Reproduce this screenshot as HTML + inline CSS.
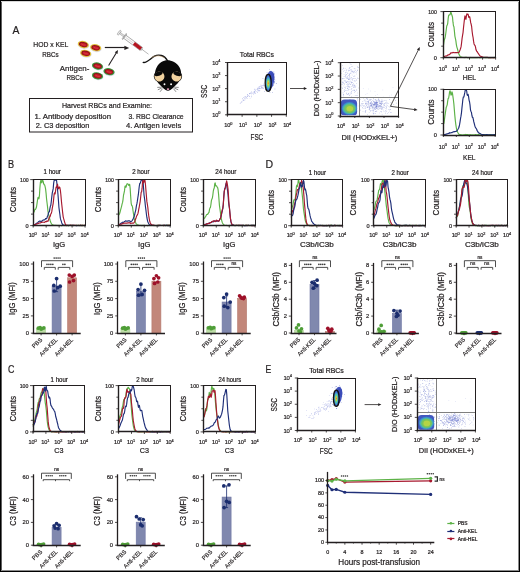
<!DOCTYPE html>
<html><head><meta charset="utf-8"><style>
html,body{margin:0;padding:0;background:#fff;overflow:hidden;}
svg{display:block;will-change:transform;}
text.t{stroke-width:0.2px;}
text.u{stroke-width:0.15px;}
text{font-family:"Liberation Sans", sans-serif;fill:#231f20;stroke:#231f20;stroke-width:0.22px;}
</style></head><body>
<svg width="520" height="572" viewBox="0 0 520 572">
<defs><filter id="bl" x="-30%" y="-30%" width="160%" height="160%"><feGaussianBlur stdDeviation="0.7"/></filter></defs>
<rect x="0.5" y="0.5" width="519" height="571" fill="#fff" stroke="#000" stroke-width="1"/>
<path d="M1.5 1V571" stroke="#606060" stroke-width="1"/><path d="M518.5 1V571" stroke="#8a8a8a" stroke-width="1"/>
<path d="M1 1.5H519" stroke="#d8d8d8" stroke-width="1"/><path d="M1 570.5H519" stroke="#8a8a8a" stroke-width="1"/>
<text x="12.6" y="33.8" font-size="10.8" textLength="6.9" lengthAdjust="spacingAndGlyphs">A</text>
<text x="8" y="167.8" font-size="11" textLength="6.1" lengthAdjust="spacingAndGlyphs">B</text>
<text x="8" y="373" font-size="11" textLength="6.4" lengthAdjust="spacingAndGlyphs">C</text>
<text x="265.5" y="167.8" font-size="11" textLength="7.6" lengthAdjust="spacingAndGlyphs">D</text>
<text x="265.6" y="373" font-size="11" textLength="5.8" lengthAdjust="spacingAndGlyphs">E</text>
<text x="33.3" y="47.3" font-size="7.8" textLength="35.1" lengthAdjust="spacingAndGlyphs">HOD x KEL</text>
<text x="42.2" y="56.9" font-size="7.8" textLength="16.4" lengthAdjust="spacingAndGlyphs">RBCs</text>
<text x="59.8" y="70.6" font-size="7.8" textLength="29.6" lengthAdjust="spacingAndGlyphs">Antigen-</text>
<text x="66.5" y="80.2" font-size="7.8" textLength="16.5" lengthAdjust="spacingAndGlyphs">RBCs</text>
<g transform="translate(83.3 44.5) rotate(12)">
<ellipse cx="0.3" cy="0.5" rx="5.9" ry="3.8" fill="#c8cde8" opacity="0.6"/>
<ellipse cx="0" cy="0" rx="5.6" ry="3.5" fill="#e2c13a"/>
<ellipse cx="0" cy="0" rx="4.4" ry="2.5" fill="#8c1018"/>
<ellipse cx="0.2" cy="0.1" rx="3.5" ry="1.75" fill="#c41c26"/>
<path d="M-2.2 -0.2 Q0 0.8 2.4 0.2" stroke="#e65058" stroke-width="0.5" fill="none"/>
</g>
<g transform="translate(95.7 47.7) rotate(12)">
<ellipse cx="0.3" cy="0.5" rx="5.9" ry="3.8" fill="#c8cde8" opacity="0.6"/>
<ellipse cx="0" cy="0" rx="5.6" ry="3.5" fill="#e2c13a"/>
<ellipse cx="0" cy="0" rx="4.4" ry="2.5" fill="#8c1018"/>
<ellipse cx="0.2" cy="0.1" rx="3.5" ry="1.75" fill="#c41c26"/>
<path d="M-2.2 -0.2 Q0 0.8 2.4 0.2" stroke="#e65058" stroke-width="0.5" fill="none"/>
</g>
<g transform="translate(85.7 53.3) rotate(12)">
<ellipse cx="0.3" cy="0.5" rx="5.9" ry="3.8" fill="#c8cde8" opacity="0.6"/>
<ellipse cx="0" cy="0" rx="5.6" ry="3.5" fill="#e2c13a"/>
<ellipse cx="0" cy="0" rx="4.4" ry="2.5" fill="#8c1018"/>
<ellipse cx="0.2" cy="0.1" rx="3.5" ry="1.75" fill="#c41c26"/>
<path d="M-2.2 -0.2 Q0 0.8 2.4 0.2" stroke="#e65058" stroke-width="0.5" fill="none"/>
</g>
<g transform="translate(97.5 66) rotate(12)">
<ellipse cx="0.3" cy="0.5" rx="5.9" ry="3.8" fill="#c8cde8" opacity="0.6"/>
<ellipse cx="0" cy="0" rx="5.6" ry="3.5" fill="#3c9a3c"/>
<ellipse cx="0" cy="0" rx="4.4" ry="2.5" fill="#8c1018"/>
<ellipse cx="0.2" cy="0.1" rx="3.5" ry="1.75" fill="#c41c26"/>
<path d="M-2.2 -0.2 Q0 0.8 2.4 0.2" stroke="#e65058" stroke-width="0.5" fill="none"/>
</g>
<g transform="translate(109 71.7) rotate(12)">
<ellipse cx="0.3" cy="0.5" rx="5.9" ry="3.8" fill="#c8cde8" opacity="0.6"/>
<ellipse cx="0" cy="0" rx="5.6" ry="3.5" fill="#3c9a3c"/>
<ellipse cx="0" cy="0" rx="4.4" ry="2.5" fill="#8c1018"/>
<ellipse cx="0.2" cy="0.1" rx="3.5" ry="1.75" fill="#c41c26"/>
<path d="M-2.2 -0.2 Q0 0.8 2.4 0.2" stroke="#e65058" stroke-width="0.5" fill="none"/>
</g>
<g transform="translate(97.5 75.8) rotate(12)">
<ellipse cx="0.3" cy="0.5" rx="5.9" ry="3.8" fill="#c8cde8" opacity="0.6"/>
<ellipse cx="0" cy="0" rx="5.6" ry="3.5" fill="#3c9a3c"/>
<ellipse cx="0" cy="0" rx="4.4" ry="2.5" fill="#8c1018"/>
<ellipse cx="0.2" cy="0.1" rx="3.5" ry="1.75" fill="#c41c26"/>
<path d="M-2.2 -0.2 Q0 0.8 2.4 0.2" stroke="#e65058" stroke-width="0.5" fill="none"/>
</g>
<line x1="104.8" y1="47.5" x2="124.9" y2="47.5" stroke="#231f20" stroke-width="1.2"/>
<path d="M129.2 47.9L124.4 50.1L124.4 45.7z" fill="#231f20"/>
<line x1="108.6" y1="65.4" x2="116.38" y2="52.65" stroke="#231f20" stroke-width="1.05"/>
<path d="M118 50L117.49 53.91L114.76 52.24z" fill="#231f20"/>
<g transform="translate(119 32.5) rotate(36.32)">
<rect x="-0.6" y="-2.6" width="1.8" height="5.2" rx="0.8" fill="#e8e8e8" stroke="#8a8a8a" stroke-width="0.5"/>
<rect x="1.2" y="-0.8" width="5" height="1.6" fill="#e0e0e0" stroke="#8a8a8a" stroke-width="0.45"/>
<rect x="6.2" y="-3.4" width="1.0" height="6.8" fill="#d8d8d8" stroke="#7a7a7a" stroke-width="0.45"/>
<rect x="7.2" y="-1.9" width="20.5" height="3.8" fill="#fafafa" stroke="#6a6a6a" stroke-width="0.5"/>
<line x1="8" y1="0" x2="18" y2="0" stroke="#b0b0b0" stroke-width="0.4"/>
<rect x="18.5" y="-1.7" width="9" height="3.4" fill="#b5141f"/>
<rect x="27.5" y="-0.9" width="1.4" height="1.8" fill="#c8c8c8" stroke="#7a7a7a" stroke-width="0.3"/>
<line x1="28.9" y1="0" x2="36.62" y2="0" stroke="#8a8a8a" stroke-width="0.55"/>
</g>
<path d="M143.2 62.4 C 146.5 63.4, 150.5 58.5, 154.5 56.2 C 158.5 54.0, 164.5 55.0, 167.6 60.8" fill="none" stroke="#111" stroke-width="1.35" stroke-linecap="round"/>
<path d="M151.5 57.6 C 155 55.4, 160.5 55.2, 164.5 57.8" fill="none" stroke="#d9b07a" stroke-width="0.55"/>
<path d="M168 90.8 C 165.5 90.8, 160 85.5, 157.5 82 C 154.5 78, 154.2 72, 156.6 67.5 C 159 62.5, 163.5 60.2, 167.5 60.2 C 171.5 60.2, 177 62.5, 179.6 67.5 C 182 72, 181.6 78, 178.6 82 C 176 85.5, 170.5 90.8, 168 90.8 Z" fill="#0a0a0a"/>
<g transform="rotate(-18 159.4 76.3)">
<ellipse cx="159.4" cy="76.3" rx="5.6" ry="5.5" fill="#0a0a0a"/>
<ellipse cx="159.4" cy="76.5" rx="5.0" ry="4.9" fill="#f2d3a0"/>
<ellipse cx="159.4" cy="73.6" rx="4.1" ry="2.1" fill="#0a0a0a"/>
</g>
<g transform="rotate(18 176.5 76.3)">
<ellipse cx="176.5" cy="76.3" rx="5.6" ry="5.5" fill="#0a0a0a"/>
<ellipse cx="176.5" cy="76.5" rx="5.0" ry="4.9" fill="#f2d3a0"/>
<ellipse cx="176.5" cy="73.6" rx="4.1" ry="2.1" fill="#0a0a0a"/>
</g>
<circle cx="164.5" cy="84.2" r="0.95" fill="#fff"/><circle cx="171.1" cy="84.2" r="0.95" fill="#fff"/>
<ellipse cx="168" cy="89.1" rx="1.25" ry="0.95" fill="#f2a6c6"/>
<line x1="161.5" y1="87.2" x2="157.3" y2="87.4" stroke="#2a2a2a" stroke-width="0.55"/>
<line x1="161.8" y1="88" x2="157.8" y2="89.8" stroke="#2a2a2a" stroke-width="0.55"/>
<line x1="162.6" y1="88.6" x2="160" y2="91.8" stroke="#2a2a2a" stroke-width="0.55"/>
<line x1="174.5" y1="87.2" x2="178.7" y2="87.4" stroke="#2a2a2a" stroke-width="0.55"/>
<line x1="174.2" y1="88" x2="178.2" y2="89.8" stroke="#2a2a2a" stroke-width="0.55"/>
<line x1="173.4" y1="88.6" x2="176" y2="91.8" stroke="#2a2a2a" stroke-width="0.55"/>
<rect x="29.5" y="98.5" width="163" height="33.5" fill="none" stroke="#231f20" stroke-width="1"/>
<text x="61.9" y="108" font-size="7.8" textLength="90.2" lengthAdjust="spacingAndGlyphs">Harvest RBCs and Examine:</text>
<text x="34.5" y="118.9" font-size="7.8" textLength="76.5" lengthAdjust="spacingAndGlyphs">1. Antibody deposition</text>
<text x="35.7" y="128.2" font-size="7.8" textLength="53.7" lengthAdjust="spacingAndGlyphs">2. C3 deposition</text>
<text x="128.4" y="118.9" font-size="7.8" textLength="55.3" lengthAdjust="spacingAndGlyphs">3. RBC Clearance</text>
<text x="126.1" y="127.9" font-size="7.8" textLength="55.1" lengthAdjust="spacingAndGlyphs">4. Antigen levels</text>
<path d="M243.24 100.01h0.55v0.55h-0.55zM249.8 98.28h0.55v0.55h-0.55zM261.55 85.11h0.55v0.55h-0.55zM254.85 90.04h0.55v0.55h-0.55zM243.5 97.06h0.55v0.55h-0.55zM253.14 94.32h0.55v0.55h-0.55zM251.48 91.3h0.55v0.55h-0.55zM244 98.2h0.55v0.55h-0.55zM259.21 90.61h0.55v0.55h-0.55zM243.31 99.97h0.55v0.55h-0.55zM251.03 95.79h0.55v0.55h-0.55zM254.58 93.27h0.55v0.55h-0.55zM250.6 92.97h0.55v0.55h-0.55zM254.43 92.3h0.55v0.55h-0.55zM259.3 87.97h0.55v0.55h-0.55zM262.55 85.62h0.55v0.55h-0.55zM247.45 94.72h0.55v0.55h-0.55zM257.2 92.38h0.55v0.55h-0.55zM257.43 88.33h0.55v0.55h-0.55zM247.15 94.12h0.55v0.55h-0.55zM239.89 103.09h0.55v0.55h-0.55zM263.4 85.21h0.55v0.55h-0.55zM248.71 95.64h0.55v0.55h-0.55zM247.29 94.71h0.55v0.55h-0.55zM261.87 85.16h0.55v0.55h-0.55zM254.77 89.76h0.55v0.55h-0.55zM252.37 93.44h0.55v0.55h-0.55zM258.87 87.6h0.55v0.55h-0.55zM241.59 101.87h0.55v0.55h-0.55zM259.79 86.47h0.55v0.55h-0.55zM251.39 93.62h0.55v0.55h-0.55zM242.96 100.56h0.55v0.55h-0.55zM258.12 90.63h0.55v0.55h-0.55zM262.72 87.22h0.55v0.55h-0.55zM245.89 97.05h0.55v0.55h-0.55zM257.15 89.35h0.55v0.55h-0.55zM250.95 96.62h0.55v0.55h-0.55zM261.05 88.22h0.55v0.55h-0.55zM257.83 88.73h0.55v0.55h-0.55zM247.32 96.33h0.55v0.55h-0.55zM260.91 86.91h0.55v0.55h-0.55zM258.65 88.8h0.55v0.55h-0.55zM258.56 88.44h0.55v0.55h-0.55zM259.23 86.29h0.55v0.55h-0.55zM250.43 93.38h0.55v0.55h-0.55zM260.15 88.17h0.55v0.55h-0.55zM262.17 88.01h0.55v0.55h-0.55zM243.47 99.59h0.55v0.55h-0.55zM260.59 84.87h0.55v0.55h-0.55zM251.76 91.88h0.55v0.55h-0.55zM253.64 92.35h0.55v0.55h-0.55zM245.74 98.35h0.55v0.55h-0.55zM256.84 89.3h0.55v0.55h-0.55zM247.8 95.41h0.55v0.55h-0.55zM261.38 86.18h0.55v0.55h-0.55zM247.79 94.99h0.55v0.55h-0.55zM254.57 88.68h0.55v0.55h-0.55zM250.88 92.39h0.55v0.55h-0.55zM257.13 91.63h0.55v0.55h-0.55zM243.77 97.57h0.55v0.55h-0.55zM245.32 96.58h0.55v0.55h-0.55zM259.35 87.66h0.55v0.55h-0.55zM256.93 87.79h0.55v0.55h-0.55zM254.73 91.07h0.55v0.55h-0.55zM260.99 86.28h0.55v0.55h-0.55zM246.97 95.97h0.55v0.55h-0.55zM260.2 86.53h0.55v0.55h-0.55zM244.52 99.88h0.55v0.55h-0.55zM263.44 83.86h0.55v0.55h-0.55zM255.27 90h0.55v0.55h-0.55zM258.3 90.13h0.55v0.55h-0.55zM263.47 85.45h0.55v0.55h-0.55zM259.56 90.08h0.55v0.55h-0.55zM259.08 88.34h0.55v0.55h-0.55zM241.75 101.21h0.55v0.55h-0.55zM249.04 96.18h0.55v0.55h-0.55zM242.49 99.81h0.55v0.55h-0.55zM244.8 96.67h0.55v0.55h-0.55zM247 98.16h0.55v0.55h-0.55zM261.91 87.84h0.55v0.55h-0.55zM244.71 98.87h0.55v0.55h-0.55zM249.46 96.17h0.55v0.55h-0.55zM253.11 92.95h0.55v0.55h-0.55zM262.31 86.9h0.55v0.55h-0.55zM262.84 85.75h0.55v0.55h-0.55zM260.04 88.52h0.55v0.55h-0.55zM246.28 96.92h0.55v0.55h-0.55zM255.75 89.29h0.55v0.55h-0.55zM258.31 90.1h0.55v0.55h-0.55zM240.6 102.22h0.55v0.55h-0.55zM257.94 88.58h0.55v0.55h-0.55zM250.53 92.56h0.55v0.55h-0.55zM254.77 92.6h0.55v0.55h-0.55zM256.14 91.38h0.55v0.55h-0.55zM257.03 90.45h0.55v0.55h-0.55zM253.96 89.19h0.55v0.55h-0.55zM253.99 91.36h0.55v0.55h-0.55zM244.69 95.9h0.55v0.55h-0.55zM253.68 91.4h0.55v0.55h-0.55zM242.01 98.12h0.55v0.55h-0.55zM253.9 91.83h0.55v0.55h-0.55zM255.23 93.13h0.55v0.55h-0.55zM259.37 86.52h0.55v0.55h-0.55zM249.48 93.78h0.55v0.55h-0.55zM241.21 101.78h0.55v0.55h-0.55zM254.62 91.1h0.55v0.55h-0.55zM246.48 96.72h0.55v0.55h-0.55zM258.29 86.83h0.55v0.55h-0.55zM249.07 93.37h0.55v0.55h-0.55zM249.38 92.99h0.55v0.55h-0.55z" fill="#9aa2e0"/>
<path d="M267.97 80.17h0.6v0.6h-0.6zM272.89 84.79h0.6v0.6h-0.6zM265.51 80.59h0.6v0.6h-0.6zM267.82 81.65h0.6v0.6h-0.6zM265.42 81.72h0.6v0.6h-0.6zM268.88 88.45h0.6v0.6h-0.6zM269.8 83.64h0.6v0.6h-0.6zM264.31 90.91h0.6v0.6h-0.6zM264.1 85.52h0.6v0.6h-0.6zM269.22 77.08h0.6v0.6h-0.6zM268.3 77.91h0.6v0.6h-0.6zM270.38 80.84h0.6v0.6h-0.6zM274.18 73.41h0.6v0.6h-0.6zM270.01 77.14h0.6v0.6h-0.6zM272.7 71.84h0.6v0.6h-0.6zM268.44 82.03h0.6v0.6h-0.6zM265.2 85.15h0.6v0.6h-0.6zM269.13 85.84h0.6v0.6h-0.6zM272.35 77.09h0.6v0.6h-0.6zM267.65 79.99h0.6v0.6h-0.6zM270.59 85.34h0.6v0.6h-0.6zM268.13 78.18h0.6v0.6h-0.6zM267.91 78.26h0.6v0.6h-0.6zM268.93 80.52h0.6v0.6h-0.6zM274.63 79.63h0.6v0.6h-0.6zM268.4 83.18h0.6v0.6h-0.6zM267.39 79.18h0.6v0.6h-0.6zM268.9 84.73h0.6v0.6h-0.6zM265.33 86.97h0.6v0.6h-0.6zM268.45 81.84h0.6v0.6h-0.6zM270.96 84.51h0.6v0.6h-0.6zM271.79 82.37h0.6v0.6h-0.6zM269.14 82.63h0.6v0.6h-0.6zM266.2 86.37h0.6v0.6h-0.6zM268.43 75.19h0.6v0.6h-0.6zM274.37 81.32h0.6v0.6h-0.6zM265.33 89.2h0.6v0.6h-0.6zM267.89 85.91h0.6v0.6h-0.6zM267.6 79.77h0.6v0.6h-0.6zM266.71 71.91h0.6v0.6h-0.6zM267.14 80.49h0.6v0.6h-0.6zM269.63 92.52h0.6v0.6h-0.6zM266.26 85.42h0.6v0.6h-0.6zM268.07 80.29h0.6v0.6h-0.6zM266.9 73.94h0.6v0.6h-0.6zM268.37 75.49h0.6v0.6h-0.6zM269.87 78h0.6v0.6h-0.6zM272.26 82.34h0.6v0.6h-0.6zM269.01 86.43h0.6v0.6h-0.6zM270.66 81.22h0.6v0.6h-0.6zM269.27 80.62h0.6v0.6h-0.6zM271.42 85.15h0.6v0.6h-0.6zM269.72 84.96h0.6v0.6h-0.6zM267.76 83.33h0.6v0.6h-0.6zM265.12 86.82h0.6v0.6h-0.6zM269.49 82.07h0.6v0.6h-0.6zM270.83 81.37h0.6v0.6h-0.6zM267.98 86.52h0.6v0.6h-0.6zM270.3 77.08h0.6v0.6h-0.6zM271.62 73.6h0.6v0.6h-0.6zM273.45 81.02h0.6v0.6h-0.6zM267.96 91.49h0.6v0.6h-0.6zM274.43 82.5h0.6v0.6h-0.6zM270.13 86.38h0.6v0.6h-0.6zM273.48 81.21h0.6v0.6h-0.6zM268.88 86.82h0.6v0.6h-0.6zM269.52 84.73h0.6v0.6h-0.6zM271.63 76.26h0.6v0.6h-0.6zM269.18 68.88h0.6v0.6h-0.6zM267.86 87.2h0.6v0.6h-0.6zM265.92 86.41h0.6v0.6h-0.6zM271.81 81.31h0.6v0.6h-0.6zM269.32 81.57h0.6v0.6h-0.6zM267.55 79.61h0.6v0.6h-0.6zM268.87 83.97h0.6v0.6h-0.6zM271.79 78.11h0.6v0.6h-0.6zM271.89 77.96h0.6v0.6h-0.6zM268.75 82.82h0.6v0.6h-0.6zM269.43 80.61h0.6v0.6h-0.6zM270.42 78.78h0.6v0.6h-0.6zM267.99 80.04h0.6v0.6h-0.6zM271.75 81.08h0.6v0.6h-0.6zM273.77 82.86h0.6v0.6h-0.6zM262.64 78.13h0.6v0.6h-0.6zM273.35 81.83h0.6v0.6h-0.6zM268.96 77.07h0.6v0.6h-0.6zM271.85 86.24h0.6v0.6h-0.6zM270.7 83.39h0.6v0.6h-0.6zM272.25 85.45h0.6v0.6h-0.6zM265.95 84.25h0.6v0.6h-0.6zM269.88 80.76h0.6v0.6h-0.6zM271.19 81.6h0.6v0.6h-0.6zM261.37 87.23h0.6v0.6h-0.6zM271.95 81.01h0.6v0.6h-0.6zM268.36 82.1h0.6v0.6h-0.6zM266.14 82.13h0.6v0.6h-0.6zM269.1 79.51h0.6v0.6h-0.6zM267.68 77.78h0.6v0.6h-0.6zM271.11 87.67h0.6v0.6h-0.6zM270.62 81.17h0.6v0.6h-0.6zM266.82 84.15h0.6v0.6h-0.6zM274.33 74.43h0.6v0.6h-0.6zM273.68 71.77h0.6v0.6h-0.6zM268.33 82.83h0.6v0.6h-0.6zM267.2 73.81h0.6v0.6h-0.6zM269.24 85.25h0.6v0.6h-0.6zM267.35 87.14h0.6v0.6h-0.6zM266.34 88.9h0.6v0.6h-0.6zM269.52 82.31h0.6v0.6h-0.6zM270.64 82.88h0.6v0.6h-0.6zM272.26 91.9h0.6v0.6h-0.6zM270.81 80.64h0.6v0.6h-0.6zM267.13 77.35h0.6v0.6h-0.6zM269.49 80.74h0.6v0.6h-0.6zM269.29 81.21h0.6v0.6h-0.6zM271.5 75.23h0.6v0.6h-0.6zM266.2 85.94h0.6v0.6h-0.6zM271.76 79.06h0.6v0.6h-0.6zM272.94 78.59h0.6v0.6h-0.6zM270.06 72.81h0.6v0.6h-0.6zM271.42 81.46h0.6v0.6h-0.6zM271.45 84.81h0.6v0.6h-0.6zM269.52 81.99h0.6v0.6h-0.6zM272.36 80.93h0.6v0.6h-0.6zM269.01 81.51h0.6v0.6h-0.6zM270.7 85.76h0.6v0.6h-0.6zM274.03 81.63h0.6v0.6h-0.6zM272.89 78.82h0.6v0.6h-0.6zM270.8 82.15h0.6v0.6h-0.6zM273.16 84.78h0.6v0.6h-0.6zM268.01 83.88h0.6v0.6h-0.6zM270.51 80.1h0.6v0.6h-0.6zM269.43 77.03h0.6v0.6h-0.6zM275.93 83.04h0.6v0.6h-0.6zM272.59 76.49h0.6v0.6h-0.6zM267.01 80.36h0.6v0.6h-0.6zM268.58 85.04h0.6v0.6h-0.6zM266.73 83.54h0.6v0.6h-0.6zM273.71 77.83h0.6v0.6h-0.6zM272.3 77.41h0.6v0.6h-0.6zM270.06 83.23h0.6v0.6h-0.6zM274.08 78.93h0.6v0.6h-0.6zM269.17 86.26h0.6v0.6h-0.6zM266.71 80.99h0.6v0.6h-0.6zM267.9 77.94h0.6v0.6h-0.6zM270.62 84.88h0.6v0.6h-0.6zM274.66 88.64h0.6v0.6h-0.6zM272.66 81.15h0.6v0.6h-0.6zM268.68 81.96h0.6v0.6h-0.6zM262.94 88.16h0.6v0.6h-0.6zM268.62 76.36h0.6v0.6h-0.6zM267.79 85.22h0.6v0.6h-0.6zM272.68 80.12h0.6v0.6h-0.6zM270.54 81.27h0.6v0.6h-0.6zM266.98 81.78h0.6v0.6h-0.6zM270.58 74.37h0.6v0.6h-0.6zM273.14 74.59h0.6v0.6h-0.6zM270.72 76.64h0.6v0.6h-0.6zM267.99 77.84h0.6v0.6h-0.6zM271.98 75.86h0.6v0.6h-0.6z" fill="#5a6ac8"/>
<g filter="url(#bl)">
<ellipse cx="270" cy="80.4" rx="4.2" ry="9.6" fill="#4456c0" transform="rotate(8 270 80.4)"/>
<ellipse cx="271.7" cy="77.2" rx="2.6" ry="4.6" fill="#3a4cb8"/>
</g>
<ellipse cx="268.2" cy="83.2" rx="2.6" ry="7.8" fill="#3d6fd0" transform="rotate(0 268.2 83.2)"/>
<ellipse cx="268.2" cy="83.2" rx="2.08" ry="6.24" fill="#40a8d0" transform="rotate(0 268.2 83.2)"/>
<ellipse cx="268.2" cy="83.2" rx="1.56" ry="4.68" fill="#5cc8a0" transform="rotate(0 268.2 83.2)"/>
<ellipse cx="268.2" cy="83.2" rx="1.09" ry="3.28" fill="#a8d848" transform="rotate(0 268.2 83.2)"/>
<ellipse cx="268.2" cy="83.2" rx="0.7" ry="2.11" fill="#e8d838" transform="rotate(0 268.2 83.2)"/>
<ellipse cx="268.2" cy="83.2" rx="0.34" ry="1.01" fill="#e84828" transform="rotate(0 268.2 83.2)"/>
<ellipse cx="268.2" cy="82.9" rx="3" ry="8.5" fill="none" stroke="#111" stroke-width="1.3"/>
<rect x="227.5" y="62.5" width="59" height="52" fill="none" stroke="#231f20" stroke-width="1"/>
<line x1="227.5" y1="62" x2="227.5" y2="115.4" stroke="#231f20" stroke-width="1.4"/>
<line x1="226.8" y1="114.5" x2="286.8" y2="114.5" stroke="#231f20" stroke-width="1.4"/>
<line x1="225" y1="114.8" x2="227.4" y2="114.8" stroke="#231f20" stroke-width="0.8"/>
<text class="t" x="220.1" y="116.8" font-size="5.6" text-anchor="end" letter-spacing="-0.15">10<tspan dy="-2.52" font-size="3.81">0</tspan></text>
<line x1="227.4" y1="114.8" x2="227.4" y2="116.8" stroke="#231f20" stroke-width="0.8"/>
<text class="t" x="228.2" y="127.2" font-size="5.6" text-anchor="middle" letter-spacing="-0.15">10<tspan dy="-2.52" font-size="3.81">0</tspan></text>
<line x1="225" y1="101.72" x2="227.4" y2="101.72" stroke="#231f20" stroke-width="0.8"/>
<text class="t" x="220.1" y="103.72" font-size="5.6" text-anchor="end" letter-spacing="-0.15">10<tspan dy="-2.52" font-size="3.81">1</tspan></text>
<line x1="242.12" y1="114.8" x2="242.12" y2="116.8" stroke="#231f20" stroke-width="0.8"/>
<text class="t" x="242.92" y="127.2" font-size="5.6" text-anchor="middle" letter-spacing="-0.15">10<tspan dy="-2.52" font-size="3.81">1</tspan></text>
<line x1="225" y1="88.65" x2="227.4" y2="88.65" stroke="#231f20" stroke-width="0.8"/>
<text class="t" x="220.1" y="90.65" font-size="5.6" text-anchor="end" letter-spacing="-0.15">10<tspan dy="-2.52" font-size="3.81">2</tspan></text>
<line x1="256.85" y1="114.8" x2="256.85" y2="116.8" stroke="#231f20" stroke-width="0.8"/>
<text class="t" x="257.65" y="127.2" font-size="5.6" text-anchor="middle" letter-spacing="-0.15">10<tspan dy="-2.52" font-size="3.81">2</tspan></text>
<line x1="225" y1="75.58" x2="227.4" y2="75.58" stroke="#231f20" stroke-width="0.8"/>
<text class="t" x="220.1" y="77.58" font-size="5.6" text-anchor="end" letter-spacing="-0.15">10<tspan dy="-2.52" font-size="3.81">3</tspan></text>
<line x1="271.57" y1="114.8" x2="271.57" y2="116.8" stroke="#231f20" stroke-width="0.8"/>
<text class="t" x="272.38" y="127.2" font-size="5.6" text-anchor="middle" letter-spacing="-0.15">10<tspan dy="-2.52" font-size="3.81">3</tspan></text>
<line x1="225" y1="62.5" x2="227.4" y2="62.5" stroke="#231f20" stroke-width="0.8"/>
<text class="t" x="220.1" y="64.5" font-size="5.6" text-anchor="end" letter-spacing="-0.15">10<tspan dy="-2.52" font-size="3.81">4</tspan></text>
<line x1="286.3" y1="114.8" x2="286.3" y2="116.8" stroke="#231f20" stroke-width="0.8"/>
<text class="t" x="287.1" y="127.2" font-size="5.6" text-anchor="middle" letter-spacing="-0.15">10<tspan dy="-2.52" font-size="3.81">4</tspan></text>
<text x="206.8" y="91.55" font-size="8.6" text-anchor="middle" transform="rotate(-90 206.8 91.55)" textLength="13.1" lengthAdjust="spacingAndGlyphs">SSC</text>
<text x="256.85" y="139.8" font-size="8.6" text-anchor="middle" textLength="12.7" lengthAdjust="spacingAndGlyphs">FSC</text>
<text x="256.9" y="56.7" font-size="6.9" text-anchor="middle" textLength="34.1" lengthAdjust="spacingAndGlyphs">Total RBCs</text>
<line x1="290" y1="88.5" x2="304.3" y2="88.5" stroke="#231f20" stroke-width="0.8"/>
<path d="M307 88.5L303.8 89.9L303.8 87.1z" fill="#231f20"/>
<path d="M344.86 68.48h0.55v0.55h-0.55zM348.09 86.15h0.55v0.55h-0.55zM356.18 83h0.55v0.55h-0.55zM346.32 73.94h0.55v0.55h-0.55zM351.14 69.4h0.55v0.55h-0.55zM350.73 64.35h0.55v0.55h-0.55zM349.06 70.11h0.55v0.55h-0.55zM345.87 76.95h0.55v0.55h-0.55zM345.38 87.49h0.55v0.55h-0.55zM349.18 75.92h0.55v0.55h-0.55zM351.94 90.29h0.55v0.55h-0.55zM343.82 80.13h0.55v0.55h-0.55zM342.01 82.1h0.55v0.55h-0.55zM349.32 78.81h0.55v0.55h-0.55zM343.42 77.88h0.55v0.55h-0.55zM343.17 68.16h0.55v0.55h-0.55zM350.86 70.65h0.55v0.55h-0.55zM356.38 89.14h0.55v0.55h-0.55zM343.11 82.22h0.55v0.55h-0.55zM348.18 79.3h0.55v0.55h-0.55zM355.16 69.92h0.55v0.55h-0.55zM353.85 70.76h0.55v0.55h-0.55zM347.61 73.38h0.55v0.55h-0.55zM358 87.64h0.55v0.55h-0.55zM354.48 90.4h0.55v0.55h-0.55zM346 81.18h0.55v0.55h-0.55zM357.43 77.87h0.55v0.55h-0.55zM350.65 81.67h0.55v0.55h-0.55zM353.1 78.19h0.55v0.55h-0.55zM348.65 84.34h0.55v0.55h-0.55zM350.15 73.13h0.55v0.55h-0.55zM354.78 68.74h0.55v0.55h-0.55zM342.53 68.9h0.55v0.55h-0.55zM355.19 78.24h0.55v0.55h-0.55zM343.87 70.38h0.55v0.55h-0.55zM352 71.21h0.55v0.55h-0.55zM342.12 88.11h0.55v0.55h-0.55zM342.56 78.62h0.55v0.55h-0.55zM349.5 77.38h0.55v0.55h-0.55zM349.23 95.45h0.55v0.55h-0.55zM346.53 69.13h0.55v0.55h-0.55zM347.49 84.57h0.55v0.55h-0.55zM346.83 77.04h0.55v0.55h-0.55zM345.33 76.62h0.55v0.55h-0.55zM350.48 78.04h0.55v0.55h-0.55zM352.34 65.93h0.55v0.55h-0.55zM344.05 91.07h0.55v0.55h-0.55zM349.65 75.66h0.55v0.55h-0.55zM345.84 71.83h0.55v0.55h-0.55zM349.83 92.71h0.55v0.55h-0.55zM347.65 86.15h0.55v0.55h-0.55zM351.05 78.78h0.55v0.55h-0.55zM343.36 71.5h0.55v0.55h-0.55zM349.45 86.28h0.55v0.55h-0.55zM346.44 82.44h0.55v0.55h-0.55zM353.76 84.89h0.55v0.55h-0.55zM354.62 86.56h0.55v0.55h-0.55zM353.18 83.2h0.55v0.55h-0.55zM353.69 72.58h0.55v0.55h-0.55zM347.57 89.92h0.55v0.55h-0.55zM349.61 67.08h0.55v0.55h-0.55zM343.36 95.82h0.55v0.55h-0.55zM349.73 63.52h0.55v0.55h-0.55zM347.09 76.73h0.55v0.55h-0.55zM348.06 79.09h0.55v0.55h-0.55zM347.33 72.63h0.55v0.55h-0.55zM350.82 92.79h0.55v0.55h-0.55zM353.19 72.5h0.55v0.55h-0.55zM342.83 83.09h0.55v0.55h-0.55zM345.42 75.51h0.55v0.55h-0.55zM354.9 72.03h0.55v0.55h-0.55zM354.85 95.48h0.55v0.55h-0.55zM347.28 88.45h0.55v0.55h-0.55zM348.83 79.55h0.55v0.55h-0.55zM343.82 76.08h0.55v0.55h-0.55zM349.76 86.78h0.55v0.55h-0.55zM355.55 85.85h0.55v0.55h-0.55zM344.45 87.02h0.55v0.55h-0.55zM349.46 68.35h0.55v0.55h-0.55zM346.15 81.89h0.55v0.55h-0.55zM356.49 71.61h0.55v0.55h-0.55zM353.44 89.94h0.55v0.55h-0.55zM345.46 79.99h0.55v0.55h-0.55zM354.54 85.25h0.55v0.55h-0.55zM356.19 80.46h0.55v0.55h-0.55zM348.99 73.18h0.55v0.55h-0.55zM349.58 81.06h0.55v0.55h-0.55zM356.97 95.26h0.55v0.55h-0.55zM348.45 93.73h0.55v0.55h-0.55zM342.77 92.58h0.55v0.55h-0.55zM348.04 70.77h0.55v0.55h-0.55zM347.36 76.39h0.55v0.55h-0.55zM353.77 86.48h0.55v0.55h-0.55zM347.91 75.15h0.55v0.55h-0.55zM349.23 95.31h0.55v0.55h-0.55zM351.58 88.36h0.55v0.55h-0.55zM348.66 68.81h0.55v0.55h-0.55zM345.39 88.48h0.55v0.55h-0.55zM350.15 72.73h0.55v0.55h-0.55zM347.56 78.34h0.55v0.55h-0.55zM347.62 84.76h0.55v0.55h-0.55zM351.26 91.63h0.55v0.55h-0.55zM354.97 95.38h0.55v0.55h-0.55zM354.25 78.49h0.55v0.55h-0.55zM349.23 86.89h0.55v0.55h-0.55zM347.73 87.45h0.55v0.55h-0.55zM356.28 73.77h0.55v0.55h-0.55zM349.65 89.06h0.55v0.55h-0.55zM353.86 80.61h0.55v0.55h-0.55zM347.49 83.04h0.55v0.55h-0.55zM348.57 79.07h0.55v0.55h-0.55zM343.01 94.68h0.55v0.55h-0.55zM349.31 82.64h0.55v0.55h-0.55zM352.62 78.55h0.55v0.55h-0.55zM347.85 82.59h0.55v0.55h-0.55zM343.86 90.43h0.55v0.55h-0.55zM345.48 72.74h0.55v0.55h-0.55zM344.51 83.5h0.55v0.55h-0.55zM353.9 75.86h0.55v0.55h-0.55zM343.32 93.99h0.55v0.55h-0.55zM349.23 74.82h0.55v0.55h-0.55zM345.81 86.57h0.55v0.55h-0.55zM354.74 79.88h0.55v0.55h-0.55zM348.33 70.25h0.55v0.55h-0.55zM343.39 67.81h0.55v0.55h-0.55zM345.81 74.56h0.55v0.55h-0.55zM341.81 87.26h0.55v0.55h-0.55zM352.6 86.52h0.55v0.55h-0.55zM350 69.43h0.55v0.55h-0.55zM349.11 74.46h0.55v0.55h-0.55zM345.42 74.65h0.55v0.55h-0.55zM349.28 78.55h0.55v0.55h-0.55zM354.63 68.46h0.55v0.55h-0.55zM349.77 94.03h0.55v0.55h-0.55zM356.18 95.22h0.55v0.55h-0.55zM353.85 67.91h0.55v0.55h-0.55zM347.98 78.04h0.55v0.55h-0.55zM342.24 65.02h0.55v0.55h-0.55zM350.78 81.45h0.55v0.55h-0.55zM345.53 72.26h0.55v0.55h-0.55zM346.38 77.9h0.55v0.55h-0.55zM347.16 81.35h0.55v0.55h-0.55zM347 85.81h0.55v0.55h-0.55zM352.6 85.51h0.55v0.55h-0.55zM345.67 75.64h0.55v0.55h-0.55zM352.08 79.89h0.55v0.55h-0.55zM351.47 96h0.55v0.55h-0.55zM353.76 84.13h0.55v0.55h-0.55zM349.64 67.44h0.55v0.55h-0.55zM354.7 75.78h0.55v0.55h-0.55zM352.48 83.91h0.55v0.55h-0.55zM351.13 90.93h0.55v0.55h-0.55zM346.68 77.97h0.55v0.55h-0.55zM344.55 78.07h0.55v0.55h-0.55zM356.47 90.25h0.55v0.55h-0.55zM353.8 90.02h0.55v0.55h-0.55zM343.62 85.67h0.55v0.55h-0.55zM349.27 74.91h0.55v0.55h-0.55zM351.4 70.97h0.55v0.55h-0.55zM355.21 87.14h0.55v0.55h-0.55zM352.65 78.26h0.55v0.55h-0.55zM348.24 89.22h0.55v0.55h-0.55zM354.9 91.33h0.55v0.55h-0.55zM350.79 77.16h0.55v0.55h-0.55zM348.42 93.12h0.55v0.55h-0.55zM357.95 78.43h0.55v0.55h-0.55zM346.76 94.52h0.55v0.55h-0.55zM353.77 88.95h0.55v0.55h-0.55zM341.88 78.1h0.55v0.55h-0.55zM346.54 83.99h0.55v0.55h-0.55zM351.3 86.29h0.55v0.55h-0.55zM342.63 81.62h0.55v0.55h-0.55zM357.34 65.99h0.55v0.55h-0.55zM351.33 88.96h0.55v0.55h-0.55zM345.5 90.14h0.55v0.55h-0.55zM347.62 94.34h0.55v0.55h-0.55zM352.62 84.16h0.55v0.55h-0.55zM357.19 69.84h0.55v0.55h-0.55zM345.77 90.36h0.55v0.55h-0.55zM354.83 81.32h0.55v0.55h-0.55zM354.1 71.17h0.55v0.55h-0.55zM350.79 70.27h0.55v0.55h-0.55zM351.53 76.96h0.55v0.55h-0.55zM345.8 82.46h0.55v0.55h-0.55zM346.03 92.7h0.55v0.55h-0.55zM350.84 82.81h0.55v0.55h-0.55zM353.37 87.12h0.55v0.55h-0.55zM351.01 66.07h0.55v0.55h-0.55zM354.34 87.01h0.55v0.55h-0.55zM353.26 76.38h0.55v0.55h-0.55zM351.52 72.77h0.55v0.55h-0.55zM351.83 74.66h0.55v0.55h-0.55zM348.3 86.48h0.55v0.55h-0.55zM347.64 88.45h0.55v0.55h-0.55zM352.21 85.53h0.55v0.55h-0.55zM357.28 66.96h0.55v0.55h-0.55zM353.96 90.3h0.55v0.55h-0.55zM344.39 89.51h0.55v0.55h-0.55zM353.48 71.2h0.55v0.55h-0.55zM344.31 80.76h0.55v0.55h-0.55zM349.95 84.23h0.55v0.55h-0.55zM348.51 84.59h0.55v0.55h-0.55zM352.21 71.64h0.55v0.55h-0.55zM351.97 79.34h0.55v0.55h-0.55zM344.02 84.01h0.55v0.55h-0.55zM358.23 67.1h0.55v0.55h-0.55zM349.2 73.92h0.55v0.55h-0.55zM350.54 84.52h0.55v0.55h-0.55zM345.2 81.62h0.55v0.55h-0.55zM350.97 93.29h0.55v0.55h-0.55zM357.51 92.71h0.55v0.55h-0.55zM357.38 70.08h0.55v0.55h-0.55zM346.31 93.47h0.55v0.55h-0.55zM351.23 82.08h0.55v0.55h-0.55zM353.81 85.35h0.55v0.55h-0.55zM347.82 77.71h0.55v0.55h-0.55zM349.83 79.82h0.55v0.55h-0.55zM343.14 94.28h0.55v0.55h-0.55zM351.24 82.81h0.55v0.55h-0.55zM347.41 88.04h0.55v0.55h-0.55zM341.12 73.39h0.55v0.55h-0.55zM352.47 82.35h0.55v0.55h-0.55zM347.96 75.43h0.55v0.55h-0.55zM349.08 78.75h0.55v0.55h-0.55zM348.09 81.55h0.55v0.55h-0.55zM341.08 84.54h0.55v0.55h-0.55zM345.9 70.35h0.55v0.55h-0.55zM343.76 74.19h0.55v0.55h-0.55zM352.23 70.81h0.55v0.55h-0.55zM349.64 81.03h0.55v0.55h-0.55zM354.17 92.02h0.55v0.55h-0.55zM344.42 91.07h0.55v0.55h-0.55zM348.92 83.03h0.55v0.55h-0.55zM348.24 89.64h0.55v0.55h-0.55zM342.41 84.42h0.55v0.55h-0.55zM356.35 78.91h0.55v0.55h-0.55z" fill="#8e98d8"/>
<path d="M385.08 112.86h0.55v0.55h-0.55zM384.71 110.93h0.55v0.55h-0.55zM381.35 111.59h0.55v0.55h-0.55zM377.95 107.3h0.55v0.55h-0.55zM376.91 99.94h0.55v0.55h-0.55zM367.33 106.53h0.55v0.55h-0.55zM369.82 110.57h0.55v0.55h-0.55zM387.32 112.96h0.55v0.55h-0.55zM375 111.08h0.55v0.55h-0.55zM366.78 101.11h0.55v0.55h-0.55zM376 106.08h0.55v0.55h-0.55zM378.56 100.9h0.55v0.55h-0.55zM386.53 106.59h0.55v0.55h-0.55zM378.11 105.75h0.55v0.55h-0.55zM383.61 104.11h0.55v0.55h-0.55zM385.38 102.42h0.55v0.55h-0.55zM373.14 101.72h0.55v0.55h-0.55zM380.82 104.97h0.55v0.55h-0.55zM367.18 113.88h0.55v0.55h-0.55zM371.84 104.28h0.55v0.55h-0.55zM378.92 112.72h0.55v0.55h-0.55zM373.85 107.99h0.55v0.55h-0.55zM382.64 109.43h0.55v0.55h-0.55zM373 104.74h0.55v0.55h-0.55zM371.58 107.64h0.55v0.55h-0.55zM370.85 106.13h0.55v0.55h-0.55zM384.28 105.24h0.55v0.55h-0.55zM380.61 111.37h0.55v0.55h-0.55zM363.6 108.18h0.55v0.55h-0.55zM377.14 102.35h0.55v0.55h-0.55zM365.17 104.53h0.55v0.55h-0.55zM371.41 105.25h0.55v0.55h-0.55zM366.76 107.28h0.55v0.55h-0.55zM365.56 103.43h0.55v0.55h-0.55zM371.58 110.55h0.55v0.55h-0.55zM361.26 102.93h0.55v0.55h-0.55zM386.29 101.82h0.55v0.55h-0.55zM363.66 106.09h0.55v0.55h-0.55zM372.53 108.59h0.55v0.55h-0.55zM366.64 105.67h0.55v0.55h-0.55zM381.46 109.5h0.55v0.55h-0.55zM364.9 111.26h0.55v0.55h-0.55zM366.32 105.51h0.55v0.55h-0.55zM372.23 106.8h0.55v0.55h-0.55zM379.87 106.25h0.55v0.55h-0.55zM372.86 113.03h0.55v0.55h-0.55zM370.5 99.12h0.55v0.55h-0.55zM383.26 110.69h0.55v0.55h-0.55zM386.77 102.5h0.55v0.55h-0.55zM376.62 99.73h0.55v0.55h-0.55zM377.17 101.75h0.55v0.55h-0.55zM379.07 103.25h0.55v0.55h-0.55zM384.9 108.55h0.55v0.55h-0.55zM369.85 106.61h0.55v0.55h-0.55zM378.03 105.62h0.55v0.55h-0.55zM383.83 107.33h0.55v0.55h-0.55zM379.65 100.76h0.55v0.55h-0.55zM391.36 105.38h0.55v0.55h-0.55zM385.58 106.29h0.55v0.55h-0.55zM387.1 105.5h0.55v0.55h-0.55zM377.27 105.43h0.55v0.55h-0.55zM368.62 102.22h0.55v0.55h-0.55zM373.87 104.28h0.55v0.55h-0.55zM366.07 103.42h0.55v0.55h-0.55zM382.4 107.8h0.55v0.55h-0.55zM373.3 98.33h0.55v0.55h-0.55zM360.73 104.77h0.55v0.55h-0.55zM376.67 101.84h0.55v0.55h-0.55zM383.6 105.61h0.55v0.55h-0.55zM367.75 102.89h0.55v0.55h-0.55zM375.69 110.92h0.55v0.55h-0.55zM376.45 108.04h0.55v0.55h-0.55zM375.67 108.03h0.55v0.55h-0.55zM379.62 105.2h0.55v0.55h-0.55zM368.64 105.94h0.55v0.55h-0.55zM384.53 105.57h0.55v0.55h-0.55zM390.27 109.51h0.55v0.55h-0.55zM374.92 113.12h0.55v0.55h-0.55zM365.65 110.56h0.55v0.55h-0.55zM393.53 104.12h0.55v0.55h-0.55zM375.26 109.54h0.55v0.55h-0.55zM389.62 107.31h0.55v0.55h-0.55zM378.56 109.49h0.55v0.55h-0.55zM378.77 99.87h0.55v0.55h-0.55zM374.6 105.28h0.55v0.55h-0.55zM362.34 107.16h0.55v0.55h-0.55zM369.42 108.71h0.55v0.55h-0.55zM362.43 101.21h0.55v0.55h-0.55zM362.72 111.16h0.55v0.55h-0.55zM388.24 111.99h0.55v0.55h-0.55zM390.13 109.44h0.55v0.55h-0.55zM379.41 103.08h0.55v0.55h-0.55zM373.34 99.78h0.55v0.55h-0.55zM388.62 106.06h0.55v0.55h-0.55zM362.46 107.64h0.55v0.55h-0.55zM375.53 100.52h0.55v0.55h-0.55zM373.23 101.63h0.55v0.55h-0.55zM380.34 106.5h0.55v0.55h-0.55zM377.95 99.52h0.55v0.55h-0.55zM369.68 105.1h0.55v0.55h-0.55zM381.69 100.99h0.55v0.55h-0.55zM365.34 109.97h0.55v0.55h-0.55zM375.86 103.08h0.55v0.55h-0.55zM368.32 101.83h0.55v0.55h-0.55zM390.05 109.2h0.55v0.55h-0.55zM371.34 99.13h0.55v0.55h-0.55zM390.88 111.92h0.55v0.55h-0.55zM386.49 108.62h0.55v0.55h-0.55zM380.52 103.52h0.55v0.55h-0.55zM377.63 102.43h0.55v0.55h-0.55zM369.1 107.31h0.55v0.55h-0.55zM371.5 104.79h0.55v0.55h-0.55zM377.63 105.86h0.55v0.55h-0.55zM386.07 111.01h0.55v0.55h-0.55zM362.45 103.59h0.55v0.55h-0.55zM369.18 108.22h0.55v0.55h-0.55zM365.24 108.31h0.55v0.55h-0.55zM381.77 107.42h0.55v0.55h-0.55zM366.12 103.82h0.55v0.55h-0.55zM365.12 106.59h0.55v0.55h-0.55zM367.48 104.05h0.55v0.55h-0.55zM370.25 111.56h0.55v0.55h-0.55zM373.85 105.94h0.55v0.55h-0.55zM364.82 111.78h0.55v0.55h-0.55zM376.76 108.3h0.55v0.55h-0.55zM360.28 98.96h0.55v0.55h-0.55zM379.62 102.49h0.55v0.55h-0.55zM379.22 106.1h0.55v0.55h-0.55zM377.55 108.96h0.55v0.55h-0.55zM368.88 112.32h0.55v0.55h-0.55zM365.21 110.98h0.55v0.55h-0.55zM390.68 102.11h0.55v0.55h-0.55zM378.46 98.45h0.55v0.55h-0.55zM382.46 101.28h0.55v0.55h-0.55zM363 103.03h0.55v0.55h-0.55zM370.97 102.16h0.55v0.55h-0.55zM377.07 104.04h0.55v0.55h-0.55zM369.04 109.11h0.55v0.55h-0.55zM368.66 100.31h0.55v0.55h-0.55zM380.75 103.64h0.55v0.55h-0.55zM364.66 99.54h0.55v0.55h-0.55zM384.06 103.58h0.55v0.55h-0.55zM385.82 110.72h0.55v0.55h-0.55zM382.82 107.55h0.55v0.55h-0.55zM371.19 103.34h0.55v0.55h-0.55zM380.6 107.71h0.55v0.55h-0.55zM372.97 108.64h0.55v0.55h-0.55zM365.37 101.71h0.55v0.55h-0.55zM374.95 107.41h0.55v0.55h-0.55zM372.23 110.38h0.55v0.55h-0.55zM379.08 100.51h0.55v0.55h-0.55zM376.04 100.79h0.55v0.55h-0.55zM366.25 98.34h0.55v0.55h-0.55zM388.3 108.93h0.55v0.55h-0.55zM360.28 109.85h0.55v0.55h-0.55zM384.22 103.16h0.55v0.55h-0.55zM377.91 106.72h0.55v0.55h-0.55zM385.73 100.12h0.55v0.55h-0.55zM363.41 98.42h0.55v0.55h-0.55zM374.52 108.76h0.55v0.55h-0.55zM367.22 98.6h0.55v0.55h-0.55zM377.27 103.22h0.55v0.55h-0.55zM381.12 104.36h0.55v0.55h-0.55zM373.85 104.6h0.55v0.55h-0.55zM375.95 100.63h0.55v0.55h-0.55zM365.13 112.2h0.55v0.55h-0.55zM360.45 105.16h0.55v0.55h-0.55zM371.17 103.19h0.55v0.55h-0.55zM367.17 101.25h0.55v0.55h-0.55zM385.22 103.01h0.55v0.55h-0.55zM373.63 112.84h0.55v0.55h-0.55zM381.83 114.19h0.55v0.55h-0.55zM377.74 106.45h0.55v0.55h-0.55zM363.73 100.81h0.55v0.55h-0.55zM389.46 110.77h0.55v0.55h-0.55zM381.25 102.14h0.55v0.55h-0.55zM364.58 100.28h0.55v0.55h-0.55zM364.7 107.78h0.55v0.55h-0.55zM368.23 102.72h0.55v0.55h-0.55zM382.01 107.98h0.55v0.55h-0.55zM375.91 107.06h0.55v0.55h-0.55zM374.59 102.91h0.55v0.55h-0.55zM371.95 105.92h0.55v0.55h-0.55zM369.97 110.37h0.55v0.55h-0.55zM373.66 105.57h0.55v0.55h-0.55zM378.34 104.03h0.55v0.55h-0.55zM381.32 108.25h0.55v0.55h-0.55zM381.16 101.58h0.55v0.55h-0.55zM366.72 102.01h0.55v0.55h-0.55zM367.16 99.49h0.55v0.55h-0.55zM368.73 100.51h0.55v0.55h-0.55zM382.65 106.73h0.55v0.55h-0.55zM383.98 100.21h0.55v0.55h-0.55zM367.72 103.35h0.55v0.55h-0.55zM390.55 112.33h0.55v0.55h-0.55zM369.27 107.59h0.55v0.55h-0.55zM395.19 100.08h0.55v0.55h-0.55zM373.34 110.65h0.55v0.55h-0.55zM381.92 100.25h0.55v0.55h-0.55zM389.39 109.24h0.55v0.55h-0.55zM381.66 99.15h0.55v0.55h-0.55zM373.64 110.77h0.55v0.55h-0.55zM379.79 108.41h0.55v0.55h-0.55zM372.7 111.65h0.55v0.55h-0.55zM372.95 108.98h0.55v0.55h-0.55zM378.24 100.42h0.55v0.55h-0.55zM389.11 99.08h0.55v0.55h-0.55zM368.32 105.44h0.55v0.55h-0.55zM374.09 102.84h0.55v0.55h-0.55zM372.6 107.05h0.55v0.55h-0.55zM396.3 102.87h0.55v0.55h-0.55zM360.76 105.9h0.55v0.55h-0.55zM380.23 100.91h0.55v0.55h-0.55zM377.81 108.75h0.55v0.55h-0.55zM365.73 103.27h0.55v0.55h-0.55zM377.55 108.15h0.55v0.55h-0.55zM366.21 104.79h0.55v0.55h-0.55zM372.44 104.79h0.55v0.55h-0.55zM385.17 110.51h0.55v0.55h-0.55zM370.42 101.88h0.55v0.55h-0.55zM368.42 102.25h0.55v0.55h-0.55zM371.02 103.87h0.55v0.55h-0.55zM370.18 99.78h0.55v0.55h-0.55zM363.97 104.91h0.55v0.55h-0.55zM381 106.24h0.55v0.55h-0.55zM373.43 113.73h0.55v0.55h-0.55zM372 100.24h0.55v0.55h-0.55zM363.38 105.5h0.55v0.55h-0.55zM365.61 100.7h0.55v0.55h-0.55zM366.8 98.69h0.55v0.55h-0.55zM361.91 104.96h0.55v0.55h-0.55zM378.88 103.13h0.55v0.55h-0.55zM377.68 105.51h0.55v0.55h-0.55zM376.26 107.39h0.55v0.55h-0.55zM377.41 104.31h0.55v0.55h-0.55zM373.86 108.79h0.55v0.55h-0.55zM373.49 107.39h0.55v0.55h-0.55zM390.02 106.57h0.55v0.55h-0.55zM386.57 102.88h0.55v0.55h-0.55zM377.86 107.16h0.55v0.55h-0.55zM377.48 107.02h0.55v0.55h-0.55zM388.47 103.41h0.55v0.55h-0.55zM369.05 106.32h0.55v0.55h-0.55zM361.67 104.76h0.55v0.55h-0.55zM386.4 104.76h0.55v0.55h-0.55zM380.35 106.55h0.55v0.55h-0.55zM386.48 107.1h0.55v0.55h-0.55zM370.33 108h0.55v0.55h-0.55zM373.83 101.36h0.55v0.55h-0.55zM383.57 100.73h0.55v0.55h-0.55zM371.85 107.79h0.55v0.55h-0.55zM370.16 105.45h0.55v0.55h-0.55zM374.76 99.2h0.55v0.55h-0.55zM369.93 102.95h0.55v0.55h-0.55zM368.74 109.53h0.55v0.55h-0.55zM374.52 101.65h0.55v0.55h-0.55zM361.7 103.06h0.55v0.55h-0.55zM386.89 103.13h0.55v0.55h-0.55zM381.67 106.55h0.55v0.55h-0.55zM369.75 100.18h0.55v0.55h-0.55z" fill="#8e98d8"/>
<path d="M375.83 105.6h0.6v0.6h-0.6zM374.7 102.43h0.6v0.6h-0.6zM373.97 102.16h0.6v0.6h-0.6zM376.07 108.38h0.6v0.6h-0.6zM373.81 103.15h0.6v0.6h-0.6zM377.83 105.76h0.6v0.6h-0.6zM376.25 102.33h0.6v0.6h-0.6zM375.7 106.66h0.6v0.6h-0.6zM370.33 103.59h0.6v0.6h-0.6zM368.05 101.37h0.6v0.6h-0.6zM368.29 104.18h0.6v0.6h-0.6zM370.64 105.53h0.6v0.6h-0.6zM376.46 104.31h0.6v0.6h-0.6zM365.54 103.37h0.6v0.6h-0.6zM375.63 105.11h0.6v0.6h-0.6zM369.57 103.53h0.6v0.6h-0.6zM371.82 102.65h0.6v0.6h-0.6zM380.16 102.65h0.6v0.6h-0.6zM375.69 107.16h0.6v0.6h-0.6zM373.44 104.51h0.6v0.6h-0.6zM376.28 104.98h0.6v0.6h-0.6zM370.82 105.01h0.6v0.6h-0.6zM381.38 100.68h0.6v0.6h-0.6zM379.34 105.13h0.6v0.6h-0.6zM373.2 110.14h0.6v0.6h-0.6zM378.94 101.61h0.6v0.6h-0.6zM376.13 106.34h0.6v0.6h-0.6zM375.05 106.63h0.6v0.6h-0.6zM375.55 106.59h0.6v0.6h-0.6zM381.7 103.01h0.6v0.6h-0.6zM376.65 103.57h0.6v0.6h-0.6zM376.34 101.64h0.6v0.6h-0.6zM373.46 104.28h0.6v0.6h-0.6zM379.5 107.86h0.6v0.6h-0.6zM370.41 102.69h0.6v0.6h-0.6zM378.47 99.5h0.6v0.6h-0.6zM373.93 104.55h0.6v0.6h-0.6zM380.96 106.64h0.6v0.6h-0.6zM374.49 103.82h0.6v0.6h-0.6zM374.8 108.87h0.6v0.6h-0.6zM374.07 104h0.6v0.6h-0.6zM377.27 104.49h0.6v0.6h-0.6zM375.02 101.84h0.6v0.6h-0.6zM375.78 103.62h0.6v0.6h-0.6zM380.59 106.55h0.6v0.6h-0.6zM375.73 106.59h0.6v0.6h-0.6zM374.43 107.61h0.6v0.6h-0.6zM375.8 106.36h0.6v0.6h-0.6zM370.55 105.73h0.6v0.6h-0.6zM368.92 99.38h0.6v0.6h-0.6zM374.58 102.41h0.6v0.6h-0.6zM376.49 110.79h0.6v0.6h-0.6zM372.42 103.14h0.6v0.6h-0.6zM376.66 106.12h0.6v0.6h-0.6zM375.1 104.26h0.6v0.6h-0.6zM378.7 106.19h0.6v0.6h-0.6zM371.6 104.6h0.6v0.6h-0.6zM375.97 102h0.6v0.6h-0.6zM376.89 102.52h0.6v0.6h-0.6zM379.8 105.32h0.6v0.6h-0.6zM376.19 103.23h0.6v0.6h-0.6zM375.34 99.48h0.6v0.6h-0.6zM371.2 105.77h0.6v0.6h-0.6zM367.12 107.06h0.6v0.6h-0.6zM368.69 106.82h0.6v0.6h-0.6zM372.37 106.88h0.6v0.6h-0.6zM376.36 100.71h0.6v0.6h-0.6zM380.93 108.65h0.6v0.6h-0.6zM375.55 104.08h0.6v0.6h-0.6zM375.17 102.21h0.6v0.6h-0.6zM380.32 103.36h0.6v0.6h-0.6zM375.61 102.69h0.6v0.6h-0.6zM373.26 101.4h0.6v0.6h-0.6zM380.96 104.4h0.6v0.6h-0.6zM379.77 104.84h0.6v0.6h-0.6zM372.99 103.94h0.6v0.6h-0.6zM373.53 104.83h0.6v0.6h-0.6zM374.29 104.01h0.6v0.6h-0.6zM370.19 102.66h0.6v0.6h-0.6zM382.59 103.02h0.6v0.6h-0.6zM371.51 105.71h0.6v0.6h-0.6zM381.58 100.93h0.6v0.6h-0.6zM374.97 103.12h0.6v0.6h-0.6zM368.62 106.77h0.6v0.6h-0.6zM375.73 105h0.6v0.6h-0.6zM372.75 106.02h0.6v0.6h-0.6zM373.62 104.43h0.6v0.6h-0.6zM371.29 101.57h0.6v0.6h-0.6zM381.28 103.46h0.6v0.6h-0.6zM377.02 104.72h0.6v0.6h-0.6z" fill="#6a76cc"/>
<path d="M373.28 112.95h0.5v0.5h-0.5zM373 106.91h0.5v0.5h-0.5zM391.35 94.84h0.5v0.5h-0.5zM376.97 94.28h0.5v0.5h-0.5zM365.95 97.51h0.5v0.5h-0.5zM370.43 90.77h0.5v0.5h-0.5zM368.54 88.84h0.5v0.5h-0.5zM389.48 95.8h0.5v0.5h-0.5zM370.91 100.91h0.5v0.5h-0.5zM382.51 102.61h0.5v0.5h-0.5zM392.73 87.52h0.5v0.5h-0.5zM374.75 91.6h0.5v0.5h-0.5zM362.95 88.47h0.5v0.5h-0.5zM375.53 94.9h0.5v0.5h-0.5zM382.92 96.69h0.5v0.5h-0.5zM382.61 89.73h0.5v0.5h-0.5zM366.85 92.96h0.5v0.5h-0.5zM365.59 94.07h0.5v0.5h-0.5z" fill="#a8b0e4"/>
<clipPath id="cl5"><rect x="340.9" y="97.9" width="17.8" height="17.4"/></clipPath>
<g clip-path="url(#cl5)">
<path d="M345.24 108.24h0.6v0.6h-0.6zM340.97 109.9h0.6v0.6h-0.6zM354.97 105.46h0.6v0.6h-0.6zM351.4 108.28h0.6v0.6h-0.6zM347.28 103.82h0.6v0.6h-0.6zM339.09 112.91h0.6v0.6h-0.6zM349.01 117.36h0.6v0.6h-0.6zM353.38 108.38h0.6v0.6h-0.6zM345.96 112.84h0.6v0.6h-0.6zM346.72 113.55h0.6v0.6h-0.6zM347.26 108.02h0.6v0.6h-0.6zM341.64 116.64h0.6v0.6h-0.6zM348.78 105.73h0.6v0.6h-0.6zM353.31 103.71h0.6v0.6h-0.6zM353.09 102.59h0.6v0.6h-0.6zM351.98 103.09h0.6v0.6h-0.6zM340.07 104.9h0.6v0.6h-0.6zM341.93 109.48h0.6v0.6h-0.6zM349.36 109.31h0.6v0.6h-0.6zM349.71 105.86h0.6v0.6h-0.6zM349.39 111.48h0.6v0.6h-0.6zM348.34 104.22h0.6v0.6h-0.6zM344.4 106.38h0.6v0.6h-0.6zM345.5 114.79h0.6v0.6h-0.6zM343.36 102.95h0.6v0.6h-0.6zM347.72 109.87h0.6v0.6h-0.6zM347.91 103.44h0.6v0.6h-0.6zM345.22 105.87h0.6v0.6h-0.6zM354.12 103.36h0.6v0.6h-0.6zM348.8 104.82h0.6v0.6h-0.6zM350.88 108.86h0.6v0.6h-0.6zM341.93 116.82h0.6v0.6h-0.6zM350.2 105.23h0.6v0.6h-0.6zM344.78 106.23h0.6v0.6h-0.6zM349.41 109.65h0.6v0.6h-0.6zM349.28 109.21h0.6v0.6h-0.6zM341.2 104.26h0.6v0.6h-0.6zM344.22 107.93h0.6v0.6h-0.6zM351.54 101.41h0.6v0.6h-0.6zM348.41 110.17h0.6v0.6h-0.6zM353.83 102.81h0.6v0.6h-0.6zM352.07 108.63h0.6v0.6h-0.6zM347.07 115.12h0.6v0.6h-0.6zM343.66 106.16h0.6v0.6h-0.6zM351.53 108.24h0.6v0.6h-0.6zM348.4 112.78h0.6v0.6h-0.6zM356.48 110.92h0.6v0.6h-0.6zM354.26 107.05h0.6v0.6h-0.6zM343.43 116.02h0.6v0.6h-0.6zM344.46 116.19h0.6v0.6h-0.6zM348.62 108.2h0.6v0.6h-0.6zM348.41 111.1h0.6v0.6h-0.6zM346.71 114.64h0.6v0.6h-0.6zM351.93 107.97h0.6v0.6h-0.6zM346.4 108.39h0.6v0.6h-0.6zM349.24 114.87h0.6v0.6h-0.6zM353.93 101.03h0.6v0.6h-0.6zM356.9 97.78h0.6v0.6h-0.6zM356.96 99.73h0.6v0.6h-0.6zM349.26 110.52h0.6v0.6h-0.6zM349.21 102.88h0.6v0.6h-0.6zM355.42 100.15h0.6v0.6h-0.6zM341.95 112.81h0.6v0.6h-0.6zM344.93 108.26h0.6v0.6h-0.6zM353.3 106.85h0.6v0.6h-0.6zM350.63 107.75h0.6v0.6h-0.6zM350.32 112.02h0.6v0.6h-0.6zM353.92 108.57h0.6v0.6h-0.6zM353.84 105.1h0.6v0.6h-0.6zM345.43 103.26h0.6v0.6h-0.6zM353.17 113.77h0.6v0.6h-0.6zM349.68 99.36h0.6v0.6h-0.6zM346.71 109.14h0.6v0.6h-0.6zM350.74 107.65h0.6v0.6h-0.6zM354.2 110.98h0.6v0.6h-0.6zM342.55 109.01h0.6v0.6h-0.6zM345.55 108.2h0.6v0.6h-0.6zM355.47 114.6h0.6v0.6h-0.6zM352.75 105.25h0.6v0.6h-0.6zM347.5 109.4h0.6v0.6h-0.6zM344.31 107h0.6v0.6h-0.6zM352.28 110.95h0.6v0.6h-0.6zM347.77 108.75h0.6v0.6h-0.6zM356.06 108.49h0.6v0.6h-0.6zM340.67 108.13h0.6v0.6h-0.6zM350.51 105.59h0.6v0.6h-0.6zM349.47 101.37h0.6v0.6h-0.6zM355.48 108.96h0.6v0.6h-0.6zM346.53 108.21h0.6v0.6h-0.6zM349.91 103.82h0.6v0.6h-0.6zM335.92 95.88h0.6v0.6h-0.6zM359.36 102.79h0.6v0.6h-0.6zM347.78 109.56h0.6v0.6h-0.6zM347.44 112.04h0.6v0.6h-0.6zM344.51 109.52h0.6v0.6h-0.6zM338.82 110.13h0.6v0.6h-0.6zM352.69 108.74h0.6v0.6h-0.6zM350.76 108.34h0.6v0.6h-0.6zM353.57 111.12h0.6v0.6h-0.6zM344.53 111.5h0.6v0.6h-0.6zM344.51 107.93h0.6v0.6h-0.6zM347.99 109.19h0.6v0.6h-0.6zM347.59 108.89h0.6v0.6h-0.6zM346.86 103.44h0.6v0.6h-0.6zM354.59 109.56h0.6v0.6h-0.6zM351.82 111.1h0.6v0.6h-0.6zM343.95 110.93h0.6v0.6h-0.6zM343.97 108.79h0.6v0.6h-0.6zM348.36 108.36h0.6v0.6h-0.6zM352.74 107.36h0.6v0.6h-0.6zM344.65 110.99h0.6v0.6h-0.6zM355.14 110.01h0.6v0.6h-0.6zM354.44 100.22h0.6v0.6h-0.6zM349.61 106.82h0.6v0.6h-0.6zM339.48 107.71h0.6v0.6h-0.6zM349.27 101.25h0.6v0.6h-0.6zM345.05 107.61h0.6v0.6h-0.6zM352.26 110.1h0.6v0.6h-0.6zM343.73 102.96h0.6v0.6h-0.6zM346.72 107.07h0.6v0.6h-0.6zM346.38 106.5h0.6v0.6h-0.6zM352.8 110.01h0.6v0.6h-0.6zM349.94 102.71h0.6v0.6h-0.6zM346.8 109.53h0.6v0.6h-0.6zM353.6 111.52h0.6v0.6h-0.6zM343.95 105.41h0.6v0.6h-0.6zM343.2 95.51h0.6v0.6h-0.6zM343.79 100.19h0.6v0.6h-0.6zM356.22 109.17h0.6v0.6h-0.6zM346.05 107.54h0.6v0.6h-0.6zM351.33 114.28h0.6v0.6h-0.6zM353.14 113.38h0.6v0.6h-0.6zM351.7 112.5h0.6v0.6h-0.6zM356.49 111.02h0.6v0.6h-0.6zM349.44 111.67h0.6v0.6h-0.6zM347.31 113.01h0.6v0.6h-0.6zM347.91 104.58h0.6v0.6h-0.6zM358.71 105.66h0.6v0.6h-0.6zM350.1 103.05h0.6v0.6h-0.6zM345.79 105.94h0.6v0.6h-0.6zM344.34 112.18h0.6v0.6h-0.6zM345.67 102.28h0.6v0.6h-0.6zM354.86 110.13h0.6v0.6h-0.6zM337.66 105.03h0.6v0.6h-0.6zM354.27 104.23h0.6v0.6h-0.6zM347.9 106.34h0.6v0.6h-0.6zM338 103.76h0.6v0.6h-0.6zM353.14 113.11h0.6v0.6h-0.6zM348.93 106.9h0.6v0.6h-0.6zM352.1 108.01h0.6v0.6h-0.6zM351.89 103.85h0.6v0.6h-0.6zM349.46 109.37h0.6v0.6h-0.6zM352.33 101.12h0.6v0.6h-0.6zM353.46 107.81h0.6v0.6h-0.6zM350.13 100.27h0.6v0.6h-0.6zM349.55 101.03h0.6v0.6h-0.6zM336.74 107.74h0.6v0.6h-0.6zM349.34 107.6h0.6v0.6h-0.6zM350.26 107.38h0.6v0.6h-0.6zM354.89 110.63h0.6v0.6h-0.6z" fill="#5a6ac8"/>
<g filter="url(#bl)">
<rect x="340.7" y="99.5" width="16.4" height="16.3" rx="4" fill="#4258c0"/>
<ellipse cx="349.45" cy="108.47" rx="7.6" ry="6.4" fill="#3a8ccc"/>
<ellipse cx="349.45" cy="108.57" rx="6.6" ry="5.5" fill="#48b4b0"/>
<ellipse cx="349.65" cy="108.67" rx="5.4" ry="4.5" fill="#78c45c"/>
<ellipse cx="349.85" cy="108.77" rx="3.4" ry="2.8" fill="#b4d444"/>
</g>
</g>
<line x1="359.5" y1="62.7" x2="359.5" y2="116" stroke="#707070" stroke-width="0.9"/>
<line x1="340.2" y1="97.5" x2="398.6" y2="97.5" stroke="#707070" stroke-width="0.9"/>
<rect x="340.5" y="62.5" width="58" height="54" fill="none" stroke="#231f20" stroke-width="1"/>
<line x1="340.5" y1="62.2" x2="340.5" y2="116.6" stroke="#231f20" stroke-width="1.4"/>
<line x1="339.6" y1="116.5" x2="399.1" y2="116.5" stroke="#231f20" stroke-width="1.4"/>
<line x1="337.8" y1="116" x2="340.2" y2="116" stroke="#231f20" stroke-width="0.8"/>
<text class="t" x="333.2" y="118" font-size="5.6" text-anchor="end" letter-spacing="-0.15">10<tspan dy="-2.52" font-size="3.81">0</tspan></text>
<line x1="340.2" y1="116" x2="340.2" y2="118" stroke="#231f20" stroke-width="0.8"/>
<text class="t" x="341" y="128.1" font-size="5.6" text-anchor="middle" letter-spacing="-0.15">10<tspan dy="-2.52" font-size="3.81">0</tspan></text>
<line x1="337.8" y1="102.67" x2="340.2" y2="102.67" stroke="#231f20" stroke-width="0.8"/>
<text class="t" x="333.2" y="104.67" font-size="5.6" text-anchor="end" letter-spacing="-0.15">10<tspan dy="-2.52" font-size="3.81">1</tspan></text>
<line x1="354.8" y1="116" x2="354.8" y2="118" stroke="#231f20" stroke-width="0.8"/>
<text class="t" x="355.6" y="128.1" font-size="5.6" text-anchor="middle" letter-spacing="-0.15">10<tspan dy="-2.52" font-size="3.81">1</tspan></text>
<line x1="337.8" y1="89.35" x2="340.2" y2="89.35" stroke="#231f20" stroke-width="0.8"/>
<text class="t" x="333.2" y="91.35" font-size="5.6" text-anchor="end" letter-spacing="-0.15">10<tspan dy="-2.52" font-size="3.81">2</tspan></text>
<line x1="369.4" y1="116" x2="369.4" y2="118" stroke="#231f20" stroke-width="0.8"/>
<text class="t" x="370.2" y="128.1" font-size="5.6" text-anchor="middle" letter-spacing="-0.15">10<tspan dy="-2.52" font-size="3.81">2</tspan></text>
<line x1="337.8" y1="76.03" x2="340.2" y2="76.03" stroke="#231f20" stroke-width="0.8"/>
<text class="t" x="333.2" y="78.03" font-size="5.6" text-anchor="end" letter-spacing="-0.15">10<tspan dy="-2.52" font-size="3.81">3</tspan></text>
<line x1="384" y1="116" x2="384" y2="118" stroke="#231f20" stroke-width="0.8"/>
<text class="t" x="384.8" y="128.1" font-size="5.6" text-anchor="middle" letter-spacing="-0.15">10<tspan dy="-2.52" font-size="3.81">3</tspan></text>
<line x1="337.8" y1="62.7" x2="340.2" y2="62.7" stroke="#231f20" stroke-width="0.8"/>
<text class="t" x="333.2" y="64.7" font-size="5.6" text-anchor="end" letter-spacing="-0.15">10<tspan dy="-2.52" font-size="3.81">4</tspan></text>
<line x1="398.6" y1="116" x2="398.6" y2="118" stroke="#231f20" stroke-width="0.8"/>
<text class="t" x="399.4" y="128.1" font-size="5.6" text-anchor="middle" letter-spacing="-0.15">10<tspan dy="-2.52" font-size="3.81">4</tspan></text>
<text x="319.3" y="88.35" font-size="7.5" text-anchor="middle" transform="rotate(-90 319.3 88.35)" textLength="55.7" lengthAdjust="spacingAndGlyphs">DiO (HODxKEL-)</text>
<text x="369.4" y="139.8" font-size="7.5" text-anchor="middle" textLength="55.7" lengthAdjust="spacingAndGlyphs">DiI (HODxKEL+)</text>
<line x1="390.4" y1="106.3" x2="418.51" y2="49.6" stroke="#231f20" stroke-width="0.8"/>
<path d="M419.8 47L419.63 50.71L416.95 49.38z" fill="#231f20"/>
<line x1="390.4" y1="106.3" x2="414.73" y2="109.61" stroke="#231f20" stroke-width="0.8"/>
<path d="M417.6 110L414.03 111.03L414.43 108.06z" fill="#231f20"/>
<polyline points="443.4,45.55 443.88,42.25 444.36,39.41 444.84,38.61 445.32,36.68 445.79,33.22 446.27,29.5 446.75,25.96 447.23,25.01 447.71,23.47 448.19,18.44 448.67,15.3 449.15,14.78 449.63,14.88 450.1,14.72 450.58,12.29 451.06,12.29 451.54,14.11 452.02,15.48 452.5,17.12 452.98,22.19 453.46,25.75 453.94,26.77 454.41,31.16 454.89,36.07 455.37,38.29 455.85,40.66 456.33,44.32 456.81,46.81 457.29,48.34 457.77,50 458.25,52.2 458.72,53.81 459.2,54.64 459.68,55.58 460.16,56.35 460.64,56.75 461.12,57.05 461.6,57 462.08,57.48 462.56,57.53 463.03,57.42 463.51,57.55 463.99,57.56 464.47,57.56 464.95,57.32 465.43,57.56 465.91,57.36 466.39,57.31 466.87,57.55 467.34,57.63 467.82,57.62 468.3,57.6 468.78,57.6 469.26,57.66 469.74,57.67 470.22,57.42 470.7,57.67 471.18,57.56 471.66,57.68 472.13,57.61 472.61,57.59 473.09,57.55 473.57,57.64 474.05,57.64 474.53,57.68 475.01,57.62 475.49,57.67 475.97,57.61 476.44,57.63 476.92,57.7 477.4,57.59 477.88,57.45 478.36,57.54 478.84,57.56 479.32,57.56 479.8,57.66 480.28,57.6 480.75,57.65 481.23,57.59 481.71,57.5 482.19,57.54 482.67,57.46 483.15,57.69 483.63,57.48 484.11,57.7 484.59,57.41 485.06,57.37 485.54,57.42 486.02,57.61 486.5,57.6 486.98,57.43 487.46,57.64 487.94,57.52 488.42,57.61 488.9,57.65 489.37,57.52 489.85,57.67 490.33,57.64 490.81,57.68 491.29,57.58 491.77,57.53 492.25,57.55 492.73,57.61 493.21,57.5 493.68,57.63 494.16,57.39 494.64,57.52 495.12,57.6 495.6,57.57" fill="none" stroke="#5cb247" stroke-width="1.15" stroke-linejoin="round"/>
<polyline points="443.4,56.88 443.88,56.43 444.36,56.59 444.84,56.38 445.32,56.03 445.79,56.05 446.27,56.09 446.75,55.76 447.23,55.62 447.71,55.06 448.19,54.86 448.67,54.81 449.15,54.73 449.63,54.32 450.1,54.01 450.58,53.45 451.06,52.63 451.54,52.96 452.02,52.91 452.5,52.75 452.98,52.33 453.46,52.62 453.94,52.51 454.41,52.7 454.89,52.65 455.37,52.54 455.85,52.65 456.33,52.54 456.81,52.63 457.29,52.74 457.77,52.59 458.25,52.52 458.72,52.52 459.2,52.15 459.68,50.9 460.16,49.67 460.64,48.29 461.12,46.39 461.6,42.76 462.08,38.36 462.56,35.39 463.03,32.57 463.51,27.65 463.99,23.24 464.47,19.04 464.95,15.87 465.43,17.74 465.91,19.34 466.39,16.19 466.87,13.81 467.34,14.59 467.82,14.04 468.3,14.9 468.78,17.43 469.26,16.68 469.74,16.82 470.22,19.56 470.7,22.63 471.18,24.28 471.66,26.69 472.13,31.52 472.61,35.03 473.09,37.51 473.57,41.19 474.05,43.97 474.53,45.01 475.01,45.42 475.49,46.89 475.97,49.53 476.44,50.85 476.92,51.5 477.4,51.96 477.88,53.01 478.36,53.41 478.84,54.33 479.32,54.95 479.8,55.6 480.28,56.18 480.75,56.28 481.23,56.53 481.71,56.83 482.19,56.86 482.67,56.98 483.15,57.26 483.63,57.36 484.11,57.46 484.59,57.43 485.06,57.37 485.54,57.58 486.02,57.52 486.5,57.34 486.98,57.43 487.46,57.4 487.94,57.47 488.42,57.61 488.9,57.62 489.37,57.6 489.85,57.58 490.33,57.55 490.81,57.64 491.29,57.68 491.77,57.68 492.25,57.69 492.73,57.64 493.21,57.58 493.68,57.46 494.16,57.6 494.64,57.56 495.12,57.63 495.6,57.69" fill="none" stroke="#a8192f" stroke-width="1.15" stroke-linejoin="round"/>
<rect x="443.5" y="11.5" width="52" height="46" fill="none" stroke="#231f20" stroke-width="1"/>
<line x1="443.5" y1="11.1" x2="443.5" y2="58.3" stroke="#231f20" stroke-width="1.4"/>
<line x1="442.8" y1="57.5" x2="496.1" y2="57.5" stroke="#231f20" stroke-width="1.4"/>
<line x1="440.4" y1="11.6" x2="443.4" y2="11.6" stroke="#231f20" stroke-width="0.8"/>
<line x1="440.4" y1="57.7" x2="443.4" y2="57.7" stroke="#231f20" stroke-width="0.8"/>
<line x1="441.2" y1="46.18" x2="443.4" y2="46.18" stroke="#231f20" stroke-width="0.8"/>
<line x1="441.2" y1="34.65" x2="443.4" y2="34.65" stroke="#231f20" stroke-width="0.8"/>
<line x1="441.2" y1="23.12" x2="443.4" y2="23.12" stroke="#231f20" stroke-width="0.8"/>
<text x="436.8" y="13.6" font-size="5.6" text-anchor="end" textLength="8.6" lengthAdjust="spacingAndGlyphs">100</text>
<text x="436.8" y="59.7" font-size="5.6" text-anchor="end">0</text>
<line x1="443.4" y1="57.7" x2="443.4" y2="59.7" stroke="#231f20" stroke-width="0.8"/>
<text class="t" x="442.8" y="70.5" font-size="5.6" text-anchor="middle" letter-spacing="-0.15">10<tspan dy="-2.52" font-size="3.81">0</tspan></text>
<line x1="456.45" y1="57.7" x2="456.45" y2="59.7" stroke="#231f20" stroke-width="0.8"/>
<text class="t" x="455.85" y="70.5" font-size="5.6" text-anchor="middle" letter-spacing="-0.15">10<tspan dy="-2.52" font-size="3.81">1</tspan></text>
<line x1="469.5" y1="57.7" x2="469.5" y2="59.7" stroke="#231f20" stroke-width="0.8"/>
<text class="t" x="468.9" y="70.5" font-size="5.6" text-anchor="middle" letter-spacing="-0.15">10<tspan dy="-2.52" font-size="3.81">2</tspan></text>
<line x1="482.55" y1="57.7" x2="482.55" y2="59.7" stroke="#231f20" stroke-width="0.8"/>
<text class="t" x="481.95" y="70.5" font-size="5.6" text-anchor="middle" letter-spacing="-0.15">10<tspan dy="-2.52" font-size="3.81">3</tspan></text>
<line x1="495.6" y1="57.7" x2="495.6" y2="59.7" stroke="#231f20" stroke-width="0.8"/>
<text class="t" x="495" y="70.5" font-size="5.6" text-anchor="middle" letter-spacing="-0.15">10<tspan dy="-2.52" font-size="3.81">4</tspan></text>
<text x="469.5" y="79.8" font-size="7.5" text-anchor="middle" textLength="13.3" lengthAdjust="spacingAndGlyphs">HEL</text>
<text x="433.6" y="34.65" font-size="8.6" text-anchor="middle" transform="rotate(-90 433.6 34.65)" textLength="25.4" lengthAdjust="spacingAndGlyphs">Counts</text>
<polyline points="443.4,123.84 443.88,123.35 444.35,120.52 444.83,116.63 445.3,113.45 445.78,110.19 446.25,107.18 446.73,106.17 447.2,104.86 447.68,101.16 448.15,98.52 448.63,98.03 449.1,95.31 449.58,91.86 450.05,90.73 450.53,92.65 451,95.21 451.48,94.44 451.95,91.74 452.43,93.15 452.9,96.35 453.38,99.76 453.86,103.86 454.33,109.62 454.81,115.4 455.28,120.11 455.76,124.1 456.23,127.26 456.71,129.65 457.18,130.94 457.66,132.22 458.13,132.94 458.61,133.95 459.08,134.26 459.56,134.62 460.03,134.57 460.51,134.68 460.98,134.93 461.46,134.87 461.93,134.93 462.41,134.98 462.88,134.88 463.36,134.91 463.83,134.92 464.31,134.84 464.79,134.98 465.26,134.47 465.74,134.85 466.21,134.98 466.69,134.54 467.16,134.92 467.64,134.55 468.11,134.65 468.59,134.72 469.06,134.95 469.54,134.82 470.01,134.6 470.49,134.8 470.96,134.78 471.44,134.95 471.91,134.92 472.39,134.92 472.86,135 473.34,134.97 473.81,134.79 474.29,134.95 474.77,134.82 475.24,134.83 475.72,134.52 476.19,134.8 476.67,134.87 477.14,134.7 477.62,134.96 478.09,134.76 478.57,134.59 479.04,134.77 479.52,134.9 479.99,134.85 480.47,134.94 480.94,134.94 481.42,134.66 481.89,134.94 482.37,134.8 482.84,134.92 483.32,134.75 483.79,134.8 484.27,134.53 484.74,134.58 485.22,134.76 485.7,134.85 486.17,134.98 486.65,134.86 487.12,134.77 487.6,134.98 488.07,134.97 488.55,134.9 489.02,134.96 489.5,134.86 489.97,134.67 490.45,134.57 490.92,134.98 491.4,134.81 491.87,134.87 492.35,134.96 492.82,134.93 493.3,134.9 493.77,134.96 494.25,134.82 494.72,134.75 495.2,134.83" fill="none" stroke="#5cb247" stroke-width="1.15" stroke-linejoin="round"/>
<polyline points="443.4,134.61 443.88,134.54 444.35,134.52 444.83,134.51 445.3,134.42 445.78,134.22 446.25,134.08 446.73,134.09 447.2,133.83 447.68,133.78 448.15,133.51 448.63,133.36 449.1,133.32 449.58,132.68 450.05,132.9 450.53,132.93 451,132.8 451.48,132.57 451.95,132.74 452.43,132.38 452.9,131.94 453.38,131.72 453.86,131.91 454.33,131.58 454.81,131.65 455.28,131.44 455.76,131.45 456.23,131.49 456.71,130.77 457.18,130.53 457.66,129.77 458.13,128.98 458.61,128.25 459.08,126.79 459.56,124.69 460.03,121.83 460.51,118.56 460.98,116.18 461.46,112.86 461.93,108.18 462.41,103.69 462.88,99.28 463.36,96.96 463.83,97.04 464.31,94.89 464.79,92.65 465.26,89.99 465.74,89.99 466.21,89.99 466.69,90.95 467.16,94.81 467.64,95.48 468.11,94.39 468.59,96.57 469.06,100.09 469.54,101.76 470.01,104.88 470.49,109.79 470.96,111.47 471.44,112.31 471.91,115.48 472.39,117.43 472.86,117.31 473.34,119.3 473.81,121.95 474.29,123.53 474.77,125.49 475.24,126.95 475.72,127.88 476.19,128.42 476.67,129.26 477.14,130.71 477.62,131.37 478.09,132.08 478.57,132.84 479.04,132.95 479.52,133.39 479.99,133.54 480.47,133.77 480.94,134.06 481.42,134.34 481.89,134.47 482.37,134.63 482.84,134.54 483.32,134.57 483.79,134.73 484.27,134.84 484.74,134.8 485.22,134.7 485.7,134.73 486.17,134.92 486.65,134.56 487.12,134.98 487.6,134.77 488.07,134.62 488.55,134.97 489.02,134.94 489.5,134.89 489.97,134.93 490.45,134.78 490.92,134.99 491.4,134.85 491.87,134.7 492.35,134.91 492.82,134.89 493.3,134.92 493.77,134.9 494.25,134.61 494.72,134.92 495.2,134.72" fill="none" stroke="#1f2f78" stroke-width="1.15" stroke-linejoin="round"/>
<rect x="443.5" y="89.5" width="52" height="46" fill="none" stroke="#231f20" stroke-width="1"/>
<line x1="443.5" y1="88.8" x2="443.5" y2="135.6" stroke="#231f20" stroke-width="1.4"/>
<line x1="442.8" y1="135.5" x2="495.7" y2="135.5" stroke="#231f20" stroke-width="1.4"/>
<line x1="440.4" y1="89.3" x2="443.4" y2="89.3" stroke="#231f20" stroke-width="0.8"/>
<line x1="440.4" y1="135" x2="443.4" y2="135" stroke="#231f20" stroke-width="0.8"/>
<line x1="441.2" y1="123.58" x2="443.4" y2="123.58" stroke="#231f20" stroke-width="0.8"/>
<line x1="441.2" y1="112.15" x2="443.4" y2="112.15" stroke="#231f20" stroke-width="0.8"/>
<line x1="441.2" y1="100.72" x2="443.4" y2="100.72" stroke="#231f20" stroke-width="0.8"/>
<text x="436.8" y="91.3" font-size="5.6" text-anchor="end" textLength="8.6" lengthAdjust="spacingAndGlyphs">100</text>
<text x="436.8" y="137" font-size="5.6" text-anchor="end">0</text>
<line x1="443.4" y1="135" x2="443.4" y2="137" stroke="#231f20" stroke-width="0.8"/>
<text class="t" x="442.8" y="148.5" font-size="5.6" text-anchor="middle" letter-spacing="-0.15">10<tspan dy="-2.52" font-size="3.81">0</tspan></text>
<line x1="456.35" y1="135" x2="456.35" y2="137" stroke="#231f20" stroke-width="0.8"/>
<text class="t" x="455.75" y="148.5" font-size="5.6" text-anchor="middle" letter-spacing="-0.15">10<tspan dy="-2.52" font-size="3.81">1</tspan></text>
<line x1="469.3" y1="135" x2="469.3" y2="137" stroke="#231f20" stroke-width="0.8"/>
<text class="t" x="468.7" y="148.5" font-size="5.6" text-anchor="middle" letter-spacing="-0.15">10<tspan dy="-2.52" font-size="3.81">2</tspan></text>
<line x1="482.25" y1="135" x2="482.25" y2="137" stroke="#231f20" stroke-width="0.8"/>
<text class="t" x="481.65" y="148.5" font-size="5.6" text-anchor="middle" letter-spacing="-0.15">10<tspan dy="-2.52" font-size="3.81">3</tspan></text>
<line x1="495.2" y1="135" x2="495.2" y2="137" stroke="#231f20" stroke-width="0.8"/>
<text class="t" x="494.6" y="148.5" font-size="5.6" text-anchor="middle" letter-spacing="-0.15">10<tspan dy="-2.52" font-size="3.81">4</tspan></text>
<text x="469.3" y="159.9" font-size="7.5" text-anchor="middle" textLength="12.4" lengthAdjust="spacingAndGlyphs">KEL</text>
<text x="433.6" y="112.15" font-size="8.6" text-anchor="middle" transform="rotate(-90 433.6 112.15)" textLength="25.4" lengthAdjust="spacingAndGlyphs">Counts</text>
<polyline points="33.2,213.25 33.68,212.26 34.15,211.83 34.63,210.05 35.1,209.07 35.58,209.3 36.06,208.28 36.53,206.77 37.01,203.67 37.49,200.25 37.96,197.72 38.44,197.25 38.91,198.79 39.39,196 39.87,188.3 40.34,182.96 40.82,180.29 41.29,180.94 41.77,182.85 42.25,180.29 42.72,180.29 43.2,181.39 43.68,183.84 44.15,184.71 44.63,184.79 45.1,186.57 45.58,188.83 46.06,193.12 46.53,198.6 47.01,202.53 47.48,206.35 47.96,211.03 48.44,213.87 48.91,215.4 49.39,217.7 49.87,219.77 50.34,221.36 50.82,222.42 51.29,223.36 51.77,224.08 52.25,224.51 52.72,224.89 53.2,225.1 53.67,225.3 54.15,225.24 54.63,225.4 55.1,225.27 55.58,225.34 56.06,225.47 56.53,225.43 57.01,225.5 57.48,225.44 57.96,225.58 58.44,225.47 58.91,225.44 59.39,225.5 59.86,225.47 60.34,225.53 60.82,225.53 61.29,225.59 61.77,225.59 62.24,225.5 62.72,225.52 63.2,225.52 63.67,225.52 64.15,225.4 64.63,225.55 65.1,225.33 65.58,225.51 66.05,225.56 66.53,225.6 67.01,225.49 67.48,225.45 67.96,225.58 68.43,225.58 68.91,225.42 69.39,225.41 69.86,225.55 70.34,225.4 70.82,225.39 71.29,225.52 71.77,225.31 72.24,225.46 72.72,225.29 73.2,225.58 73.67,225.55 74.15,225.48 74.62,225.54 75.1,225.48 75.58,225.52 76.05,225.5 76.53,225.19 77.01,225.47 77.48,225.47 77.96,225.42 78.43,225.41 78.91,225.41 79.39,225.57 79.86,225.58 80.34,225.34 80.81,225.22 81.29,225.58 81.77,225.57 82.24,225.49 82.72,225.1 83.2,225.59 83.67,225.49 84.15,225.44 84.62,225.54 85.1,225.39" fill="none" stroke="#5cb247" stroke-width="1.15" stroke-linejoin="round"/>
<polyline points="33.2,224.85 33.68,224.42 34.15,224.72 34.63,224.43 35.1,224.2 35.58,223.94 36.06,223.59 36.53,223.31 37.01,222.95 37.49,222.89 37.96,222.4 38.44,221.76 38.91,221.43 39.39,221.14 39.87,221.09 40.34,221.08 40.82,221.5 41.29,221.52 41.77,220.97 42.25,220.66 42.72,220.28 43.2,220.28 43.68,219.85 44.15,219.73 44.63,219.91 45.1,219.48 45.58,218.61 46.06,218.41 46.53,218.68 47.01,217.75 47.48,216.14 47.96,215.23 48.44,213.24 48.91,212.03 49.39,211.57 49.87,208.63 50.34,206.28 50.82,205.26 51.29,201.48 51.77,196.97 52.25,193.12 52.72,190.88 53.2,188.66 53.67,183.12 54.15,180.29 54.63,180.29 55.1,180.29 55.58,180.29 56.06,180.29 56.53,180.29 57.01,184.42 57.48,188.97 57.96,194.26 58.44,200.57 58.91,207.28 59.39,210.94 59.86,214.28 60.34,218.17 60.82,219.97 61.29,221.12 61.77,222.95 62.24,223.94 62.72,224.51 63.2,224.92 63.67,225.11 64.15,225.29 64.63,225.36 65.1,225.45 65.58,225.5 66.05,225.47 66.53,225.46 67.01,225.42 67.48,225.32 67.96,225.43 68.43,225.54 68.91,225.59 69.39,225.27 69.86,225.51 70.34,225.49 70.82,225.35 71.29,225.49 71.77,225.47 72.24,225.55 72.72,225.34 73.2,225.32 73.67,225.54 74.15,225.43 74.62,225.48 75.1,225.55 75.58,225.54 76.05,225.59 76.53,225.46 77.01,225.6 77.48,225.43 77.96,225.54 78.43,225.53 78.91,225.56 79.39,225.5 79.86,225.54 80.34,225.42 80.81,225.56 81.29,225.52 81.77,225.54 82.24,225.53 82.72,225.45 83.2,225.53 83.67,225.45 84.15,225.46 84.62,225.57 85.1,225.16" fill="none" stroke="#1f2f78" stroke-width="1.15" stroke-linejoin="round"/>
<polyline points="33.2,224.86 33.68,224.74 34.15,224.92 34.63,224.57 35.1,224.76 35.58,224.3 36.06,224.32 36.53,224.06 37.01,223.85 37.49,223.77 37.96,223.34 38.44,223.37 38.91,223.2 39.39,222.93 39.87,222.73 40.34,222.85 40.82,222.67 41.29,222.53 41.77,222.36 42.25,222.03 42.72,222.14 43.2,222.28 43.68,222.24 44.15,222.25 44.63,222.31 45.1,221.81 45.58,221.59 46.06,221.85 46.53,221.32 47.01,220.94 47.48,221.27 47.96,221.39 48.44,220.03 48.91,218.38 49.39,217.02 49.87,216.96 50.34,215.82 50.82,213.88 51.29,213.39 51.77,211.67 52.25,208.41 52.72,205.84 53.2,203.29 53.67,198.93 54.15,193.96 54.63,192.77 55.1,193.97 55.58,190.75 56.06,187.08 56.53,187.67 57.01,185.6 57.48,184.2 57.96,186.99 58.44,188.8 58.91,188.08 59.39,186.98 59.86,187.57 60.34,190.15 60.82,194.25 61.29,199.61 61.77,204.46 62.24,208.73 62.72,213.15 63.2,216.83 63.67,218.71 64.15,220.41 64.63,222.11 65.1,223.48 65.58,224.5 66.05,224.98 66.53,225.16 67.01,225.38 67.48,225.44 67.96,225.5 68.43,225.43 68.91,225.56 69.39,225.44 69.86,225.53 70.34,225.38 70.82,225.08 71.29,225.54 71.77,225.29 72.24,225.44 72.72,225.33 73.2,225.57 73.67,225.38 74.15,225.51 74.62,225.32 75.1,225.26 75.58,225.42 76.05,225.28 76.53,225.5 77.01,225.52 77.48,225.49 77.96,225.45 78.43,225.28 78.91,225.48 79.39,225.51 79.86,225.42 80.34,225.32 80.81,225.58 81.29,225.23 81.77,225.57 82.24,225.41 82.72,225.59 83.2,225.51 83.67,225.43 84.15,225.25 84.62,225.59 85.1,225.33" fill="none" stroke="#a8192f" stroke-width="1.15" stroke-linejoin="round"/>
<rect x="33.5" y="179.5" width="52" height="46" fill="none" stroke="#231f20" stroke-width="1"/>
<line x1="33.5" y1="179.1" x2="33.5" y2="226.2" stroke="#231f20" stroke-width="1.4"/>
<line x1="32.6" y1="225.5" x2="85.6" y2="225.5" stroke="#231f20" stroke-width="1.4"/>
<line x1="30.2" y1="179.6" x2="33.2" y2="179.6" stroke="#231f20" stroke-width="0.8"/>
<line x1="30.2" y1="225.6" x2="33.2" y2="225.6" stroke="#231f20" stroke-width="0.8"/>
<line x1="31" y1="214.1" x2="33.2" y2="214.1" stroke="#231f20" stroke-width="0.8"/>
<line x1="31" y1="202.6" x2="33.2" y2="202.6" stroke="#231f20" stroke-width="0.8"/>
<line x1="31" y1="191.1" x2="33.2" y2="191.1" stroke="#231f20" stroke-width="0.8"/>
<text x="28.7" y="181.6" font-size="5.6" text-anchor="end" textLength="8.6" lengthAdjust="spacingAndGlyphs">100</text>
<text x="28.7" y="227.6" font-size="5.6" text-anchor="end">0</text>
<line x1="33.2" y1="225.6" x2="33.2" y2="227.6" stroke="#231f20" stroke-width="0.8"/>
<text class="t" x="32.6" y="237.4" font-size="5.6" text-anchor="middle" letter-spacing="-0.15">10<tspan dy="-2.52" font-size="3.81">0</tspan></text>
<line x1="46.17" y1="225.6" x2="46.17" y2="227.6" stroke="#231f20" stroke-width="0.8"/>
<text class="t" x="45.57" y="237.4" font-size="5.6" text-anchor="middle" letter-spacing="-0.15">10<tspan dy="-2.52" font-size="3.81">1</tspan></text>
<line x1="59.15" y1="225.6" x2="59.15" y2="227.6" stroke="#231f20" stroke-width="0.8"/>
<text class="t" x="58.55" y="237.4" font-size="5.6" text-anchor="middle" letter-spacing="-0.15">10<tspan dy="-2.52" font-size="3.81">2</tspan></text>
<line x1="72.12" y1="225.6" x2="72.12" y2="227.6" stroke="#231f20" stroke-width="0.8"/>
<text class="t" x="71.52" y="237.4" font-size="5.6" text-anchor="middle" letter-spacing="-0.15">10<tspan dy="-2.52" font-size="3.81">3</tspan></text>
<line x1="85.1" y1="225.6" x2="85.1" y2="227.6" stroke="#231f20" stroke-width="0.8"/>
<text class="t" x="84.5" y="237.4" font-size="5.6" text-anchor="middle" letter-spacing="-0.15">10<tspan dy="-2.52" font-size="3.81">4</tspan></text>
<text x="52.2" y="174" font-size="6.3" text-anchor="middle" textLength="17.3" lengthAdjust="spacingAndGlyphs">1 hour</text>
<text x="59.15" y="247" font-size="7.5" text-anchor="middle" textLength="12.3" lengthAdjust="spacingAndGlyphs">IgG</text>
<text x="16.1" y="199.6" font-size="8.6" text-anchor="middle" transform="rotate(-90 16.1 199.6)" textLength="25.4" lengthAdjust="spacingAndGlyphs">Counts</text>
<polyline points="118.3,215.42 118.78,214.8 119.25,214.29 119.73,213.24 120.2,211.53 120.68,209.6 121.16,207.86 121.63,206.09 122.11,203.92 122.59,202.38 123.06,199.31 123.54,195.05 124.01,193.09 124.49,190.89 124.97,186.48 125.44,185.9 125.92,187.3 126.39,186.06 126.87,183.97 127.35,183.71 127.82,183.76 128.3,184.55 128.78,185.41 129.25,184.4 129.73,184.61 130.2,188.87 130.68,196.45 131.16,203.05 131.63,205.3 132.11,205.69 132.58,207.4 133.06,211.01 133.54,214.22 134.01,217.91 134.49,219.87 134.97,221.02 135.44,222.23 135.92,223.3 136.39,223.88 136.87,224.39 137.35,224.85 137.82,225.17 138.3,225.12 138.77,225.34 139.25,225.41 139.73,225.52 140.2,225.52 140.68,225.41 141.16,225.56 141.63,225.58 142.11,225.34 142.58,225.58 143.06,225.44 143.54,225.34 144.01,225.29 144.49,225.33 144.96,225.56 145.44,225.51 145.92,225.47 146.39,225.52 146.87,225.47 147.34,225.59 147.82,225.58 148.3,225.42 148.77,225.4 149.25,225.3 149.73,225.54 150.2,225.42 150.68,225.2 151.15,225.52 151.63,225.11 152.11,225.49 152.58,225.55 153.06,225.44 153.53,225.46 154.01,225.58 154.49,225.42 154.96,225.58 155.44,225.54 155.92,225.54 156.39,225.54 156.87,225.56 157.34,225.33 157.82,225.54 158.3,225.4 158.77,225.58 159.25,225.31 159.72,225.31 160.2,225.43 160.68,225.5 161.15,225.49 161.63,225.53 162.11,225.3 162.58,225.28 163.06,225.52 163.53,225.58 164.01,225.53 164.49,225.42 164.96,225.54 165.44,225.6 165.91,225.55 166.39,225.07 166.87,225.38 167.34,225.6 167.82,225.52 168.3,225.41 168.77,225.44 169.25,225.03 169.72,225.39 170.2,225.44" fill="none" stroke="#5cb247" stroke-width="1.15" stroke-linejoin="round"/>
<polyline points="118.3,224.41 118.78,224.47 119.25,224.41 119.73,224.21 120.2,223.82 120.68,223.35 121.16,223.31 121.63,223 122.11,222.46 122.59,222.19 123.06,222.32 123.54,222.19 124.01,221.9 124.49,221.47 124.97,221.48 125.44,220.87 125.92,220.97 126.39,221.11 126.87,221.12 127.35,221.14 127.82,221.14 128.3,220.79 128.78,220.76 129.25,220.98 129.73,220.86 130.2,221.47 130.68,221.64 131.16,221.63 131.63,221.15 132.11,220.59 132.58,219.92 133.06,218.9 133.54,217.8 134.01,216.99 134.49,215.45 134.97,213.03 135.44,211.36 135.92,209.1 136.39,205.93 136.87,203.9 137.35,201.15 137.82,197.88 138.3,194.95 138.77,190.73 139.25,186.51 139.73,183.57 140.2,183.19 140.68,181.86 141.16,180.29 141.63,180.29 142.11,180.29 142.58,180.29 143.06,181.32 143.54,187.95 144.01,194.77 144.49,198.06 144.96,201.61 145.44,206.5 145.92,209.97 146.39,213.98 146.87,217.46 147.34,219.82 147.82,221.74 148.3,222.8 148.77,223.75 149.25,224.36 149.73,224.67 150.2,224.99 150.68,225.08 151.15,225.02 151.63,225.36 152.11,225.42 152.58,225.51 153.06,225.35 153.53,225.52 154.01,225.53 154.49,225.54 154.96,225.48 155.44,225.51 155.92,225.52 156.39,225.57 156.87,225.43 157.34,225.52 157.82,225.55 158.3,225.59 158.77,225.55 159.25,225.56 159.72,225.37 160.2,225.35 160.68,225.45 161.15,225.43 161.63,225.46 162.11,225.55 162.58,225.49 163.06,225.46 163.53,225.16 164.01,225.5 164.49,225.45 164.96,225.28 165.44,225.57 165.91,225.28 166.39,225.39 166.87,225.57 167.34,225.41 167.82,225.41 168.3,225.59 168.77,225.56 169.25,225.59 169.72,225.49 170.2,225.5" fill="none" stroke="#1f2f78" stroke-width="1.15" stroke-linejoin="round"/>
<polyline points="118.3,225.12 118.78,224.93 119.25,224.77 119.73,224.32 120.2,224.29 120.68,224.21 121.16,224.35 121.63,224.1 122.11,223.79 122.59,223.55 123.06,223.6 123.54,223.25 124.01,222.92 124.49,223.26 124.97,223.28 125.44,222.99 125.92,223.15 126.39,223.17 126.87,223.16 127.35,223.13 127.82,222.78 128.3,223.02 128.78,222.74 129.25,222.65 129.73,222.89 130.2,222.83 130.68,223.55 131.16,223.22 131.63,223.26 132.11,223.12 132.58,223.03 133.06,223.11 133.54,223.08 134.01,222.69 134.49,222.16 134.97,220.96 135.44,219.55 135.92,218.32 136.39,216.64 136.87,215.53 137.35,214.98 137.82,213.88 138.3,211.79 138.77,209.05 139.25,206.76 139.73,204.05 140.2,201.29 140.68,197.05 141.16,192.23 141.63,191.84 142.11,188.18 142.58,181.35 143.06,180.29 143.54,182.93 144.01,181.83 144.49,180.29 144.96,180.29 145.44,184.24 145.92,190.07 146.39,195.85 146.87,201.42 147.34,204.27 147.82,207.41 148.3,212.21 148.77,215.91 149.25,218.87 149.73,221.3 150.2,222.71 150.68,223.62 151.15,224.2 151.63,224.7 152.11,225.1 152.58,225.1 153.06,225.06 153.53,225.43 154.01,225.24 154.49,225.46 154.96,225.43 155.44,225.54 155.92,225.59 156.39,225.51 156.87,225.5 157.34,225.55 157.82,225.47 158.3,225.17 158.77,225.59 159.25,225.51 159.72,225.37 160.2,225.36 160.68,225.44 161.15,225.47 161.63,225.55 162.11,225.46 162.58,225.45 163.06,225.3 163.53,225.56 164.01,225.47 164.49,225.2 164.96,225.55 165.44,225.46 165.91,225.52 166.39,225.5 166.87,225.54 167.34,225.57 167.82,225.25 168.3,225.49 168.77,225.34 169.25,225.31 169.72,225.46 170.2,225.38" fill="none" stroke="#a8192f" stroke-width="1.15" stroke-linejoin="round"/>
<rect x="118.5" y="179.5" width="52" height="46" fill="none" stroke="#231f20" stroke-width="1"/>
<line x1="118.5" y1="179.1" x2="118.5" y2="226.2" stroke="#231f20" stroke-width="1.4"/>
<line x1="117.7" y1="225.5" x2="170.7" y2="225.5" stroke="#231f20" stroke-width="1.4"/>
<line x1="115.3" y1="179.6" x2="118.3" y2="179.6" stroke="#231f20" stroke-width="0.8"/>
<line x1="115.3" y1="225.6" x2="118.3" y2="225.6" stroke="#231f20" stroke-width="0.8"/>
<line x1="116.1" y1="214.1" x2="118.3" y2="214.1" stroke="#231f20" stroke-width="0.8"/>
<line x1="116.1" y1="202.6" x2="118.3" y2="202.6" stroke="#231f20" stroke-width="0.8"/>
<line x1="116.1" y1="191.1" x2="118.3" y2="191.1" stroke="#231f20" stroke-width="0.8"/>
<text x="113.8" y="181.6" font-size="5.6" text-anchor="end" textLength="8.6" lengthAdjust="spacingAndGlyphs">100</text>
<text x="113.8" y="227.6" font-size="5.6" text-anchor="end">0</text>
<line x1="118.3" y1="225.6" x2="118.3" y2="227.6" stroke="#231f20" stroke-width="0.8"/>
<text class="t" x="117.7" y="237.4" font-size="5.6" text-anchor="middle" letter-spacing="-0.15">10<tspan dy="-2.52" font-size="3.81">0</tspan></text>
<line x1="131.28" y1="225.6" x2="131.28" y2="227.6" stroke="#231f20" stroke-width="0.8"/>
<text class="t" x="130.68" y="237.4" font-size="5.6" text-anchor="middle" letter-spacing="-0.15">10<tspan dy="-2.52" font-size="3.81">1</tspan></text>
<line x1="144.25" y1="225.6" x2="144.25" y2="227.6" stroke="#231f20" stroke-width="0.8"/>
<text class="t" x="143.65" y="237.4" font-size="5.6" text-anchor="middle" letter-spacing="-0.15">10<tspan dy="-2.52" font-size="3.81">2</tspan></text>
<line x1="157.22" y1="225.6" x2="157.22" y2="227.6" stroke="#231f20" stroke-width="0.8"/>
<text class="t" x="156.62" y="237.4" font-size="5.6" text-anchor="middle" letter-spacing="-0.15">10<tspan dy="-2.52" font-size="3.81">3</tspan></text>
<line x1="170.2" y1="225.6" x2="170.2" y2="227.6" stroke="#231f20" stroke-width="0.8"/>
<text class="t" x="169.6" y="237.4" font-size="5.6" text-anchor="middle" letter-spacing="-0.15">10<tspan dy="-2.52" font-size="3.81">4</tspan></text>
<text x="140.8" y="174" font-size="6.3" text-anchor="middle" textLength="17.3" lengthAdjust="spacingAndGlyphs">2 hour</text>
<text x="144.25" y="247" font-size="7.5" text-anchor="middle" textLength="12.3" lengthAdjust="spacingAndGlyphs">IgG</text>
<text x="101.2" y="199.6" font-size="8.6" text-anchor="middle" transform="rotate(-90 101.2 199.6)" textLength="25.4" lengthAdjust="spacingAndGlyphs">Counts</text>
<polyline points="203.3,219.67 203.78,218.54 204.25,218.2 204.73,218.05 205.2,217.04 205.68,216.35 206.16,215.55 206.63,214.51 207.11,214.53 207.59,214.4 208.06,213.67 208.54,212.91 209.01,212.36 209.49,209.55 209.97,207.91 210.44,207.53 210.92,204.49 211.39,200.66 211.87,199.15 212.35,198.11 212.82,195.23 213.3,191.12 213.78,189 214.25,188.1 214.73,183.69 215.2,182.9 215.68,186.02 216.16,185.82 216.63,185.89 217.11,187.12 217.58,187.38 218.06,189.46 218.54,193.89 219.01,200.01 219.49,205.86 219.97,209.27 220.44,212.75 220.92,216.52 221.39,219.12 221.87,221.04 222.35,222.66 222.82,223.54 223.3,224.27 223.77,224.69 224.25,225.09 224.73,225.34 225.2,225.36 225.68,225.45 226.16,225.56 226.63,225.42 227.11,225.54 227.58,225.59 228.06,225.54 228.54,225.57 229.01,225.59 229.49,225.42 229.96,225.55 230.44,225.42 230.92,225.54 231.39,225.36 231.87,225.26 232.34,225.43 232.82,225.37 233.3,225.47 233.77,225.32 234.25,225.58 234.73,225.57 235.2,225.42 235.68,225.3 236.15,225.43 236.63,225.54 237.11,225.43 237.58,225.23 238.06,225.5 238.53,225.56 239.01,225.17 239.49,225.34 239.96,225.47 240.44,225.56 240.92,225.54 241.39,225.52 241.87,225.58 242.34,225.5 242.82,225.34 243.3,225.53 243.77,225.3 244.25,225.52 244.72,225.52 245.2,225.55 245.68,225.43 246.15,225.38 246.63,225.27 247.11,225.42 247.58,225.45 248.06,225.27 248.53,225.3 249.01,225.53 249.49,225.6 249.96,225.52 250.44,225.46 250.91,225.6 251.39,225.57 251.87,225.39 252.34,225.52 252.82,225.25 253.3,225.44 253.77,225.57 254.25,225.3 254.72,225.56 255.2,225.58" fill="none" stroke="#5cb247" stroke-width="1.15" stroke-linejoin="round"/>
<polyline points="203.3,224.85 203.78,224.54 204.25,224.8 204.73,224.63 205.2,224.24 205.68,224.26 206.16,224.1 206.63,223.84 207.11,223.95 207.59,223.7 208.06,223.55 208.54,223.27 209.01,223.25 209.49,222.85 209.97,222.73 210.44,222.59 210.92,222.6 211.39,222.02 211.87,221.64 212.35,221.75 212.82,221.86 213.3,221.92 213.78,221.3 214.25,221.2 214.73,220.75 215.2,220.94 215.68,221.4 216.16,221.35 216.63,220.61 217.11,220.59 217.58,220.95 218.06,221.33 218.54,221.15 219.01,220.76 219.49,220.06 219.97,218.91 220.44,217.99 220.92,216.67 221.39,214.94 221.87,212.94 222.35,210.52 222.82,208.69 223.3,204.08 223.77,197.22 224.25,191.3 224.73,188.62 225.2,187.87 225.68,185.14 226.16,183.14 226.63,183.78 227.11,187.85 227.58,190.79 228.06,194.8 228.54,201.77 229.01,205.57 229.49,208.47 229.96,213.98 230.44,218.67 230.92,221.7 231.39,223.21 231.87,224.3 232.34,224.85 232.82,224.68 233.3,225.17 233.77,225.08 234.25,225.49 234.73,225.52 235.2,225.48 235.68,225.57 236.15,225.48 236.63,225.42 237.11,225.48 237.58,225.53 238.06,225.38 238.53,225.55 239.01,225.58 239.49,225.54 239.96,225.37 240.44,225.43 240.92,225.52 241.39,225.44 241.87,225.41 242.34,225.45 242.82,225.54 243.3,225.24 243.77,225.56 244.25,225.47 244.72,225.58 245.2,225.58 245.68,225.59 246.15,225.59 246.63,225.58 247.11,225.36 247.58,225.5 248.06,225.58 248.53,225.37 249.01,225.49 249.49,225.49 249.96,225.39 250.44,225.47 250.91,225.44 251.39,225.38 251.87,225.23 252.34,225.59 252.82,225.32 253.3,225.42 253.77,225.59 254.25,225.31 254.72,225.6 255.2,225.54" fill="none" stroke="#1f2f78" stroke-width="1.15" stroke-linejoin="round"/>
<polyline points="203.3,225 203.78,224.86 204.25,224.71 204.73,224.59 205.2,224.56 205.68,224.42 206.16,224.17 206.63,224.07 207.11,223.89 207.59,223.57 208.06,223.69 208.54,223.37 209.01,223.53 209.49,223.47 209.97,222.95 210.44,222.53 210.92,222.48 211.39,222.4 211.87,221.89 212.35,221.41 212.82,221.43 213.3,220.92 213.78,220.77 214.25,220.99 214.73,221.42 215.2,221.59 215.68,221.52 216.16,220.25 216.63,220.17 217.11,220.51 217.58,220.8 218.06,221.19 218.54,221.2 219.01,220.97 219.49,220 219.97,219.09 220.44,218.35 220.92,216.68 221.39,214.22 221.87,211.5 222.35,209.39 222.82,208.16 223.3,204.47 223.77,197.08 224.25,191.41 224.73,189.6 225.2,188.24 225.68,187.26 226.16,183.7 226.63,180.82 227.11,182.94 227.58,185.91 228.06,189.4 228.54,196.63 229.01,203.97 229.49,208.43 229.96,213.39 230.44,218.07 230.92,221.16 231.39,222.96 231.87,224.08 232.34,224.8 232.82,225.28 233.3,225.35 233.77,225.42 234.25,225.4 234.73,225.5 235.2,225.46 235.68,225.44 236.15,225.29 236.63,225.27 237.11,225.53 237.58,225.52 238.06,225.39 238.53,225.34 239.01,225.42 239.49,225.56 239.96,225.29 240.44,225.35 240.92,225.45 241.39,225.54 241.87,225.31 242.34,225.38 242.82,225.44 243.3,225.49 243.77,225.46 244.25,225.47 244.72,225.56 245.2,225.54 245.68,225.26 246.15,225.47 246.63,225.37 247.11,225.58 247.58,225.44 248.06,225.45 248.53,225.37 249.01,225.46 249.49,225.5 249.96,225.45 250.44,225.46 250.91,225.34 251.39,225.56 251.87,225.59 252.34,225.47 252.82,225.56 253.3,225.34 253.77,225.6 254.25,225.5 254.72,225.59 255.2,225.55" fill="none" stroke="#a8192f" stroke-width="1.15" stroke-linejoin="round"/>
<rect x="203.5" y="179.5" width="52" height="46" fill="none" stroke="#231f20" stroke-width="1"/>
<line x1="203.5" y1="179.1" x2="203.5" y2="226.2" stroke="#231f20" stroke-width="1.4"/>
<line x1="202.7" y1="225.5" x2="255.7" y2="225.5" stroke="#231f20" stroke-width="1.4"/>
<line x1="200.3" y1="179.6" x2="203.3" y2="179.6" stroke="#231f20" stroke-width="0.8"/>
<line x1="200.3" y1="225.6" x2="203.3" y2="225.6" stroke="#231f20" stroke-width="0.8"/>
<line x1="201.1" y1="214.1" x2="203.3" y2="214.1" stroke="#231f20" stroke-width="0.8"/>
<line x1="201.1" y1="202.6" x2="203.3" y2="202.6" stroke="#231f20" stroke-width="0.8"/>
<line x1="201.1" y1="191.1" x2="203.3" y2="191.1" stroke="#231f20" stroke-width="0.8"/>
<text x="198.8" y="181.6" font-size="5.6" text-anchor="end" textLength="8.6" lengthAdjust="spacingAndGlyphs">100</text>
<text x="198.8" y="227.6" font-size="5.6" text-anchor="end">0</text>
<line x1="203.3" y1="225.6" x2="203.3" y2="227.6" stroke="#231f20" stroke-width="0.8"/>
<text class="t" x="202.7" y="237.4" font-size="5.6" text-anchor="middle" letter-spacing="-0.15">10<tspan dy="-2.52" font-size="3.81">0</tspan></text>
<line x1="216.28" y1="225.6" x2="216.28" y2="227.6" stroke="#231f20" stroke-width="0.8"/>
<text class="t" x="215.68" y="237.4" font-size="5.6" text-anchor="middle" letter-spacing="-0.15">10<tspan dy="-2.52" font-size="3.81">1</tspan></text>
<line x1="229.25" y1="225.6" x2="229.25" y2="227.6" stroke="#231f20" stroke-width="0.8"/>
<text class="t" x="228.65" y="237.4" font-size="5.6" text-anchor="middle" letter-spacing="-0.15">10<tspan dy="-2.52" font-size="3.81">2</tspan></text>
<line x1="242.23" y1="225.6" x2="242.23" y2="227.6" stroke="#231f20" stroke-width="0.8"/>
<text class="t" x="241.63" y="237.4" font-size="5.6" text-anchor="middle" letter-spacing="-0.15">10<tspan dy="-2.52" font-size="3.81">3</tspan></text>
<line x1="255.2" y1="225.6" x2="255.2" y2="227.6" stroke="#231f20" stroke-width="0.8"/>
<text class="t" x="254.6" y="237.4" font-size="5.6" text-anchor="middle" letter-spacing="-0.15">10<tspan dy="-2.52" font-size="3.81">4</tspan></text>
<text x="225.8" y="174" font-size="6.3" text-anchor="middle" textLength="21.1" lengthAdjust="spacingAndGlyphs">24 hour</text>
<text x="229.25" y="247" font-size="7.5" text-anchor="middle" textLength="12.3" lengthAdjust="spacingAndGlyphs">IgG</text>
<text x="186.2" y="199.6" font-size="8.6" text-anchor="middle" transform="rotate(-90 186.2 199.6)" textLength="25.4" lengthAdjust="spacingAndGlyphs">Counts</text>
<polyline points="33,425.4 33.47,423.93 33.95,422.7 34.42,421.44 34.89,419.35 35.37,417.11 35.84,414.8 36.31,412.41 36.79,410.81 37.26,408.82 37.73,404.5 38.21,402.27 38.68,402.1 39.15,399.27 39.63,398.26 40.1,398.24 40.57,395.03 41.05,392.9 41.52,392.56 41.99,391.86 42.47,390.4 42.94,388.35 43.41,389.33 43.89,392.23 44.36,394.42 44.83,398.82 45.31,403.09 45.78,405.91 46.26,409.82 46.73,415.51 47.2,421.01 47.68,424.57 48.15,427.18 48.62,428.61 49.1,429.93 49.57,430.4 50.04,431.09 50.52,431.25 50.99,431.48 51.46,431.81 51.94,431.81 52.41,431.62 52.88,431.85 53.36,431.8 53.83,431.56 54.3,431.87 54.78,431.84 55.25,431.89 55.72,431.84 56.2,431.88 56.67,431.83 57.14,431.81 57.62,431.7 58.09,431.7 58.56,431.68 59.04,431.62 59.51,431.76 59.98,431.79 60.46,431.72 60.93,431.59 61.4,431.77 61.88,431.85 62.35,431.59 62.82,431.63 63.3,431.71 63.77,431.62 64.24,431.76 64.72,431.76 65.19,431.9 65.66,431.87 66.14,431.71 66.61,431.87 67.08,431.87 67.56,431.72 68.03,431.81 68.5,431.76 68.98,431.54 69.45,431.66 69.92,431.7 70.4,431.7 70.87,431.74 71.34,431.78 71.82,431.62 72.29,431.83 72.77,431.79 73.24,431.55 73.71,431.85 74.19,431.89 74.66,431.74 75.13,431.53 75.61,431.87 76.08,431.89 76.55,431.87 77.03,431.73 77.5,431.9 77.97,431.67 78.45,431.62 78.92,431.87 79.39,431.87 79.87,431.68 80.34,431.67 80.81,431.64 81.29,431.62 81.76,431.76 82.23,431.77 82.71,431.88 83.18,431.74 83.65,431.89 84.13,431.73 84.6,431.78" fill="none" stroke="#5cb247" stroke-width="1.15" stroke-linejoin="round"/>
<polyline points="33,425.32 33.47,424.39 33.95,423.42 34.42,421.97 34.89,421.77 35.37,420.12 35.84,416.93 36.31,415.51 36.79,416.33 37.26,414.43 37.73,410.89 38.21,406.98 38.68,403.36 39.15,402.37 39.63,401.51 40.1,398.99 40.57,396.82 41.05,395.92 41.52,396.11 41.99,394.02 42.47,389.28 42.94,388.73 43.41,389.32 43.89,390.03 44.36,389.95 44.83,388.74 45.31,387.74 45.78,390.49 46.26,398.3 46.73,404.29 47.2,408.39 47.68,414.99 48.15,421.15 48.62,425.11 49.1,427.76 49.57,428.92 50.04,430.43 50.52,431.06 50.99,431.19 51.46,431.58 51.94,431.67 52.41,431.77 52.88,431.62 53.36,431.8 53.83,431.75 54.3,431.74 54.78,431.68 55.25,431.83 55.72,431.79 56.2,431.63 56.67,431.89 57.14,431.69 57.62,431.81 58.09,431.83 58.56,431.82 59.04,431.29 59.51,431.55 59.98,431.84 60.46,431.69 60.93,431.88 61.4,431.74 61.88,431.84 62.35,431.83 62.82,431.76 63.3,431.88 63.77,431.66 64.24,431.89 64.72,431.87 65.19,431.84 65.66,431.66 66.14,431.73 66.61,431.89 67.08,431.81 67.56,431.76 68.03,431.76 68.5,431.8 68.98,431.53 69.45,431.45 69.92,431.61 70.4,431.87 70.87,431.69 71.34,431.85 71.82,431.86 72.29,431.71 72.77,431.66 73.24,431.77 73.71,431.89 74.19,431.82 74.66,431.85 75.13,431.85 75.61,431.64 76.08,431.83 76.55,431.67 77.03,431.84 77.5,431.86 77.97,431.86 78.45,431.73 78.92,431.77 79.39,431.84 79.87,431.81 80.34,431.73 80.81,431.8 81.29,431.87 81.76,431.66 82.23,431.8 82.71,431.82 83.18,431.79 83.65,431.7 84.13,431.82 84.6,431.69" fill="none" stroke="#a8192f" stroke-width="1.15" stroke-linejoin="round"/>
<polyline points="33,426.53 33.47,425.69 33.95,424.45 34.42,423.63 34.89,422.62 35.37,420.6 35.84,418.68 36.31,416.27 36.79,413.54 37.26,413.23 37.73,413.35 38.21,410.65 38.68,407.9 39.15,406.8 39.63,403.98 40.1,401.34 40.57,400.85 41.05,397.89 41.52,395.23 41.99,395.41 42.47,393.95 42.94,392.11 43.41,393.05 43.89,391.6 44.36,387.15 44.83,388.24 45.31,391.08 45.78,387.41 46.26,386.29 46.73,390.31 47.2,390.43 47.68,391.14 48.15,394.23 48.62,396.81 49.1,398.15 49.57,397.03 50.04,398.78 50.52,403.48 50.99,405.55 51.46,405.97 51.94,406.95 52.41,407.97 52.88,408.8 53.36,409.1 53.83,409.99 54.3,410.96 54.78,411.68 55.25,413.59 55.72,416.51 56.2,418.01 56.67,419.75 57.14,422.04 57.62,423.64 58.09,425.92 58.56,427.75 59.04,428.62 59.51,429.18 59.98,430.11 60.46,430.48 60.93,431.02 61.4,431.29 61.88,431.58 62.35,431.54 62.82,431.76 63.3,431.51 63.77,431.73 64.24,431.49 64.72,431.61 65.19,431.8 65.66,431.86 66.14,431.89 66.61,431.73 67.08,431.72 67.56,431.67 68.03,431.76 68.5,431.85 68.98,431.88 69.45,431.73 69.92,431.78 70.4,431.63 70.87,431.81 71.34,431.73 71.82,431.75 72.29,431.78 72.77,431.64 73.24,431.61 73.71,431.62 74.19,431.69 74.66,431.84 75.13,431.84 75.61,431.76 76.08,431.84 76.55,431.59 77.03,431.7 77.5,431.45 77.97,431.79 78.45,431.68 78.92,431.84 79.39,431.7 79.87,431.83 80.34,431.71 80.81,431.58 81.29,431.7 81.76,431.72 82.23,431.87 82.71,431.83 83.18,431.89 83.65,431.7 84.13,431.69 84.6,431.84" fill="none" stroke="#1f2f78" stroke-width="1.15" stroke-linejoin="round"/>
<rect x="33.5" y="385.5" width="51" height="46" fill="none" stroke="#231f20" stroke-width="1"/>
<line x1="33.5" y1="385.1" x2="33.5" y2="432.5" stroke="#231f20" stroke-width="1.4"/>
<line x1="32.4" y1="431.5" x2="85.1" y2="431.5" stroke="#231f20" stroke-width="1.4"/>
<line x1="30" y1="385.6" x2="33" y2="385.6" stroke="#231f20" stroke-width="0.8"/>
<line x1="30" y1="431.9" x2="33" y2="431.9" stroke="#231f20" stroke-width="0.8"/>
<line x1="30.8" y1="420.32" x2="33" y2="420.32" stroke="#231f20" stroke-width="0.8"/>
<line x1="30.8" y1="408.75" x2="33" y2="408.75" stroke="#231f20" stroke-width="0.8"/>
<line x1="30.8" y1="397.18" x2="33" y2="397.18" stroke="#231f20" stroke-width="0.8"/>
<text x="28.3" y="387.6" font-size="5.6" text-anchor="end" textLength="8.6" lengthAdjust="spacingAndGlyphs">100</text>
<text x="28.3" y="433.9" font-size="5.6" text-anchor="end">0</text>
<line x1="33" y1="431.9" x2="33" y2="433.9" stroke="#231f20" stroke-width="0.8"/>
<text class="t" x="32.4" y="444.3" font-size="5.6" text-anchor="middle" letter-spacing="-0.15">10<tspan dy="-2.52" font-size="3.81">0</tspan></text>
<line x1="45.9" y1="431.9" x2="45.9" y2="433.9" stroke="#231f20" stroke-width="0.8"/>
<text class="t" x="45.3" y="444.3" font-size="5.6" text-anchor="middle" letter-spacing="-0.15">10<tspan dy="-2.52" font-size="3.81">1</tspan></text>
<line x1="58.8" y1="431.9" x2="58.8" y2="433.9" stroke="#231f20" stroke-width="0.8"/>
<text class="t" x="58.2" y="444.3" font-size="5.6" text-anchor="middle" letter-spacing="-0.15">10<tspan dy="-2.52" font-size="3.81">2</tspan></text>
<line x1="71.7" y1="431.9" x2="71.7" y2="433.9" stroke="#231f20" stroke-width="0.8"/>
<text class="t" x="71.1" y="444.3" font-size="5.6" text-anchor="middle" letter-spacing="-0.15">10<tspan dy="-2.52" font-size="3.81">3</tspan></text>
<line x1="84.6" y1="431.9" x2="84.6" y2="433.9" stroke="#231f20" stroke-width="0.8"/>
<text class="t" x="84" y="444.3" font-size="5.6" text-anchor="middle" letter-spacing="-0.15">10<tspan dy="-2.52" font-size="3.81">4</tspan></text>
<text x="59.2" y="382.3" font-size="6.3" text-anchor="middle" textLength="17.2" lengthAdjust="spacingAndGlyphs">1 hour</text>
<text x="58.8" y="453.4" font-size="7.5" text-anchor="middle" textLength="9.2" lengthAdjust="spacingAndGlyphs">C3</text>
<text x="15.8" y="408.75" font-size="8.6" text-anchor="middle" transform="rotate(-90 15.8 408.75)" textLength="25.4" lengthAdjust="spacingAndGlyphs">Counts</text>
<polyline points="118.6,422.28 119.07,420.56 119.55,417.28 120.02,415.63 120.49,414.5 120.97,413.38 121.44,411.34 121.91,408.83 122.39,406.89 122.86,405.37 123.33,402.07 123.81,399.61 124.28,399.22 124.75,399 125.23,398.34 125.7,395.99 126.17,392.59 126.65,389.82 127.12,388.57 127.59,388.77 128.07,387.28 128.54,387.56 129.01,388.44 129.49,388.69 129.96,391.89 130.43,396.43 130.91,401.71 131.38,408.72 131.86,414.85 132.33,418.6 132.8,422.53 133.28,425.57 133.75,427.83 134.22,429.21 134.7,430.45 135.17,430.91 135.64,431.42 136.12,431.47 136.59,431.7 137.06,431.6 137.54,431.82 138.01,431.77 138.48,431.63 138.96,431.5 139.43,431.64 139.9,431.45 140.38,431.87 140.85,431.81 141.32,431.87 141.8,431.77 142.27,431.88 142.74,431.68 143.22,431.72 143.69,431.59 144.16,431.77 144.64,431.72 145.11,431.59 145.58,431.84 146.06,431.87 146.53,431.81 147,431.5 147.48,431.75 147.95,431.63 148.42,431.8 148.9,431.62 149.37,431.51 149.84,431.75 150.32,431.86 150.79,431.85 151.26,431.84 151.74,431.56 152.21,431.77 152.68,431.86 153.16,431.71 153.63,431.88 154.1,431.73 154.58,431.76 155.05,431.5 155.52,431.85 156,431.87 156.47,431.76 156.94,431.68 157.42,431.81 157.89,431.87 158.37,431.77 158.84,431.72 159.31,431.9 159.79,431.84 160.26,431.87 160.73,431.88 161.21,431.77 161.68,431.43 162.15,431.87 162.63,431.82 163.1,431.82 163.57,431.84 164.05,431.81 164.52,431.76 164.99,431.89 165.47,431.85 165.94,431.69 166.41,431.84 166.89,431.82 167.36,431.8 167.83,431.64 168.31,431.88 168.78,431.67 169.25,431.76 169.73,431.81 170.2,431.68" fill="none" stroke="#5cb247" stroke-width="1.15" stroke-linejoin="round"/>
<polyline points="118.6,424.5 119.07,422.47 119.55,420.26 120.02,418.73 120.49,417.1 120.97,416.68 121.44,416.14 121.91,413.35 122.39,409.68 122.86,408 123.33,408.48 123.81,406.25 124.28,400.17 124.75,397.72 125.23,397.78 125.7,397.64 126.17,395.84 126.65,390.97 127.12,389.27 127.59,391.77 128.07,392.36 128.54,391.73 129.01,392.4 129.49,391.37 129.96,392.22 130.43,393.22 130.91,394.66 131.38,401.69 131.86,406.23 132.33,409.99 132.8,415.97 133.28,420.39 133.75,423.27 134.22,425.86 134.7,428.17 135.17,429.69 135.64,430.33 136.12,431.06 136.59,431.41 137.06,431.48 137.54,431.7 138.01,431.77 138.48,431.85 138.96,431.65 139.43,431.9 139.9,431.83 140.38,431.78 140.85,431.77 141.32,431.79 141.8,431.72 142.27,431.7 142.74,431.61 143.22,431.79 143.69,431.83 144.16,431.66 144.64,431.78 145.11,431.75 145.58,431.71 146.06,431.53 146.53,431.82 147,431.82 147.48,431.86 147.95,431.89 148.42,431.89 148.9,431.86 149.37,431.84 149.84,431.73 150.32,431.8 150.79,431.88 151.26,431.74 151.74,431.79 152.21,431.29 152.68,431.74 153.16,431.76 153.63,431.86 154.1,431.89 154.58,431.89 155.05,431.89 155.52,431.75 156,431.83 156.47,431.7 156.94,431.35 157.42,431.7 157.89,431.9 158.37,431.64 158.84,431.38 159.31,431.63 159.79,431.54 160.26,431.87 160.73,431.81 161.21,431.88 161.68,431.73 162.15,431.76 162.63,431.8 163.1,431.83 163.57,431.65 164.05,431.73 164.52,431.7 164.99,431.74 165.47,431.78 165.94,431.79 166.41,431.81 166.89,431.68 167.36,431.5 167.83,431.89 168.31,431.6 168.78,431.85 169.25,431.8 169.73,431.81 170.2,431.81" fill="none" stroke="#a8192f" stroke-width="1.15" stroke-linejoin="round"/>
<polyline points="118.6,428.43 119.07,427.71 119.55,426.69 120.02,425.72 120.49,424.36 120.97,423.07 121.44,422.07 121.91,420.98 122.39,420.01 122.86,417.75 123.33,415.16 123.81,413.72 124.28,413.38 124.75,410.99 125.23,407.17 125.7,406.12 126.17,406.65 126.65,404.18 127.12,400.31 127.59,397.98 128.07,397.44 128.54,395.1 129.01,392.87 129.49,393.06 129.96,393.39 130.43,390.78 130.91,389.51 131.38,390.86 131.86,389.52 132.33,386.29 132.8,386.29 133.28,386.35 133.75,388.13 134.22,390.22 134.7,393.99 135.17,396.61 135.64,397.21 136.12,398.35 136.59,401.42 137.06,401.77 137.54,401.13 138.01,404.84 138.48,407.5 138.96,405.28 139.43,405.5 139.9,408.52 140.38,410.63 140.85,410.61 141.32,410.26 141.8,410.43 142.27,413.47 142.74,416.58 143.22,418.49 143.69,420.86 144.16,422.97 144.64,424.74 145.11,426.62 145.58,427.85 146.06,428.66 146.53,429.47 147,430.05 147.48,430.84 147.95,431.25 148.42,431.46 148.9,431.55 149.37,431.58 149.84,431.76 150.32,431.76 150.79,431.59 151.26,431.68 151.74,431.86 152.21,431.89 152.68,431.88 153.16,431.65 153.63,431.75 154.1,431.81 154.58,431.86 155.05,431.49 155.52,431.45 156,431.62 156.47,431.9 156.94,431.63 157.42,431.85 157.89,431.81 158.37,431.71 158.84,431.86 159.31,431.85 159.79,431.79 160.26,431.85 160.73,431.79 161.21,431.85 161.68,431.58 162.15,431.89 162.63,431.76 163.1,431.8 163.57,431.67 164.05,431.79 164.52,431.73 164.99,431.73 165.47,431.79 165.94,431.68 166.41,431.67 166.89,431.81 167.36,431.5 167.83,431.82 168.31,431.72 168.78,431.72 169.25,431.72 169.73,431.73 170.2,431.67" fill="none" stroke="#1f2f78" stroke-width="1.15" stroke-linejoin="round"/>
<rect x="118.5" y="385.5" width="52" height="46" fill="none" stroke="#231f20" stroke-width="1"/>
<line x1="118.5" y1="385.1" x2="118.5" y2="432.5" stroke="#231f20" stroke-width="1.4"/>
<line x1="118" y1="431.5" x2="170.7" y2="431.5" stroke="#231f20" stroke-width="1.4"/>
<line x1="115.6" y1="385.6" x2="118.6" y2="385.6" stroke="#231f20" stroke-width="0.8"/>
<line x1="115.6" y1="431.9" x2="118.6" y2="431.9" stroke="#231f20" stroke-width="0.8"/>
<line x1="116.4" y1="420.32" x2="118.6" y2="420.32" stroke="#231f20" stroke-width="0.8"/>
<line x1="116.4" y1="408.75" x2="118.6" y2="408.75" stroke="#231f20" stroke-width="0.8"/>
<line x1="116.4" y1="397.18" x2="118.6" y2="397.18" stroke="#231f20" stroke-width="0.8"/>
<text x="113.9" y="387.6" font-size="5.6" text-anchor="end" textLength="8.6" lengthAdjust="spacingAndGlyphs">100</text>
<text x="113.9" y="433.9" font-size="5.6" text-anchor="end">0</text>
<line x1="118.6" y1="431.9" x2="118.6" y2="433.9" stroke="#231f20" stroke-width="0.8"/>
<text class="t" x="118" y="444.3" font-size="5.6" text-anchor="middle" letter-spacing="-0.15">10<tspan dy="-2.52" font-size="3.81">0</tspan></text>
<line x1="131.5" y1="431.9" x2="131.5" y2="433.9" stroke="#231f20" stroke-width="0.8"/>
<text class="t" x="130.9" y="444.3" font-size="5.6" text-anchor="middle" letter-spacing="-0.15">10<tspan dy="-2.52" font-size="3.81">1</tspan></text>
<line x1="144.4" y1="431.9" x2="144.4" y2="433.9" stroke="#231f20" stroke-width="0.8"/>
<text class="t" x="143.8" y="444.3" font-size="5.6" text-anchor="middle" letter-spacing="-0.15">10<tspan dy="-2.52" font-size="3.81">2</tspan></text>
<line x1="157.3" y1="431.9" x2="157.3" y2="433.9" stroke="#231f20" stroke-width="0.8"/>
<text class="t" x="156.7" y="444.3" font-size="5.6" text-anchor="middle" letter-spacing="-0.15">10<tspan dy="-2.52" font-size="3.81">3</tspan></text>
<line x1="170.2" y1="431.9" x2="170.2" y2="433.9" stroke="#231f20" stroke-width="0.8"/>
<text class="t" x="169.6" y="444.3" font-size="5.6" text-anchor="middle" letter-spacing="-0.15">10<tspan dy="-2.52" font-size="3.81">4</tspan></text>
<text x="144.8" y="382.3" font-size="6.3" text-anchor="middle" textLength="17.2" lengthAdjust="spacingAndGlyphs">2 hour</text>
<text x="144.4" y="453.4" font-size="7.5" text-anchor="middle" textLength="9.2" lengthAdjust="spacingAndGlyphs">C3</text>
<text x="101.4" y="408.75" font-size="8.6" text-anchor="middle" transform="rotate(-90 101.4 408.75)" textLength="25.4" lengthAdjust="spacingAndGlyphs">Counts</text>
<polyline points="203.6,417.01 204.07,416.43 204.55,415.26 205.02,411.84 205.49,408.74 205.97,408.75 206.44,410.96 206.91,408.54 207.39,401.85 207.86,399.07 208.33,399.25 208.81,395.78 209.28,392.28 209.75,394.06 210.23,396.11 210.7,394.43 211.17,390.85 211.65,386.68 212.12,386.58 212.59,389.29 213.07,389.19 213.54,388.25 214.01,388.94 214.49,390.79 214.96,395.95 215.43,402.31 215.91,407.5 216.38,411.71 216.86,414.96 217.33,417.99 217.8,421.79 218.28,424.82 218.75,427.11 219.22,428.77 219.7,429.99 220.17,430.43 220.64,431.08 221.12,431.34 221.59,431.53 222.06,431.68 222.54,431.8 223.01,431.71 223.48,431.78 223.96,431.54 224.43,431.77 224.9,431.9 225.38,431.71 225.85,431.89 226.32,431.89 226.8,431.87 227.27,431.82 227.74,431.85 228.22,431.87 228.69,431.87 229.16,431.72 229.64,431.79 230.11,431.88 230.58,431.87 231.06,431.87 231.53,431.78 232,431.77 232.48,431.56 232.95,431.87 233.42,431.76 233.9,431.77 234.37,431.76 234.84,431.87 235.32,431.8 235.79,431.8 236.26,431.83 236.74,431.72 237.21,431.73 237.68,431.73 238.16,431.64 238.63,431.83 239.1,431.85 239.58,431.58 240.05,431.69 240.52,431.8 241,431.68 241.47,431.54 241.94,431.89 242.42,431.54 242.89,431.86 243.37,431.88 243.84,431.88 244.31,431.79 244.79,431.88 245.26,431.85 245.73,431.69 246.21,431.69 246.68,431.68 247.15,431.84 247.63,431.88 248.1,431.82 248.57,431.66 249.05,431.59 249.52,431.88 249.99,431.78 250.47,431.89 250.94,431.68 251.41,431.72 251.89,431.42 252.36,431.88 252.83,431.73 253.31,431.71 253.78,431.87 254.25,431.68 254.73,431.58 255.2,431.85" fill="none" stroke="#5cb247" stroke-width="1.15" stroke-linejoin="round"/>
<polyline points="203.6,417.56 204.07,416.53 204.55,414.87 205.02,412.58 205.49,410.34 205.97,408.85 206.44,407.98 206.91,405.92 207.39,402.67 207.86,399.05 208.33,396.53 208.81,396.23 209.28,397.55 209.75,396.44 210.23,394.04 210.7,395.15 211.17,397.3 211.65,394.94 212.12,391.19 212.59,390.99 213.07,390.17 213.54,389.98 214.01,392.28 214.49,391.65 214.96,390.64 215.43,395.02 215.91,402.18 216.38,408.82 216.86,414.73 217.33,418.98 217.8,422.66 218.28,426.21 218.75,428.12 219.22,429.38 219.7,430.2 220.17,430.92 220.64,431.33 221.12,431.61 221.59,431.71 222.06,431.68 222.54,431.7 223.01,431.83 223.48,431.88 223.96,431.64 224.43,431.64 224.9,431.83 225.38,431.87 225.85,431.84 226.32,431.86 226.8,431.71 227.27,431.76 227.74,431.61 228.22,431.67 228.69,431.78 229.16,431.61 229.64,431.78 230.11,431.74 230.58,431.73 231.06,431.87 231.53,431.78 232,431.79 232.48,431.72 232.95,431.62 233.42,431.73 233.9,431.78 234.37,431.73 234.84,431.9 235.32,431.84 235.79,431.68 236.26,431.49 236.74,431.68 237.21,431.77 237.68,431.77 238.16,431.83 238.63,431.85 239.1,431.9 239.58,431.9 240.05,431.52 240.52,431.75 241,431.86 241.47,431.59 241.94,431.88 242.42,431.71 242.89,431.88 243.37,431.81 243.84,431.88 244.31,431.71 244.79,431.83 245.26,431.86 245.73,431.88 246.21,431.84 246.68,431.63 247.15,431.89 247.63,431.71 248.1,431.65 248.57,431.54 249.05,431.74 249.52,431.78 249.99,431.7 250.47,431.68 250.94,431.8 251.41,431.89 251.89,431.63 252.36,431.73 252.83,431.82 253.31,431.35 253.78,431.9 254.25,431.88 254.73,431.83 255.2,431.79" fill="none" stroke="#a8192f" stroke-width="1.15" stroke-linejoin="round"/>
<polyline points="203.6,429.72 204.07,429.51 204.55,429.47 205.02,429.48 205.49,429.27 205.97,428.87 206.44,428.37 206.91,428.25 207.39,428.25 207.86,428.14 208.33,427.88 208.81,428.1 209.28,427.95 209.75,427.53 210.23,426.73 210.7,426.69 211.17,426.16 211.65,426.01 212.12,425.97 212.59,425.6 213.07,425.21 213.54,424.65 214.01,423.39 214.49,422.58 214.96,422.31 215.43,421.81 215.91,420.42 216.38,419.4 216.86,419.18 217.33,418.15 217.8,416.82 218.28,415.98 218.75,416.57 219.22,418.09 219.7,418.03 220.17,417.39 220.64,416.39 221.12,415.34 221.59,414.16 222.06,412.08 222.54,409.85 223.01,406.7 223.48,400.54 223.96,395.51 224.43,395.06 224.9,393.59 225.38,391.28 225.85,389.42 226.32,389.61 226.8,394.67 227.27,402.77 227.74,410.58 228.22,414.95 228.69,419.33 229.16,423.55 229.64,426.88 230.11,429.27 230.58,430.39 231.06,431.06 231.53,431.46 232,431.63 232.48,431.74 232.95,431.79 233.42,431.69 233.9,431.59 234.37,431.5 234.84,431.86 235.32,431.88 235.79,431.73 236.26,431.88 236.74,431.87 237.21,431.89 237.68,431.89 238.16,431.84 238.63,431.88 239.1,431.76 239.58,431.84 240.05,431.67 240.52,431.45 241,431.61 241.47,431.72 241.94,431.75 242.42,431.61 242.89,431.85 243.37,431.87 243.84,431.77 244.31,431.83 244.79,431.64 245.26,431.86 245.73,431.84 246.21,431.77 246.68,431.36 247.15,431.63 247.63,431.88 248.1,431.8 248.57,431.69 249.05,431.84 249.52,431.54 249.99,431.77 250.47,431.79 250.94,431.88 251.41,431.71 251.89,431.89 252.36,431.53 252.83,431.83 253.31,431.77 253.78,431.82 254.25,431.89 254.73,431.79 255.2,431.5" fill="none" stroke="#1f2f78" stroke-width="1.15" stroke-linejoin="round"/>
<rect x="203.5" y="385.5" width="52" height="46" fill="none" stroke="#231f20" stroke-width="1"/>
<line x1="203.5" y1="385.1" x2="203.5" y2="432.5" stroke="#231f20" stroke-width="1.4"/>
<line x1="203" y1="431.5" x2="255.7" y2="431.5" stroke="#231f20" stroke-width="1.4"/>
<line x1="200.6" y1="385.6" x2="203.6" y2="385.6" stroke="#231f20" stroke-width="0.8"/>
<line x1="200.6" y1="431.9" x2="203.6" y2="431.9" stroke="#231f20" stroke-width="0.8"/>
<line x1="201.4" y1="420.32" x2="203.6" y2="420.32" stroke="#231f20" stroke-width="0.8"/>
<line x1="201.4" y1="408.75" x2="203.6" y2="408.75" stroke="#231f20" stroke-width="0.8"/>
<line x1="201.4" y1="397.18" x2="203.6" y2="397.18" stroke="#231f20" stroke-width="0.8"/>
<text x="198.9" y="387.6" font-size="5.6" text-anchor="end" textLength="8.6" lengthAdjust="spacingAndGlyphs">100</text>
<text x="198.9" y="433.9" font-size="5.6" text-anchor="end">0</text>
<line x1="203.6" y1="431.9" x2="203.6" y2="433.9" stroke="#231f20" stroke-width="0.8"/>
<text class="t" x="203" y="444.3" font-size="5.6" text-anchor="middle" letter-spacing="-0.15">10<tspan dy="-2.52" font-size="3.81">0</tspan></text>
<line x1="216.5" y1="431.9" x2="216.5" y2="433.9" stroke="#231f20" stroke-width="0.8"/>
<text class="t" x="215.9" y="444.3" font-size="5.6" text-anchor="middle" letter-spacing="-0.15">10<tspan dy="-2.52" font-size="3.81">1</tspan></text>
<line x1="229.4" y1="431.9" x2="229.4" y2="433.9" stroke="#231f20" stroke-width="0.8"/>
<text class="t" x="228.8" y="444.3" font-size="5.6" text-anchor="middle" letter-spacing="-0.15">10<tspan dy="-2.52" font-size="3.81">2</tspan></text>
<line x1="242.3" y1="431.9" x2="242.3" y2="433.9" stroke="#231f20" stroke-width="0.8"/>
<text class="t" x="241.7" y="444.3" font-size="5.6" text-anchor="middle" letter-spacing="-0.15">10<tspan dy="-2.52" font-size="3.81">3</tspan></text>
<line x1="255.2" y1="431.9" x2="255.2" y2="433.9" stroke="#231f20" stroke-width="0.8"/>
<text class="t" x="254.6" y="444.3" font-size="5.6" text-anchor="middle" letter-spacing="-0.15">10<tspan dy="-2.52" font-size="3.81">4</tspan></text>
<text x="229.8" y="382.3" font-size="6.3" text-anchor="middle" textLength="22.8" lengthAdjust="spacingAndGlyphs">24 hours</text>
<text x="229.4" y="453.4" font-size="7.5" text-anchor="middle" textLength="9.2" lengthAdjust="spacingAndGlyphs">C3</text>
<text x="186.4" y="408.75" font-size="8.6" text-anchor="middle" transform="rotate(-90 186.4 408.75)" textLength="25.4" lengthAdjust="spacingAndGlyphs">Counts</text>
<polyline points="291.2,212.51 291.67,210.05 292.14,207.64 292.61,206.08 293.09,204.45 293.56,201.23 294.03,199.56 294.5,200.16 294.97,199.55 295.44,197.33 295.92,192.69 296.39,186.68 296.86,185.11 297.33,186.69 297.8,184.34 298.27,180.39 298.74,180.39 299.22,183.19 299.69,183.63 300.16,183.05 300.63,182.53 301.1,184.36 301.57,189.08 302.05,193.24 302.52,197.57 302.99,203.17 303.46,208.88 303.93,212.21 304.4,215.06 304.88,218.41 305.35,220.84 305.82,222.26 306.29,223.26 306.76,224.34 307.23,224.82 307.7,224.94 308.18,225.23 308.65,225.5 309.12,225.31 309.59,225.6 310.06,225.57 310.53,225.69 311.01,225.55 311.48,225.6 311.95,225.65 312.42,225.53 312.89,225.65 313.36,225.47 313.83,225.49 314.31,225.52 314.78,225.58 315.25,225.45 315.72,225.6 316.19,225.69 316.66,225.64 317.14,225.67 317.61,225.54 318.08,225.28 318.55,225.55 319.02,225.53 319.49,225.46 319.97,225.58 320.44,225.5 320.91,225.52 321.38,225.69 321.85,225.62 322.32,225.52 322.79,225.42 323.27,225.56 323.74,225.48 324.21,225.67 324.68,225.64 325.15,225.53 325.62,225.47 326.1,225.68 326.57,225.42 327.04,225.47 327.51,225.66 327.98,225.56 328.45,225.5 328.92,225.6 329.4,225.48 329.87,225.51 330.34,225.3 330.81,225.58 331.28,225.05 331.75,225.64 332.23,225.66 332.7,225.68 333.17,225.57 333.64,225.65 334.11,225.69 334.58,225.33 335.06,225.67 335.53,225.59 336,225.67 336.47,225.54 336.94,225.59 337.41,225.51 337.88,225.44 338.36,225.66 338.83,225.44 339.3,225.69 339.77,225.32 340.24,225.64 340.71,225.7 341.19,225.64 341.66,225.64 342.13,225.52 342.6,225.45" fill="none" stroke="#5cb247" stroke-width="1.15" stroke-linejoin="round"/>
<polyline points="291.2,215.44 291.67,214.34 292.14,212.01 292.61,210.54 293.09,211.34 293.56,209.82 294.03,206.63 294.5,204.38 294.97,202.66 295.44,200.78 295.92,196.84 296.39,194.31 296.86,192.67 297.33,189.82 297.8,189.53 298.27,190 298.74,188.5 299.22,186.75 299.69,184.07 300.16,183.14 300.63,184.37 301.1,182.68 301.57,180.39 302.05,181.38 302.52,184.24 302.99,186.66 303.46,190.28 303.93,196.12 304.4,202.67 304.88,207.92 305.35,213.56 305.82,218.41 306.29,221.35 306.76,223.34 307.23,224.19 307.7,224.91 308.18,225.27 308.65,225.54 309.12,225.45 309.59,225.65 310.06,225.66 310.53,225.51 311.01,225.39 311.48,225.61 311.95,225.69 312.42,225.37 312.89,225.68 313.36,225.52 313.83,225.61 314.31,225.48 314.78,225.52 315.25,225.57 315.72,225.31 316.19,225.55 316.66,225.55 317.14,225.53 317.61,225.53 318.08,225.63 318.55,225.67 319.02,225.69 319.49,225.58 319.97,225.62 320.44,225.62 320.91,225.47 321.38,225.46 321.85,225.67 322.32,225.41 322.79,225.67 323.27,225.68 323.74,225.65 324.21,225.46 324.68,225.66 325.15,225.62 325.62,225.5 326.1,225.62 326.57,225.42 327.04,225.67 327.51,225.47 327.98,225.45 328.45,225.4 328.92,225.38 329.4,225.67 329.87,225.63 330.34,225.43 330.81,225.5 331.28,225.54 331.75,225.58 332.23,225.63 332.7,225.7 333.17,225.67 333.64,225.64 334.11,225.44 334.58,225.68 335.06,225.58 335.53,225.32 336,225.69 336.47,225.54 336.94,225.48 337.41,225.54 337.88,225.64 338.36,225.53 338.83,225.46 339.3,225.69 339.77,225.61 340.24,225.64 340.71,225.52 341.19,225.6 341.66,225.45 342.13,225.67 342.6,225.57" fill="none" stroke="#a8192f" stroke-width="1.15" stroke-linejoin="round"/>
<polyline points="291.2,217.37 291.67,216.17 292.14,215.32 292.61,215.35 293.09,213.89 293.56,210.83 294.03,208.57 294.5,207.5 294.97,205.55 295.44,202.19 295.92,200.04 296.39,199.68 296.86,199.1 297.33,197.7 297.8,195.93 298.27,193.55 298.74,191.11 299.22,188.41 299.69,187.96 300.16,185.49 300.63,182.62 301.1,185.26 301.57,187.16 302.05,185.94 302.52,186.22 302.99,182.42 303.46,180.39 303.93,181.6 304.4,186.58 304.88,189.96 305.35,189 305.82,190.7 306.29,193.6 306.76,195.5 307.23,201.1 307.7,206.71 308.18,208.62 308.65,208.99 309.12,210.58 309.59,213.1 310.06,215.67 310.53,217.69 311.01,218.9 311.48,220.65 311.95,221.67 312.42,222.09 312.89,223.07 313.36,223.44 313.83,224.02 314.31,224.18 314.78,224.94 315.25,224.94 315.72,225.12 316.19,225.28 316.66,225.37 317.14,225.45 317.61,225.52 318.08,225.43 318.55,225.63 319.02,225.24 319.49,225.51 319.97,225.58 320.44,225.34 320.91,225.27 321.38,225.48 321.85,225.48 322.32,225.58 322.79,225.61 323.27,225.66 323.74,225.6 324.21,225.64 324.68,225.69 325.15,225.61 325.62,225.62 326.1,225.65 326.57,225.64 327.04,225.53 327.51,225.56 327.98,225.48 328.45,225.56 328.92,225.43 329.4,225.41 329.87,225.6 330.34,225.65 330.81,225.55 331.28,225.58 331.75,225.41 332.23,225.69 332.7,225.44 333.17,225.62 333.64,225.69 334.11,225.38 334.58,225.31 335.06,225.63 335.53,225.57 336,225.58 336.47,225.54 336.94,225.52 337.41,225.68 337.88,225.61 338.36,225.46 338.83,225.67 339.3,225.7 339.77,225.66 340.24,225.46 340.71,225.6 341.19,225.5 341.66,225.67 342.13,225.57 342.6,225.48" fill="none" stroke="#1f2f78" stroke-width="1.15" stroke-linejoin="round"/>
<rect x="291.5" y="179.5" width="51" height="46" fill="none" stroke="#231f20" stroke-width="1"/>
<line x1="291.5" y1="179.2" x2="291.5" y2="226.3" stroke="#231f20" stroke-width="1.4"/>
<line x1="290.6" y1="225.5" x2="343.1" y2="225.5" stroke="#231f20" stroke-width="1.4"/>
<line x1="288.2" y1="179.7" x2="291.2" y2="179.7" stroke="#231f20" stroke-width="0.8"/>
<line x1="288.2" y1="225.7" x2="291.2" y2="225.7" stroke="#231f20" stroke-width="0.8"/>
<line x1="289" y1="214.2" x2="291.2" y2="214.2" stroke="#231f20" stroke-width="0.8"/>
<line x1="289" y1="202.7" x2="291.2" y2="202.7" stroke="#231f20" stroke-width="0.8"/>
<line x1="289" y1="191.2" x2="291.2" y2="191.2" stroke="#231f20" stroke-width="0.8"/>
<text x="287" y="181.7" font-size="5.6" text-anchor="end" textLength="8.6" lengthAdjust="spacingAndGlyphs">100</text>
<text x="287" y="227.7" font-size="5.6" text-anchor="end">0</text>
<line x1="291.2" y1="225.7" x2="291.2" y2="227.7" stroke="#231f20" stroke-width="0.8"/>
<text class="t" x="290.6" y="237.4" font-size="5.6" text-anchor="middle" letter-spacing="-0.15">10<tspan dy="-2.52" font-size="3.81">0</tspan></text>
<line x1="304.05" y1="225.7" x2="304.05" y2="227.7" stroke="#231f20" stroke-width="0.8"/>
<text class="t" x="303.45" y="237.4" font-size="5.6" text-anchor="middle" letter-spacing="-0.15">10<tspan dy="-2.52" font-size="3.81">1</tspan></text>
<line x1="316.9" y1="225.7" x2="316.9" y2="227.7" stroke="#231f20" stroke-width="0.8"/>
<text class="t" x="316.3" y="237.4" font-size="5.6" text-anchor="middle" letter-spacing="-0.15">10<tspan dy="-2.52" font-size="3.81">2</tspan></text>
<line x1="329.75" y1="225.7" x2="329.75" y2="227.7" stroke="#231f20" stroke-width="0.8"/>
<text class="t" x="329.15" y="237.4" font-size="5.6" text-anchor="middle" letter-spacing="-0.15">10<tspan dy="-2.52" font-size="3.81">3</tspan></text>
<line x1="342.6" y1="225.7" x2="342.6" y2="227.7" stroke="#231f20" stroke-width="0.8"/>
<text class="t" x="342" y="237.4" font-size="5.6" text-anchor="middle" letter-spacing="-0.15">10<tspan dy="-2.52" font-size="3.81">4</tspan></text>
<text x="317.4" y="175" font-size="6.3" text-anchor="middle" textLength="17.3" lengthAdjust="spacingAndGlyphs">1 hour</text>
<text x="316.9" y="247" font-size="7.5" text-anchor="middle" textLength="33.8" lengthAdjust="spacingAndGlyphs">C3b/iC3b</text>
<text x="273.8" y="202.7" font-size="8.6" text-anchor="middle" transform="rotate(-90 273.8 202.7)" textLength="25.4" lengthAdjust="spacingAndGlyphs">Counts</text>
<polyline points="373.9,210.18 374.37,208.72 374.84,206.99 375.31,204.28 375.79,201.97 376.26,201.01 376.73,201.03 377.2,199.47 377.67,196.72 378.14,193.85 378.62,190.81 379.09,189.73 379.56,189.72 380.03,186.5 380.5,183.56 380.97,184.26 381.44,184.75 381.92,182.46 382.39,180.39 382.86,180.39 383.33,180.39 383.8,185.18 384.27,187.18 384.75,190.57 385.22,195.14 385.69,199.38 386.16,204.42 386.63,208.16 387.1,211.15 387.58,215.15 388.05,218.4 388.52,220.37 388.99,222.42 389.46,223.31 389.93,224.13 390.4,224.48 390.88,224.89 391.35,225.3 391.82,225.37 392.29,225.42 392.76,225.4 393.23,225.43 393.71,225.49 394.18,225.49 394.65,225.68 395.12,225.38 395.59,225.65 396.06,225.54 396.53,225.58 397.01,225.65 397.48,225.69 397.95,225.63 398.42,225.62 398.89,225.57 399.36,225.65 399.84,225.53 400.31,225.63 400.78,225.65 401.25,225.65 401.72,225.63 402.19,225.64 402.67,225.6 403.14,225.7 403.61,225.46 404.08,225.58 404.55,225.54 405.02,225.14 405.49,225.65 405.97,225.65 406.44,225.55 406.91,225.43 407.38,225.42 407.85,225.65 408.32,225.51 408.8,225.57 409.27,225.69 409.74,225.42 410.21,225.7 410.68,225.23 411.15,225.54 411.62,225.45 412.1,225.67 412.57,225.69 413.04,225.54 413.51,225.54 413.98,225.57 414.45,225.44 414.93,225.28 415.4,225.51 415.87,225.4 416.34,225.58 416.81,225.56 417.28,225.47 417.76,225.64 418.23,225.44 418.7,225.54 419.17,225.69 419.64,225.46 420.11,225.6 420.58,225.4 421.06,225.7 421.53,225.69 422,225.7 422.47,225.68 422.94,225.47 423.41,225.47 423.89,225.31 424.36,225.48 424.83,225.66 425.3,225.4" fill="none" stroke="#5cb247" stroke-width="1.15" stroke-linejoin="round"/>
<polyline points="373.9,215.76 374.37,214.04 374.84,212.41 375.31,210.2 375.79,208.91 376.26,207.05 376.73,204.65 377.2,203.19 377.67,202.34 378.14,200.2 378.62,198.18 379.09,197.72 379.56,196.13 380.03,194.48 380.5,194.29 380.97,192.89 381.44,188.15 381.92,184.49 382.39,183.69 382.86,182.82 383.33,184.27 383.8,187.16 384.27,187.74 384.75,184.01 385.22,180.39 385.69,185.16 386.16,191.52 386.63,193.61 387.1,197.22 387.58,202.16 388.05,206.93 388.52,210.86 388.99,214.71 389.46,218.21 389.93,220.32 390.4,221.53 390.88,222.57 391.35,223.74 391.82,224.25 392.29,224.95 392.76,224.91 393.23,225.48 393.71,225.53 394.18,225.38 394.65,225.51 395.12,225.32 395.59,225.68 396.06,225.56 396.53,225.58 397.01,225.59 397.48,225.64 397.95,225.21 398.42,225.6 398.89,225.59 399.36,225.69 399.84,225.54 400.31,225.55 400.78,225.43 401.25,225.69 401.72,225.66 402.19,225.61 402.67,225.62 403.14,225.54 403.61,225.54 404.08,225.58 404.55,225.67 405.02,225.46 405.49,225.43 405.97,225.66 406.44,225.6 406.91,225.69 407.38,225.55 407.85,225.67 408.32,225.6 408.8,225.48 409.27,225.37 409.74,225.68 410.21,225.68 410.68,225.6 411.15,225.6 411.62,225.55 412.1,225.63 412.57,225.64 413.04,225.35 413.51,225.49 413.98,225.68 414.45,225.51 414.93,225.59 415.4,225.47 415.87,225.69 416.34,225.36 416.81,225.55 417.28,225.59 417.76,225.59 418.23,225.5 418.7,225.69 419.17,225.56 419.64,225.51 420.11,225.68 420.58,225.51 421.06,225.61 421.53,225.53 422,225.54 422.47,225.48 422.94,225.51 423.41,225.5 423.89,225.59 424.36,225.67 424.83,225.49 425.3,225.65" fill="none" stroke="#a8192f" stroke-width="1.15" stroke-linejoin="round"/>
<polyline points="373.9,218.46 374.37,216.98 374.84,215.77 375.31,214.9 375.79,214.48 376.26,213.52 376.73,211.27 377.2,209.21 377.67,207.08 378.14,204.42 378.62,202.92 379.09,202.41 379.56,201.71 380.03,199.82 380.5,194.89 380.97,190.7 381.44,191.61 381.92,192.77 382.39,189.44 382.86,185.52 383.33,185.88 383.8,187.29 384.27,184.33 384.75,180.56 385.22,182.1 385.69,186.29 386.16,184.48 386.63,180.39 387.1,180.39 387.58,181.32 388.05,187.02 388.52,189.34 388.99,192.13 389.46,196.48 389.93,199.17 390.4,200.89 390.88,203.41 391.35,208.02 391.82,210.78 392.29,212.89 392.76,214.91 393.23,217.1 393.71,219.17 394.18,220.3 394.65,221.67 395.12,222.69 395.59,223.16 396.06,223.68 396.53,224.38 397.01,224.84 397.48,224.88 397.95,225.15 398.42,225.22 398.89,225.11 399.36,225.3 399.84,225.31 400.31,225.49 400.78,225.59 401.25,225.55 401.72,225.59 402.19,225.55 402.67,225.62 403.14,225.44 403.61,225.5 404.08,225.66 404.55,225.63 405.02,225.18 405.49,225.59 405.97,225.51 406.44,225.16 406.91,225.64 407.38,225.49 407.85,225.67 408.32,225.66 408.8,225.66 409.27,225.31 409.74,225.65 410.21,225.7 410.68,225.53 411.15,225.48 411.62,225.61 412.1,225.42 412.57,225.7 413.04,225.54 413.51,225.64 413.98,225.6 414.45,225.63 414.93,225.63 415.4,225.69 415.87,225.61 416.34,225.55 416.81,225.64 417.28,225.55 417.76,225.46 418.23,225.67 418.7,225.59 419.17,225.37 419.64,225.62 420.11,225.59 420.58,225.43 421.06,225.49 421.53,225.62 422,225.7 422.47,225.37 422.94,225.54 423.41,225.68 423.89,225.49 424.36,225.61 424.83,225.64 425.3,225.43" fill="none" stroke="#1f2f78" stroke-width="1.15" stroke-linejoin="round"/>
<rect x="373.5" y="179.5" width="52" height="46" fill="none" stroke="#231f20" stroke-width="1"/>
<line x1="373.5" y1="179.2" x2="373.5" y2="226.3" stroke="#231f20" stroke-width="1.4"/>
<line x1="373.3" y1="225.5" x2="425.8" y2="225.5" stroke="#231f20" stroke-width="1.4"/>
<line x1="370.9" y1="179.7" x2="373.9" y2="179.7" stroke="#231f20" stroke-width="0.8"/>
<line x1="370.9" y1="225.7" x2="373.9" y2="225.7" stroke="#231f20" stroke-width="0.8"/>
<line x1="371.7" y1="214.2" x2="373.9" y2="214.2" stroke="#231f20" stroke-width="0.8"/>
<line x1="371.7" y1="202.7" x2="373.9" y2="202.7" stroke="#231f20" stroke-width="0.8"/>
<line x1="371.7" y1="191.2" x2="373.9" y2="191.2" stroke="#231f20" stroke-width="0.8"/>
<text x="369.7" y="181.7" font-size="5.6" text-anchor="end" textLength="8.6" lengthAdjust="spacingAndGlyphs">100</text>
<text x="369.7" y="227.7" font-size="5.6" text-anchor="end">0</text>
<line x1="373.9" y1="225.7" x2="373.9" y2="227.7" stroke="#231f20" stroke-width="0.8"/>
<text class="t" x="373.3" y="237.4" font-size="5.6" text-anchor="middle" letter-spacing="-0.15">10<tspan dy="-2.52" font-size="3.81">0</tspan></text>
<line x1="386.75" y1="225.7" x2="386.75" y2="227.7" stroke="#231f20" stroke-width="0.8"/>
<text class="t" x="386.15" y="237.4" font-size="5.6" text-anchor="middle" letter-spacing="-0.15">10<tspan dy="-2.52" font-size="3.81">1</tspan></text>
<line x1="399.6" y1="225.7" x2="399.6" y2="227.7" stroke="#231f20" stroke-width="0.8"/>
<text class="t" x="399" y="237.4" font-size="5.6" text-anchor="middle" letter-spacing="-0.15">10<tspan dy="-2.52" font-size="3.81">2</tspan></text>
<line x1="412.45" y1="225.7" x2="412.45" y2="227.7" stroke="#231f20" stroke-width="0.8"/>
<text class="t" x="411.85" y="237.4" font-size="5.6" text-anchor="middle" letter-spacing="-0.15">10<tspan dy="-2.52" font-size="3.81">3</tspan></text>
<line x1="425.3" y1="225.7" x2="425.3" y2="227.7" stroke="#231f20" stroke-width="0.8"/>
<text class="t" x="424.7" y="237.4" font-size="5.6" text-anchor="middle" letter-spacing="-0.15">10<tspan dy="-2.52" font-size="3.81">4</tspan></text>
<text x="400.1" y="175" font-size="6.3" text-anchor="middle" textLength="17.3" lengthAdjust="spacingAndGlyphs">2 hour</text>
<text x="399.6" y="247" font-size="7.5" text-anchor="middle" textLength="33.8" lengthAdjust="spacingAndGlyphs">C3b/iC3b</text>
<text x="356.5" y="202.7" font-size="8.6" text-anchor="middle" transform="rotate(-90 356.5 202.7)" textLength="25.4" lengthAdjust="spacingAndGlyphs">Counts</text>
<polyline points="456.2,217.9 456.67,217.01 457.14,216.55 457.61,215.8 458.09,213.52 458.56,211.24 459.03,209.03 459.5,206.49 459.97,204.02 460.44,202.3 460.92,198.94 461.39,195.01 461.86,192.36 462.33,188.38 462.8,186.06 463.27,185.76 463.74,184.48 464.22,185.5 464.69,183.92 465.16,180.39 465.63,180.39 466.1,180.39 466.57,180.39 467.05,180.39 467.52,184.51 467.99,190.24 468.46,197.53 468.93,204.41 469.4,207.65 469.88,209.05 470.35,212.85 470.82,216.91 471.29,219.79 471.76,221.51 472.23,223.08 472.7,223.82 473.18,224.55 473.65,224.99 474.12,224.97 474.59,225.3 475.06,225.4 475.53,225.6 476.01,225.64 476.48,225.67 476.95,225.68 477.42,225.64 477.89,225.49 478.36,225.67 478.83,225.65 479.31,225.57 479.78,225.64 480.25,225.68 480.72,225.68 481.19,225.41 481.66,225.62 482.14,225.7 482.61,225.27 483.08,225.61 483.55,225.48 484.02,225.61 484.49,225.55 484.97,225.2 485.44,225.6 485.91,225.34 486.38,225.66 486.85,225.39 487.32,225.46 487.79,225.52 488.27,225.61 488.74,225.55 489.21,225.41 489.68,225.48 490.15,225.57 490.62,225.62 491.1,225.49 491.57,225.55 492.04,225.51 492.51,225.67 492.98,225.6 493.45,225.57 493.92,225.45 494.4,225.67 494.87,225.58 495.34,225.55 495.81,225.61 496.28,225.44 496.75,225.56 497.23,225.69 497.7,225.69 498.17,225.62 498.64,225.58 499.11,225.62 499.58,225.47 500.06,225.4 500.53,225.27 501,225.36 501.47,225.42 501.94,225.67 502.41,225.56 502.88,225.69 503.36,225.67 503.83,225.62 504.3,225.43 504.77,225.52 505.24,225.45 505.71,225.67 506.19,225.47 506.66,225.18 507.13,225.58 507.6,225.69" fill="none" stroke="#5cb247" stroke-width="1.15" stroke-linejoin="round"/>
<polyline points="456.2,218.34 456.67,216.33 457.14,214.58 457.61,213.26 458.09,212.31 458.56,211.1 459.03,208.7 459.5,206.73 459.97,203.63 460.44,199.91 460.92,197.82 461.39,197.3 461.86,196.66 462.33,194.78 462.8,191.2 463.27,186.07 463.74,183.65 464.22,181.77 464.69,180.39 465.16,181.24 465.63,183.09 466.1,182.89 466.57,183.12 467.05,184.54 467.52,186.75 467.99,190.2 468.46,193.87 468.93,198.04 469.4,201.47 469.88,205.22 470.35,210.47 470.82,215.13 471.29,218.11 471.76,220.14 472.23,221.62 472.7,222.92 473.18,224.07 473.65,224.41 474.12,224.94 474.59,225.22 475.06,225.35 475.53,225.48 476.01,225.33 476.48,225.54 476.95,225.49 477.42,225.48 477.89,225.61 478.36,225.42 478.83,225.42 479.31,225.66 479.78,225.68 480.25,225.57 480.72,225.51 481.19,225.55 481.66,225.48 482.14,225.66 482.61,225.36 483.08,225.4 483.55,225.66 484.02,225.64 484.49,225.66 484.97,225.54 485.44,225.64 485.91,225.47 486.38,225.55 486.85,225.44 487.32,225.63 487.79,225.68 488.27,225.6 488.74,225.57 489.21,225.61 489.68,225.51 490.15,225.56 490.62,225.56 491.1,225.64 491.57,225.48 492.04,225.54 492.51,225.34 492.98,225.55 493.45,225.47 493.92,225.63 494.4,225.66 494.87,225.57 495.34,225.59 495.81,225.44 496.28,225.62 496.75,225.66 497.23,225.68 497.7,225.45 498.17,225.64 498.64,225.4 499.11,225.24 499.58,225.7 500.06,225.59 500.53,225.59 501,225.46 501.47,225.59 501.94,225.35 502.41,225.66 502.88,225.67 503.36,225.58 503.83,225.59 504.3,225.62 504.77,225.66 505.24,225.53 505.71,225.62 506.19,225.38 506.66,225.51 507.13,225.67 507.6,225.63" fill="none" stroke="#1f2f78" stroke-width="1.15" stroke-linejoin="round"/>
<polyline points="456.2,218.02 456.67,216.46 457.14,215.68 457.61,215.14 458.09,213 458.56,210.85 459.03,209.95 459.5,208.8 459.97,206.59 460.44,204.86 460.92,201.47 461.39,195.83 461.86,190.11 462.33,188.14 462.8,187.46 463.27,187.01 463.74,187.48 464.22,186.98 464.69,184.68 465.16,180.39 465.63,180.39 466.1,181 466.57,181.7 467.05,180.39 467.52,180.39 467.99,182.04 468.46,187.14 468.93,194.29 469.4,200.49 469.88,206.1 470.35,211.05 470.82,214.83 471.29,217.35 471.76,220.07 472.23,221.9 472.7,223.39 473.18,224.04 473.65,224.66 474.12,224.89 474.59,225.33 475.06,225.41 475.53,225.51 476.01,225.53 476.48,225.45 476.95,225.44 477.42,225.59 477.89,225.47 478.36,225.54 478.83,225.27 479.31,225.69 479.78,225.47 480.25,225.52 480.72,225.67 481.19,225.7 481.66,225.66 482.14,225.36 482.61,225.42 483.08,225.66 483.55,225.62 484.02,225.33 484.49,225.59 484.97,225.56 485.44,225.53 485.91,225.53 486.38,225.7 486.85,225.7 487.32,225.55 487.79,225.57 488.27,225.45 488.74,225.59 489.21,225.6 489.68,225.53 490.15,225.58 490.62,225.52 491.1,225.15 491.57,225.51 492.04,225.46 492.51,225.68 492.98,225.26 493.45,225.44 493.92,225.34 494.4,225.53 494.87,225.63 495.34,225.52 495.81,225.41 496.28,225.56 496.75,225.33 497.23,225.6 497.7,225.48 498.17,225.38 498.64,225.59 499.11,225.52 499.58,225.56 500.06,225.65 500.53,225.57 501,225.66 501.47,225.42 501.94,225.28 502.41,225.49 502.88,225.57 503.36,225.69 503.83,225.65 504.3,225.53 504.77,225.4 505.24,225.47 505.71,225.66 506.19,225.39 506.66,225.51 507.13,225.67 507.6,225.61" fill="none" stroke="#a8192f" stroke-width="1.15" stroke-linejoin="round"/>
<rect x="456.5" y="179.5" width="51" height="46" fill="none" stroke="#231f20" stroke-width="1"/>
<line x1="456.5" y1="179.2" x2="456.5" y2="226.3" stroke="#231f20" stroke-width="1.4"/>
<line x1="455.6" y1="225.5" x2="508.1" y2="225.5" stroke="#231f20" stroke-width="1.4"/>
<line x1="453.2" y1="179.7" x2="456.2" y2="179.7" stroke="#231f20" stroke-width="0.8"/>
<line x1="453.2" y1="225.7" x2="456.2" y2="225.7" stroke="#231f20" stroke-width="0.8"/>
<line x1="454" y1="214.2" x2="456.2" y2="214.2" stroke="#231f20" stroke-width="0.8"/>
<line x1="454" y1="202.7" x2="456.2" y2="202.7" stroke="#231f20" stroke-width="0.8"/>
<line x1="454" y1="191.2" x2="456.2" y2="191.2" stroke="#231f20" stroke-width="0.8"/>
<text x="452" y="181.7" font-size="5.6" text-anchor="end" textLength="8.6" lengthAdjust="spacingAndGlyphs">100</text>
<text x="452" y="227.7" font-size="5.6" text-anchor="end">0</text>
<line x1="456.2" y1="225.7" x2="456.2" y2="227.7" stroke="#231f20" stroke-width="0.8"/>
<text class="t" x="455.6" y="237.4" font-size="5.6" text-anchor="middle" letter-spacing="-0.15">10<tspan dy="-2.52" font-size="3.81">0</tspan></text>
<line x1="469.05" y1="225.7" x2="469.05" y2="227.7" stroke="#231f20" stroke-width="0.8"/>
<text class="t" x="468.45" y="237.4" font-size="5.6" text-anchor="middle" letter-spacing="-0.15">10<tspan dy="-2.52" font-size="3.81">1</tspan></text>
<line x1="481.9" y1="225.7" x2="481.9" y2="227.7" stroke="#231f20" stroke-width="0.8"/>
<text class="t" x="481.3" y="237.4" font-size="5.6" text-anchor="middle" letter-spacing="-0.15">10<tspan dy="-2.52" font-size="3.81">2</tspan></text>
<line x1="494.75" y1="225.7" x2="494.75" y2="227.7" stroke="#231f20" stroke-width="0.8"/>
<text class="t" x="494.15" y="237.4" font-size="5.6" text-anchor="middle" letter-spacing="-0.15">10<tspan dy="-2.52" font-size="3.81">3</tspan></text>
<line x1="507.6" y1="225.7" x2="507.6" y2="227.7" stroke="#231f20" stroke-width="0.8"/>
<text class="t" x="507" y="237.4" font-size="5.6" text-anchor="middle" letter-spacing="-0.15">10<tspan dy="-2.52" font-size="3.81">4</tspan></text>
<text x="482.4" y="175" font-size="6.3" text-anchor="middle" textLength="20.8" lengthAdjust="spacingAndGlyphs">24 hour</text>
<text x="481.9" y="247" font-size="7.5" text-anchor="middle" textLength="33.8" lengthAdjust="spacingAndGlyphs">C3b/iC3b</text>
<text x="438.8" y="202.7" font-size="8.6" text-anchor="middle" transform="rotate(-90 438.8 202.7)" textLength="25.4" lengthAdjust="spacingAndGlyphs">Counts</text>
<rect x="36.6" y="329.69" width="9" height="3.51" fill="#bcdca6" stroke="#b0d498" stroke-width="0.6"/>
<rect x="52.1" y="286.1" width="9" height="47.1" fill="#8088ae" stroke="#6e76a4" stroke-width="0.6"/>
<rect x="67.6" y="277.79" width="9" height="55.41" fill="#c2877a" stroke="#b57a6e" stroke-width="0.6"/>
<line x1="56.6" y1="279.22" x2="56.6" y2="291.68" stroke="#1b2d6e" stroke-width="0.8"/>
<line x1="55.1" y1="279.22" x2="58.1" y2="279.22" stroke="#1b2d6e" stroke-width="0.8"/>
<line x1="55.1" y1="291.68" x2="58.1" y2="291.68" stroke="#1b2d6e" stroke-width="0.8"/>
<circle cx="38.3" cy="328.22" r="1.85" fill="#4f9e38"/>
<circle cx="40.1" cy="327.53" r="1.85" fill="#4f9e38"/>
<circle cx="42.1" cy="328.49" r="1.85" fill="#4f9e38"/>
<circle cx="43.9" cy="327.94" r="1.85" fill="#4f9e38"/>
<circle cx="41.1" cy="329.05" r="1.85" fill="#4f9e38"/>
<circle cx="56.6" cy="278.53" r="1.85" fill="#1b2d6e"/>
<circle cx="53.8" cy="285.45" r="1.85" fill="#1b2d6e"/>
<circle cx="60.2" cy="286.14" r="1.85" fill="#1b2d6e"/>
<circle cx="54.2" cy="290.99" r="1.85" fill="#1b2d6e"/>
<circle cx="57.8" cy="287.53" r="1.85" fill="#1b2d6e"/>
<circle cx="69.3" cy="275.07" r="1.85" fill="#9d1029"/>
<circle cx="74.3" cy="275.07" r="1.85" fill="#9d1029"/>
<circle cx="72.1" cy="276.46" r="1.85" fill="#9d1029"/>
<circle cx="69.6" cy="281.99" r="1.85" fill="#9d1029"/>
<circle cx="73.5" cy="280.61" r="1.85" fill="#9d1029"/>
<line x1="33.5" y1="261.5" x2="33.5" y2="333.8" stroke="#231f20" stroke-width="1.3"/>
<line x1="32.6" y1="333.5" x2="80.7" y2="333.5" stroke="#231f20" stroke-width="1.3"/>
<line x1="30.9" y1="333.2" x2="33.2" y2="333.2" stroke="#231f20" stroke-width="0.8"/>
<text x="29" y="335.2" font-size="5.8" text-anchor="end" class="t">0</text>
<line x1="30.9" y1="315.9" x2="33.2" y2="315.9" stroke="#231f20" stroke-width="0.8"/>
<text x="29" y="317.9" font-size="5.8" text-anchor="end" class="t">25</text>
<line x1="30.9" y1="298.6" x2="33.2" y2="298.6" stroke="#231f20" stroke-width="0.8"/>
<text x="29" y="300.6" font-size="5.8" text-anchor="end" class="t">50</text>
<line x1="30.9" y1="281.3" x2="33.2" y2="281.3" stroke="#231f20" stroke-width="0.8"/>
<text x="29" y="283.3" font-size="5.8" text-anchor="end" class="t">75</text>
<line x1="30.9" y1="264" x2="33.2" y2="264" stroke="#231f20" stroke-width="0.8"/>
<text x="29" y="266" font-size="5.8" text-anchor="end" class="t">100</text>
<line x1="41.1" y1="333.2" x2="41.1" y2="335.4" stroke="#231f20" stroke-width="0.8"/>
<line x1="56.6" y1="333.2" x2="56.6" y2="335.4" stroke="#231f20" stroke-width="0.8"/>
<line x1="72.1" y1="333.2" x2="72.1" y2="335.4" stroke="#231f20" stroke-width="0.8"/>
<text x="42.7" y="340.2" font-size="5.9" text-anchor="end" transform="rotate(-45 42.7 340.2)" class="u">PBS</text>
<text x="58.2" y="340.2" font-size="5.9" text-anchor="end" transform="rotate(-45 58.2 340.2)" class="u">Anti-KEL</text>
<text x="73.7" y="340.2" font-size="5.9" text-anchor="end" transform="rotate(-45 73.7 340.2)" class="u">Anti-HEL</text>
<text x="15.4" y="298.6" font-size="8.4" text-anchor="middle" transform="rotate(-90 15.4 298.6)" textLength="32.7" lengthAdjust="spacingAndGlyphs">IgG (MFI)</text>
<path d="M41.5 267.1V260.7H72.6V267.1" fill="none" stroke="#3a3a3a" stroke-width="0.9"/>
<circle cx="54.18" cy="258.1" r="0.8" fill="#333"/>
<circle cx="56.13" cy="258.1" r="0.8" fill="#333"/>
<circle cx="58.08" cy="258.1" r="0.8" fill="#333"/>
<circle cx="60.03" cy="258.1" r="0.8" fill="#333"/>
<path d="M44.3 269.7V267.4H55.3V269.7" fill="none" stroke="#3a3a3a" stroke-width="0.9"/>
<path d="M58.2 269.7V267.4H69.8V269.7" fill="none" stroke="#3a3a3a" stroke-width="0.9"/>
<circle cx="46.98" cy="264.4" r="0.8" fill="#333"/>
<circle cx="48.93" cy="264.4" r="0.8" fill="#333"/>
<circle cx="50.88" cy="264.4" r="0.8" fill="#333"/>
<circle cx="52.83" cy="264.4" r="0.8" fill="#333"/>
<circle cx="62.93" cy="264.4" r="0.8" fill="#333"/>
<circle cx="64.88" cy="264.4" r="0.8" fill="#333"/>
<rect x="120.9" y="329.69" width="9" height="3.51" fill="#bcdca6" stroke="#b0d498" stroke-width="0.6"/>
<rect x="136.4" y="291.29" width="9" height="41.91" fill="#8088ae" stroke="#6e76a4" stroke-width="0.6"/>
<rect x="151.9" y="281.25" width="9" height="51.95" fill="#c2877a" stroke="#b57a6e" stroke-width="0.6"/>
<line x1="140.9" y1="284.76" x2="140.9" y2="295.83" stroke="#1b2d6e" stroke-width="0.8"/>
<line x1="139.4" y1="284.76" x2="142.4" y2="284.76" stroke="#1b2d6e" stroke-width="0.8"/>
<line x1="139.4" y1="295.83" x2="142.4" y2="295.83" stroke="#1b2d6e" stroke-width="0.8"/>
<circle cx="122.6" cy="328.22" r="1.85" fill="#4f9e38"/>
<circle cx="124.4" cy="327.53" r="1.85" fill="#4f9e38"/>
<circle cx="126.4" cy="328.49" r="1.85" fill="#4f9e38"/>
<circle cx="128.2" cy="327.94" r="1.85" fill="#4f9e38"/>
<circle cx="125.4" cy="329.05" r="1.85" fill="#4f9e38"/>
<circle cx="140.9" cy="284.07" r="1.85" fill="#1b2d6e"/>
<circle cx="138.1" cy="289.6" r="1.85" fill="#1b2d6e"/>
<circle cx="144.5" cy="290.3" r="1.85" fill="#1b2d6e"/>
<circle cx="138.5" cy="295.14" r="1.85" fill="#1b2d6e"/>
<circle cx="142.1" cy="294.45" r="1.85" fill="#1b2d6e"/>
<circle cx="153.9" cy="278.53" r="1.85" fill="#9d1029"/>
<circle cx="158.6" cy="277.84" r="1.85" fill="#9d1029"/>
<circle cx="156.4" cy="275.76" r="1.85" fill="#9d1029"/>
<circle cx="154.6" cy="283.38" r="1.85" fill="#9d1029"/>
<circle cx="157.8" cy="281.99" r="1.85" fill="#9d1029"/>
<line x1="117.5" y1="261.5" x2="117.5" y2="333.8" stroke="#231f20" stroke-width="1.3"/>
<line x1="116.9" y1="333.5" x2="165" y2="333.5" stroke="#231f20" stroke-width="1.3"/>
<line x1="115.2" y1="333.2" x2="117.5" y2="333.2" stroke="#231f20" stroke-width="0.8"/>
<text x="113.3" y="335.2" font-size="5.8" text-anchor="end" class="t">0</text>
<line x1="115.2" y1="315.9" x2="117.5" y2="315.9" stroke="#231f20" stroke-width="0.8"/>
<text x="113.3" y="317.9" font-size="5.8" text-anchor="end" class="t">25</text>
<line x1="115.2" y1="298.6" x2="117.5" y2="298.6" stroke="#231f20" stroke-width="0.8"/>
<text x="113.3" y="300.6" font-size="5.8" text-anchor="end" class="t">50</text>
<line x1="115.2" y1="281.3" x2="117.5" y2="281.3" stroke="#231f20" stroke-width="0.8"/>
<text x="113.3" y="283.3" font-size="5.8" text-anchor="end" class="t">75</text>
<line x1="115.2" y1="264" x2="117.5" y2="264" stroke="#231f20" stroke-width="0.8"/>
<text x="113.3" y="266" font-size="5.8" text-anchor="end" class="t">100</text>
<line x1="125.4" y1="333.2" x2="125.4" y2="335.4" stroke="#231f20" stroke-width="0.8"/>
<line x1="140.9" y1="333.2" x2="140.9" y2="335.4" stroke="#231f20" stroke-width="0.8"/>
<line x1="156.4" y1="333.2" x2="156.4" y2="335.4" stroke="#231f20" stroke-width="0.8"/>
<text x="127" y="340.2" font-size="5.9" text-anchor="end" transform="rotate(-45 127 340.2)" class="u">PBS</text>
<text x="142.5" y="340.2" font-size="5.9" text-anchor="end" transform="rotate(-45 142.5 340.2)" class="u">Anti-KEL</text>
<text x="158" y="340.2" font-size="5.9" text-anchor="end" transform="rotate(-45 158 340.2)" class="u">Anti-HEL</text>
<text x="99.7" y="298.6" font-size="8.4" text-anchor="middle" transform="rotate(-90 99.7 298.6)" textLength="32.7" lengthAdjust="spacingAndGlyphs">IgG (MFI)</text>
<path d="M125.8 267.1V260.7H156.9V267.1" fill="none" stroke="#3a3a3a" stroke-width="0.9"/>
<circle cx="138.47" cy="258.1" r="0.8" fill="#333"/>
<circle cx="140.42" cy="258.1" r="0.8" fill="#333"/>
<circle cx="142.38" cy="258.1" r="0.8" fill="#333"/>
<circle cx="144.32" cy="258.1" r="0.8" fill="#333"/>
<path d="M128.6 269.7V267.4H139.6V269.7" fill="none" stroke="#3a3a3a" stroke-width="0.9"/>
<path d="M142.5 269.7V267.4H154.1V269.7" fill="none" stroke="#3a3a3a" stroke-width="0.9"/>
<circle cx="131.27" cy="264.4" r="0.8" fill="#333"/>
<circle cx="133.22" cy="264.4" r="0.8" fill="#333"/>
<circle cx="135.17" cy="264.4" r="0.8" fill="#333"/>
<circle cx="137.12" cy="264.4" r="0.8" fill="#333"/>
<circle cx="146.25" cy="264.4" r="0.8" fill="#333"/>
<circle cx="148.2" cy="264.4" r="0.8" fill="#333"/>
<circle cx="150.15" cy="264.4" r="0.8" fill="#333"/>
<rect x="206.6" y="329" width="9" height="4.2" fill="#bcdca6" stroke="#b0d498" stroke-width="0.6"/>
<rect x="222.1" y="302.01" width="9" height="31.19" fill="#8088ae" stroke="#6e76a4" stroke-width="0.6"/>
<rect x="237.6" y="298.55" width="9" height="34.65" fill="#c2877a" stroke="#b57a6e" stroke-width="0.6"/>
<line x1="226.6" y1="295.83" x2="226.6" y2="306.9" stroke="#1b2d6e" stroke-width="0.8"/>
<line x1="225.1" y1="295.83" x2="228.1" y2="295.83" stroke="#1b2d6e" stroke-width="0.8"/>
<line x1="225.1" y1="306.9" x2="228.1" y2="306.9" stroke="#1b2d6e" stroke-width="0.8"/>
<circle cx="208.3" cy="327.8" r="1.85" fill="#4f9e38"/>
<circle cx="210.1" cy="327.25" r="1.85" fill="#4f9e38"/>
<circle cx="212.1" cy="328.08" r="1.85" fill="#4f9e38"/>
<circle cx="213.9" cy="327.66" r="1.85" fill="#4f9e38"/>
<circle cx="211.1" cy="328.7" r="1.85" fill="#4f9e38"/>
<circle cx="226.6" cy="294.1" r="1.85" fill="#1b2d6e"/>
<circle cx="223.8" cy="297.56" r="1.85" fill="#1b2d6e"/>
<circle cx="230.2" cy="302.06" r="1.85" fill="#1b2d6e"/>
<circle cx="224.2" cy="306.21" r="1.85" fill="#1b2d6e"/>
<circle cx="227.8" cy="307.6" r="1.85" fill="#1b2d6e"/>
<circle cx="239.6" cy="295.83" r="1.85" fill="#9d1029"/>
<circle cx="244.3" cy="297.22" r="1.85" fill="#9d1029"/>
<circle cx="242.1" cy="298.25" r="1.85" fill="#9d1029"/>
<circle cx="241.1" cy="297.56" r="1.85" fill="#9d1029"/>
<circle cx="243.5" cy="298.6" r="1.85" fill="#9d1029"/>
<line x1="203.5" y1="261.5" x2="203.5" y2="333.8" stroke="#231f20" stroke-width="1.3"/>
<line x1="202.6" y1="333.5" x2="250.7" y2="333.5" stroke="#231f20" stroke-width="1.3"/>
<line x1="200.9" y1="333.2" x2="203.2" y2="333.2" stroke="#231f20" stroke-width="0.8"/>
<text x="199" y="335.2" font-size="5.8" text-anchor="end" class="t">0</text>
<line x1="200.9" y1="315.9" x2="203.2" y2="315.9" stroke="#231f20" stroke-width="0.8"/>
<text x="199" y="317.9" font-size="5.8" text-anchor="end" class="t">25</text>
<line x1="200.9" y1="298.6" x2="203.2" y2="298.6" stroke="#231f20" stroke-width="0.8"/>
<text x="199" y="300.6" font-size="5.8" text-anchor="end" class="t">50</text>
<line x1="200.9" y1="281.3" x2="203.2" y2="281.3" stroke="#231f20" stroke-width="0.8"/>
<text x="199" y="283.3" font-size="5.8" text-anchor="end" class="t">75</text>
<line x1="200.9" y1="264" x2="203.2" y2="264" stroke="#231f20" stroke-width="0.8"/>
<text x="199" y="266" font-size="5.8" text-anchor="end" class="t">100</text>
<line x1="211.1" y1="333.2" x2="211.1" y2="335.4" stroke="#231f20" stroke-width="0.8"/>
<line x1="226.6" y1="333.2" x2="226.6" y2="335.4" stroke="#231f20" stroke-width="0.8"/>
<line x1="242.1" y1="333.2" x2="242.1" y2="335.4" stroke="#231f20" stroke-width="0.8"/>
<text x="212.7" y="340.2" font-size="5.9" text-anchor="end" transform="rotate(-45 212.7 340.2)" class="u">PBS</text>
<text x="228.2" y="340.2" font-size="5.9" text-anchor="end" transform="rotate(-45 228.2 340.2)" class="u">Anti-KEL</text>
<text x="243.7" y="340.2" font-size="5.9" text-anchor="end" transform="rotate(-45 243.7 340.2)" class="u">Anti-HEL</text>
<text x="185.4" y="298.6" font-size="8.4" text-anchor="middle" transform="rotate(-90 185.4 298.6)" textLength="32.7" lengthAdjust="spacingAndGlyphs">IgG (MFI)</text>
<path d="M211.5 267.1V260.7H242.6V267.1" fill="none" stroke="#3a3a3a" stroke-width="0.9"/>
<circle cx="224.17" cy="258.1" r="0.8" fill="#333"/>
<circle cx="226.12" cy="258.1" r="0.8" fill="#333"/>
<circle cx="228.07" cy="258.1" r="0.8" fill="#333"/>
<circle cx="230.02" cy="258.1" r="0.8" fill="#333"/>
<path d="M214.3 269.7V267.4H225.3V269.7" fill="none" stroke="#3a3a3a" stroke-width="0.9"/>
<path d="M228.2 269.7V267.4H239.8V269.7" fill="none" stroke="#3a3a3a" stroke-width="0.9"/>
<circle cx="216.97" cy="264.4" r="0.8" fill="#333"/>
<circle cx="218.92" cy="264.4" r="0.8" fill="#333"/>
<circle cx="220.87" cy="264.4" r="0.8" fill="#333"/>
<circle cx="222.82" cy="264.4" r="0.8" fill="#333"/>
<text x="233.9" y="265.4" font-size="4.6" text-anchor="middle" fill="#3a3a3a">ns</text>
<rect x="52.1" y="527.26" width="9" height="17.94" fill="#8088ae" stroke="#6e76a4" stroke-width="0.6"/>
<circle cx="38.6" cy="544.29" r="1.85" fill="#4f9e38"/>
<circle cx="40.3" cy="544.74" r="1.85" fill="#4f9e38"/>
<circle cx="41.9" cy="544.52" r="1.85" fill="#4f9e38"/>
<circle cx="43.6" cy="544.06" r="1.85" fill="#4f9e38"/>
<circle cx="41.1" cy="544.97" r="1.85" fill="#4f9e38"/>
<circle cx="56.6" cy="523.54" r="1.85" fill="#1b2d6e"/>
<circle cx="54.1" cy="525.82" r="1.85" fill="#1b2d6e"/>
<circle cx="59.1" cy="525.25" r="1.85" fill="#1b2d6e"/>
<circle cx="55.1" cy="528.1" r="1.85" fill="#1b2d6e"/>
<circle cx="58.1" cy="528.67" r="1.85" fill="#1b2d6e"/>
<circle cx="69.6" cy="544.29" r="1.85" fill="#9d1029"/>
<circle cx="71.3" cy="544.74" r="1.85" fill="#9d1029"/>
<circle cx="72.9" cy="544.52" r="1.85" fill="#9d1029"/>
<circle cx="74.6" cy="544.06" r="1.85" fill="#9d1029"/>
<circle cx="72.1" cy="544.97" r="1.85" fill="#9d1029"/>
<line x1="33.5" y1="474.3" x2="33.5" y2="545.8" stroke="#231f20" stroke-width="1.3"/>
<line x1="32.6" y1="545.5" x2="80.7" y2="545.5" stroke="#231f20" stroke-width="1.3"/>
<line x1="30.9" y1="545.2" x2="33.2" y2="545.2" stroke="#231f20" stroke-width="0.8"/>
<text x="29" y="547.2" font-size="5.8" text-anchor="end" class="t">0</text>
<line x1="30.9" y1="522.4" x2="33.2" y2="522.4" stroke="#231f20" stroke-width="0.8"/>
<text x="29" y="524.4" font-size="5.8" text-anchor="end" class="t">20</text>
<line x1="30.9" y1="499.6" x2="33.2" y2="499.6" stroke="#231f20" stroke-width="0.8"/>
<text x="29" y="501.6" font-size="5.8" text-anchor="end" class="t">40</text>
<line x1="30.9" y1="476.8" x2="33.2" y2="476.8" stroke="#231f20" stroke-width="0.8"/>
<text x="29" y="478.8" font-size="5.8" text-anchor="end" class="t">60</text>
<line x1="41.1" y1="545.2" x2="41.1" y2="547.4" stroke="#231f20" stroke-width="0.8"/>
<line x1="56.6" y1="545.2" x2="56.6" y2="547.4" stroke="#231f20" stroke-width="0.8"/>
<line x1="72.1" y1="545.2" x2="72.1" y2="547.4" stroke="#231f20" stroke-width="0.8"/>
<text x="42.7" y="552.2" font-size="5.9" text-anchor="end" transform="rotate(-45 42.7 552.2)" class="u">PBS</text>
<text x="58.2" y="552.2" font-size="5.9" text-anchor="end" transform="rotate(-45 58.2 552.2)" class="u">Anti-KEL</text>
<text x="73.7" y="552.2" font-size="5.9" text-anchor="end" transform="rotate(-45 73.7 552.2)" class="u">Anti-HEL</text>
<text x="15.8" y="511" font-size="8.4" text-anchor="middle" transform="rotate(-90 15.8 511)" textLength="29.3" lengthAdjust="spacingAndGlyphs">C3 (MFI)</text>
<path d="M41.5 478.9V473.2H71.3V478.9" fill="none" stroke="#3a3a3a" stroke-width="0.9"/>
<text x="56.6" y="470.8" font-size="4.6" text-anchor="middle" fill="#3a3a3a">ns</text>
<circle cx="46.28" cy="475.8" r="0.8" fill="#333"/>
<circle cx="48.23" cy="475.8" r="0.8" fill="#333"/>
<circle cx="50.18" cy="475.8" r="0.8" fill="#333"/>
<circle cx="52.13" cy="475.8" r="0.8" fill="#333"/>
<circle cx="59.88" cy="475.8" r="0.8" fill="#333"/>
<circle cx="61.83" cy="475.8" r="0.8" fill="#333"/>
<circle cx="63.78" cy="475.8" r="0.8" fill="#333"/>
<circle cx="65.73" cy="475.8" r="0.8" fill="#333"/>
<path d="M43.2 481.2V479.7H69.6V481.2" fill="none" stroke="#3a3a3a" stroke-width="0.9"/>
<line x1="55.5" y1="479.7" x2="55.5" y2="481.2" stroke="#3a3a3a" stroke-width="0.9"/>
<rect x="136.2" y="522.13" width="9" height="23.07" fill="#8088ae" stroke="#6e76a4" stroke-width="0.6"/>
<line x1="140.7" y1="517.84" x2="140.7" y2="525.82" stroke="#1b2d6e" stroke-width="0.8"/>
<line x1="139.2" y1="517.84" x2="142.2" y2="517.84" stroke="#1b2d6e" stroke-width="0.8"/>
<line x1="139.2" y1="525.82" x2="142.2" y2="525.82" stroke="#1b2d6e" stroke-width="0.8"/>
<circle cx="122.7" cy="544.29" r="1.85" fill="#4f9e38"/>
<circle cx="124.4" cy="544.74" r="1.85" fill="#4f9e38"/>
<circle cx="126" cy="544.52" r="1.85" fill="#4f9e38"/>
<circle cx="127.7" cy="544.06" r="1.85" fill="#4f9e38"/>
<circle cx="125.2" cy="544.97" r="1.85" fill="#4f9e38"/>
<circle cx="136.5" cy="516.7" r="1.85" fill="#1b2d6e"/>
<circle cx="139.2" cy="518.98" r="1.85" fill="#1b2d6e"/>
<circle cx="143.2" cy="519.55" r="1.85" fill="#1b2d6e"/>
<circle cx="140.7" cy="524.68" r="1.85" fill="#1b2d6e"/>
<circle cx="142.2" cy="525.82" r="1.85" fill="#1b2d6e"/>
<circle cx="153.7" cy="544.29" r="1.85" fill="#9d1029"/>
<circle cx="155.4" cy="544.74" r="1.85" fill="#9d1029"/>
<circle cx="157" cy="544.52" r="1.85" fill="#9d1029"/>
<circle cx="158.7" cy="544.06" r="1.85" fill="#9d1029"/>
<circle cx="156.2" cy="544.97" r="1.85" fill="#9d1029"/>
<line x1="117.5" y1="474.3" x2="117.5" y2="545.8" stroke="#231f20" stroke-width="1.3"/>
<line x1="116.7" y1="545.5" x2="164.8" y2="545.5" stroke="#231f20" stroke-width="1.3"/>
<line x1="115" y1="545.2" x2="117.3" y2="545.2" stroke="#231f20" stroke-width="0.8"/>
<text x="113.1" y="547.2" font-size="5.8" text-anchor="end" class="t">0</text>
<line x1="115" y1="522.4" x2="117.3" y2="522.4" stroke="#231f20" stroke-width="0.8"/>
<text x="113.1" y="524.4" font-size="5.8" text-anchor="end" class="t">20</text>
<line x1="115" y1="499.6" x2="117.3" y2="499.6" stroke="#231f20" stroke-width="0.8"/>
<text x="113.1" y="501.6" font-size="5.8" text-anchor="end" class="t">40</text>
<line x1="115" y1="476.8" x2="117.3" y2="476.8" stroke="#231f20" stroke-width="0.8"/>
<text x="113.1" y="478.8" font-size="5.8" text-anchor="end" class="t">60</text>
<line x1="125.2" y1="545.2" x2="125.2" y2="547.4" stroke="#231f20" stroke-width="0.8"/>
<line x1="140.7" y1="545.2" x2="140.7" y2="547.4" stroke="#231f20" stroke-width="0.8"/>
<line x1="156.2" y1="545.2" x2="156.2" y2="547.4" stroke="#231f20" stroke-width="0.8"/>
<text x="126.8" y="552.2" font-size="5.9" text-anchor="end" transform="rotate(-45 126.8 552.2)" class="u">PBS</text>
<text x="142.3" y="552.2" font-size="5.9" text-anchor="end" transform="rotate(-45 142.3 552.2)" class="u">Anti-KEL</text>
<text x="157.8" y="552.2" font-size="5.9" text-anchor="end" transform="rotate(-45 157.8 552.2)" class="u">Anti-HEL</text>
<text x="99.9" y="511" font-size="8.4" text-anchor="middle" transform="rotate(-90 99.9 511)" textLength="29.3" lengthAdjust="spacingAndGlyphs">C3 (MFI)</text>
<path d="M125.6 478.9V473.2H155.4V478.9" fill="none" stroke="#3a3a3a" stroke-width="0.9"/>
<text x="140.7" y="470.8" font-size="4.6" text-anchor="middle" fill="#3a3a3a">ns</text>
<circle cx="130.38" cy="475.8" r="0.8" fill="#333"/>
<circle cx="132.32" cy="475.8" r="0.8" fill="#333"/>
<circle cx="134.28" cy="475.8" r="0.8" fill="#333"/>
<circle cx="136.22" cy="475.8" r="0.8" fill="#333"/>
<circle cx="143.97" cy="475.8" r="0.8" fill="#333"/>
<circle cx="145.92" cy="475.8" r="0.8" fill="#333"/>
<circle cx="147.88" cy="475.8" r="0.8" fill="#333"/>
<circle cx="149.82" cy="475.8" r="0.8" fill="#333"/>
<path d="M127.3 481.2V479.7H153.7V481.2" fill="none" stroke="#3a3a3a" stroke-width="0.9"/>
<line x1="139.5" y1="479.7" x2="139.5" y2="481.2" stroke="#3a3a3a" stroke-width="0.9"/>
<rect x="222.1" y="497.05" width="9" height="48.15" fill="#8088ae" stroke="#6e76a4" stroke-width="0.6"/>
<line x1="226.6" y1="485.92" x2="226.6" y2="507.58" stroke="#1b2d6e" stroke-width="0.8"/>
<line x1="225.1" y1="485.92" x2="228.1" y2="485.92" stroke="#1b2d6e" stroke-width="0.8"/>
<line x1="225.1" y1="507.58" x2="228.1" y2="507.58" stroke="#1b2d6e" stroke-width="0.8"/>
<circle cx="208.6" cy="544.29" r="1.85" fill="#4f9e38"/>
<circle cx="210.3" cy="544.74" r="1.85" fill="#4f9e38"/>
<circle cx="211.9" cy="544.52" r="1.85" fill="#4f9e38"/>
<circle cx="213.6" cy="544.06" r="1.85" fill="#4f9e38"/>
<circle cx="211.1" cy="544.97" r="1.85" fill="#4f9e38"/>
<circle cx="223.8" cy="485.92" r="1.85" fill="#1b2d6e"/>
<circle cx="229" cy="484.78" r="1.85" fill="#1b2d6e"/>
<circle cx="226.6" cy="501.31" r="1.85" fill="#1b2d6e"/>
<circle cx="229.2" cy="502.45" r="1.85" fill="#1b2d6e"/>
<circle cx="224.1" cy="507.58" r="1.85" fill="#1b2d6e"/>
<circle cx="239.6" cy="544.29" r="1.85" fill="#9d1029"/>
<circle cx="241.3" cy="544.74" r="1.85" fill="#9d1029"/>
<circle cx="242.9" cy="544.52" r="1.85" fill="#9d1029"/>
<circle cx="244.6" cy="544.06" r="1.85" fill="#9d1029"/>
<circle cx="242.1" cy="544.97" r="1.85" fill="#9d1029"/>
<line x1="203.5" y1="474.3" x2="203.5" y2="545.8" stroke="#231f20" stroke-width="1.3"/>
<line x1="202.6" y1="545.5" x2="250.7" y2="545.5" stroke="#231f20" stroke-width="1.3"/>
<line x1="200.9" y1="545.2" x2="203.2" y2="545.2" stroke="#231f20" stroke-width="0.8"/>
<text x="199" y="547.2" font-size="5.8" text-anchor="end" class="t">0</text>
<line x1="200.9" y1="522.4" x2="203.2" y2="522.4" stroke="#231f20" stroke-width="0.8"/>
<text x="199" y="524.4" font-size="5.8" text-anchor="end" class="t">20</text>
<line x1="200.9" y1="499.6" x2="203.2" y2="499.6" stroke="#231f20" stroke-width="0.8"/>
<text x="199" y="501.6" font-size="5.8" text-anchor="end" class="t">40</text>
<line x1="200.9" y1="476.8" x2="203.2" y2="476.8" stroke="#231f20" stroke-width="0.8"/>
<text x="199" y="478.8" font-size="5.8" text-anchor="end" class="t">60</text>
<line x1="211.1" y1="545.2" x2="211.1" y2="547.4" stroke="#231f20" stroke-width="0.8"/>
<line x1="226.6" y1="545.2" x2="226.6" y2="547.4" stroke="#231f20" stroke-width="0.8"/>
<line x1="242.1" y1="545.2" x2="242.1" y2="547.4" stroke="#231f20" stroke-width="0.8"/>
<text x="212.7" y="552.2" font-size="5.9" text-anchor="end" transform="rotate(-45 212.7 552.2)" class="u">PBS</text>
<text x="228.2" y="552.2" font-size="5.9" text-anchor="end" transform="rotate(-45 228.2 552.2)" class="u">Anti-KEL</text>
<text x="243.7" y="552.2" font-size="5.9" text-anchor="end" transform="rotate(-45 243.7 552.2)" class="u">Anti-HEL</text>
<text x="185.8" y="511" font-size="8.4" text-anchor="middle" transform="rotate(-90 185.8 511)" textLength="29.3" lengthAdjust="spacingAndGlyphs">C3 (MFI)</text>
<path d="M211.5 478.9V473.2H241.3V478.9" fill="none" stroke="#3a3a3a" stroke-width="0.9"/>
<text x="226.6" y="470.8" font-size="4.6" text-anchor="middle" fill="#3a3a3a">ns</text>
<circle cx="216.27" cy="475.8" r="0.8" fill="#333"/>
<circle cx="218.22" cy="475.8" r="0.8" fill="#333"/>
<circle cx="220.17" cy="475.8" r="0.8" fill="#333"/>
<circle cx="222.12" cy="475.8" r="0.8" fill="#333"/>
<circle cx="229.87" cy="475.8" r="0.8" fill="#333"/>
<circle cx="231.82" cy="475.8" r="0.8" fill="#333"/>
<circle cx="233.77" cy="475.8" r="0.8" fill="#333"/>
<circle cx="235.72" cy="475.8" r="0.8" fill="#333"/>
<path d="M213.2 481.2V479.7H239.6V481.2" fill="none" stroke="#3a3a3a" stroke-width="0.9"/>
<line x1="225.5" y1="479.7" x2="225.5" y2="481.2" stroke="#3a3a3a" stroke-width="0.9"/>
<rect x="294.5" y="330.34" width="9" height="2.66" fill="#bcdca6" stroke="#b0d498" stroke-width="0.6"/>
<rect x="310" y="284.29" width="9" height="48.71" fill="#8088ae" stroke="#6e76a4" stroke-width="0.6"/>
<rect x="325.5" y="331.61" width="9" height="1.39" fill="#c2877a" stroke="#b57a6e" stroke-width="0.6"/>
<line x1="314.5" y1="280.61" x2="314.5" y2="288.21" stroke="#1b2d6e" stroke-width="0.8"/>
<line x1="313" y1="280.61" x2="316" y2="280.61" stroke="#1b2d6e" stroke-width="0.8"/>
<line x1="313" y1="288.21" x2="316" y2="288.21" stroke="#1b2d6e" stroke-width="0.8"/>
<circle cx="298.5" cy="324.97" r="1.85" fill="#4f9e38"/>
<circle cx="296.5" cy="327.93" r="1.85" fill="#4f9e38"/>
<circle cx="301.5" cy="328.77" r="1.85" fill="#4f9e38"/>
<circle cx="299" cy="330.89" r="1.85" fill="#4f9e38"/>
<circle cx="300.5" cy="331.73" r="1.85" fill="#4f9e38"/>
<circle cx="317.1" cy="280.19" r="1.85" fill="#1b2d6e"/>
<circle cx="312.1" cy="282.3" r="1.85" fill="#1b2d6e"/>
<circle cx="314.5" cy="283.57" r="1.85" fill="#1b2d6e"/>
<circle cx="316.7" cy="285.68" r="1.85" fill="#1b2d6e"/>
<circle cx="313.3" cy="288.21" r="1.85" fill="#1b2d6e"/>
<circle cx="327.8" cy="328.35" r="1.85" fill="#9d1029"/>
<circle cx="331.8" cy="329.2" r="1.85" fill="#9d1029"/>
<circle cx="330" cy="331.73" r="1.85" fill="#9d1029"/>
<circle cx="331" cy="330.89" r="1.85" fill="#9d1029"/>
<circle cx="329" cy="330.46" r="1.85" fill="#9d1029"/>
<line x1="291.5" y1="262.9" x2="291.5" y2="333.6" stroke="#231f20" stroke-width="1.3"/>
<line x1="290.5" y1="333.5" x2="336.5" y2="333.5" stroke="#231f20" stroke-width="1.3"/>
<line x1="288.8" y1="333" x2="291.1" y2="333" stroke="#231f20" stroke-width="0.8"/>
<text x="286.9" y="335" font-size="5.8" text-anchor="end" class="t">0</text>
<line x1="288.8" y1="316.1" x2="291.1" y2="316.1" stroke="#231f20" stroke-width="0.8"/>
<text x="286.9" y="318.1" font-size="5.8" text-anchor="end" class="t">2</text>
<line x1="288.8" y1="299.2" x2="291.1" y2="299.2" stroke="#231f20" stroke-width="0.8"/>
<text x="286.9" y="301.2" font-size="5.8" text-anchor="end" class="t">4</text>
<line x1="288.8" y1="282.3" x2="291.1" y2="282.3" stroke="#231f20" stroke-width="0.8"/>
<text x="286.9" y="284.3" font-size="5.8" text-anchor="end" class="t">6</text>
<line x1="288.8" y1="265.4" x2="291.1" y2="265.4" stroke="#231f20" stroke-width="0.8"/>
<text x="286.9" y="267.4" font-size="5.8" text-anchor="end" class="t">8</text>
<line x1="299" y1="333" x2="299" y2="335.2" stroke="#231f20" stroke-width="0.8"/>
<line x1="314.5" y1="333" x2="314.5" y2="335.2" stroke="#231f20" stroke-width="0.8"/>
<line x1="330" y1="333" x2="330" y2="335.2" stroke="#231f20" stroke-width="0.8"/>
<text x="300.6" y="340" font-size="5.9" text-anchor="end" transform="rotate(-45 300.6 340)" class="u">PBS</text>
<text x="316.1" y="340" font-size="5.9" text-anchor="end" transform="rotate(-45 316.1 340)" class="u">Anti-KEL</text>
<text x="331.6" y="340" font-size="5.9" text-anchor="end" transform="rotate(-45 331.6 340)" class="u">Anti-HEL</text>
<text x="279.2" y="299.2" font-size="8.4" text-anchor="middle" transform="rotate(-90 279.2 299.2)" textLength="54.5" lengthAdjust="spacingAndGlyphs">C3b/iC3b (MFI)</text>
<path d="M299.4 267.1V260.7H330.5V267.1" fill="none" stroke="#3a3a3a" stroke-width="0.9"/>
<text x="315" y="259.1" font-size="4.6" text-anchor="middle" fill="#3a3a3a">ns</text>
<path d="M302.2 269.7V267.4H313.2V269.7" fill="none" stroke="#3a3a3a" stroke-width="0.9"/>
<path d="M316.1 269.7V267.4H327.7V269.7" fill="none" stroke="#3a3a3a" stroke-width="0.9"/>
<circle cx="304.88" cy="264.4" r="0.8" fill="#333"/>
<circle cx="306.82" cy="264.4" r="0.8" fill="#333"/>
<circle cx="308.77" cy="264.4" r="0.8" fill="#333"/>
<circle cx="310.73" cy="264.4" r="0.8" fill="#333"/>
<circle cx="318.88" cy="264.4" r="0.8" fill="#333"/>
<circle cx="320.82" cy="264.4" r="0.8" fill="#333"/>
<circle cx="322.77" cy="264.4" r="0.8" fill="#333"/>
<circle cx="324.73" cy="264.4" r="0.8" fill="#333"/>
<rect x="376.9" y="330.76" width="9" height="2.24" fill="#bcdca6" stroke="#b0d498" stroke-width="0.6"/>
<rect x="392.4" y="313.44" width="9" height="19.56" fill="#8088ae" stroke="#6e76a4" stroke-width="0.6"/>
<line x1="396.9" y1="310.19" x2="396.9" y2="316.52" stroke="#1b2d6e" stroke-width="0.8"/>
<line x1="395.4" y1="310.19" x2="398.4" y2="310.19" stroke="#1b2d6e" stroke-width="0.8"/>
<line x1="395.4" y1="316.52" x2="398.4" y2="316.52" stroke="#1b2d6e" stroke-width="0.8"/>
<circle cx="381.2" cy="325.39" r="1.85" fill="#4f9e38"/>
<circle cx="378.9" cy="329.2" r="1.85" fill="#4f9e38"/>
<circle cx="383.9" cy="331.31" r="1.85" fill="#4f9e38"/>
<circle cx="381.4" cy="331.73" r="1.85" fill="#4f9e38"/>
<circle cx="379.9" cy="332.15" r="1.85" fill="#4f9e38"/>
<circle cx="393.9" cy="310.61" r="1.85" fill="#1b2d6e"/>
<circle cx="400.1" cy="311.03" r="1.85" fill="#1b2d6e"/>
<circle cx="396.9" cy="313.14" r="1.85" fill="#1b2d6e"/>
<circle cx="397.9" cy="315.25" r="1.85" fill="#1b2d6e"/>
<circle cx="396.4" cy="316.52" r="1.85" fill="#1b2d6e"/>
<circle cx="410.2" cy="332.83" r="1.85" fill="#9d1029"/>
<circle cx="414.2" cy="332.83" r="1.85" fill="#9d1029"/>
<circle cx="412.4" cy="332.83" r="1.85" fill="#9d1029"/>
<circle cx="413.4" cy="332.83" r="1.85" fill="#9d1029"/>
<circle cx="411.4" cy="332.83" r="1.85" fill="#9d1029"/>
<line x1="373.5" y1="262.9" x2="373.5" y2="333.6" stroke="#231f20" stroke-width="1.3"/>
<line x1="372.9" y1="333.5" x2="418.9" y2="333.5" stroke="#231f20" stroke-width="1.3"/>
<line x1="371.2" y1="333" x2="373.5" y2="333" stroke="#231f20" stroke-width="0.8"/>
<text x="369.3" y="335" font-size="5.8" text-anchor="end" class="t">0</text>
<line x1="371.2" y1="316.1" x2="373.5" y2="316.1" stroke="#231f20" stroke-width="0.8"/>
<text x="369.3" y="318.1" font-size="5.8" text-anchor="end" class="t">2</text>
<line x1="371.2" y1="299.2" x2="373.5" y2="299.2" stroke="#231f20" stroke-width="0.8"/>
<text x="369.3" y="301.2" font-size="5.8" text-anchor="end" class="t">4</text>
<line x1="371.2" y1="282.3" x2="373.5" y2="282.3" stroke="#231f20" stroke-width="0.8"/>
<text x="369.3" y="284.3" font-size="5.8" text-anchor="end" class="t">6</text>
<line x1="371.2" y1="265.4" x2="373.5" y2="265.4" stroke="#231f20" stroke-width="0.8"/>
<text x="369.3" y="267.4" font-size="5.8" text-anchor="end" class="t">8</text>
<line x1="381.4" y1="333" x2="381.4" y2="335.2" stroke="#231f20" stroke-width="0.8"/>
<line x1="396.9" y1="333" x2="396.9" y2="335.2" stroke="#231f20" stroke-width="0.8"/>
<line x1="412.4" y1="333" x2="412.4" y2="335.2" stroke="#231f20" stroke-width="0.8"/>
<text x="383" y="340" font-size="5.9" text-anchor="end" transform="rotate(-45 383 340)" class="u">PBS</text>
<text x="398.5" y="340" font-size="5.9" text-anchor="end" transform="rotate(-45 398.5 340)" class="u">Anti-KEL</text>
<text x="414" y="340" font-size="5.9" text-anchor="end" transform="rotate(-45 414 340)" class="u">Anti-HEL</text>
<text x="361.6" y="299.2" font-size="8.4" text-anchor="middle" transform="rotate(-90 361.6 299.2)" textLength="54.5" lengthAdjust="spacingAndGlyphs">C3b/iC3b (MFI)</text>
<path d="M381.8 267.1V260.7H412.9V267.1" fill="none" stroke="#3a3a3a" stroke-width="0.9"/>
<text x="397.4" y="259.1" font-size="4.6" text-anchor="middle" fill="#3a3a3a">ns</text>
<path d="M384.6 269.7V267.4H395.6V269.7" fill="none" stroke="#3a3a3a" stroke-width="0.9"/>
<path d="M398.5 269.7V267.4H410.1V269.7" fill="none" stroke="#3a3a3a" stroke-width="0.9"/>
<circle cx="387.27" cy="264.4" r="0.8" fill="#333"/>
<circle cx="389.22" cy="264.4" r="0.8" fill="#333"/>
<circle cx="391.17" cy="264.4" r="0.8" fill="#333"/>
<circle cx="393.12" cy="264.4" r="0.8" fill="#333"/>
<circle cx="401.27" cy="264.4" r="0.8" fill="#333"/>
<circle cx="403.22" cy="264.4" r="0.8" fill="#333"/>
<circle cx="405.17" cy="264.4" r="0.8" fill="#333"/>
<circle cx="407.12" cy="264.4" r="0.8" fill="#333"/>
<circle cx="461.8" cy="332.83" r="1.85" fill="#4f9e38"/>
<circle cx="465.8" cy="332.83" r="1.85" fill="#4f9e38"/>
<circle cx="464" cy="332.83" r="1.85" fill="#4f9e38"/>
<circle cx="465" cy="332.83" r="1.85" fill="#4f9e38"/>
<circle cx="463" cy="332.83" r="1.85" fill="#4f9e38"/>
<circle cx="477.3" cy="332.83" r="1.85" fill="#1b2d6e"/>
<circle cx="481.3" cy="332.83" r="1.85" fill="#1b2d6e"/>
<circle cx="479.5" cy="332.83" r="1.85" fill="#1b2d6e"/>
<circle cx="480.5" cy="332.83" r="1.85" fill="#1b2d6e"/>
<circle cx="478.5" cy="332.83" r="1.85" fill="#1b2d6e"/>
<circle cx="492.8" cy="332.83" r="1.85" fill="#9d1029"/>
<circle cx="496.8" cy="332.83" r="1.85" fill="#9d1029"/>
<circle cx="495" cy="332.83" r="1.85" fill="#9d1029"/>
<circle cx="496" cy="332.83" r="1.85" fill="#9d1029"/>
<circle cx="494" cy="332.83" r="1.85" fill="#9d1029"/>
<line x1="456.5" y1="262.9" x2="456.5" y2="333.6" stroke="#231f20" stroke-width="1.3"/>
<line x1="455.5" y1="333.5" x2="501.5" y2="333.5" stroke="#231f20" stroke-width="1.3"/>
<line x1="453.8" y1="333" x2="456.1" y2="333" stroke="#231f20" stroke-width="0.8"/>
<text x="451.9" y="335" font-size="5.8" text-anchor="end" class="t">0</text>
<line x1="453.8" y1="316.1" x2="456.1" y2="316.1" stroke="#231f20" stroke-width="0.8"/>
<text x="451.9" y="318.1" font-size="5.8" text-anchor="end" class="t">2</text>
<line x1="453.8" y1="299.2" x2="456.1" y2="299.2" stroke="#231f20" stroke-width="0.8"/>
<text x="451.9" y="301.2" font-size="5.8" text-anchor="end" class="t">4</text>
<line x1="453.8" y1="282.3" x2="456.1" y2="282.3" stroke="#231f20" stroke-width="0.8"/>
<text x="451.9" y="284.3" font-size="5.8" text-anchor="end" class="t">6</text>
<line x1="453.8" y1="265.4" x2="456.1" y2="265.4" stroke="#231f20" stroke-width="0.8"/>
<text x="451.9" y="267.4" font-size="5.8" text-anchor="end" class="t">8</text>
<line x1="464" y1="333" x2="464" y2="335.2" stroke="#231f20" stroke-width="0.8"/>
<line x1="479.5" y1="333" x2="479.5" y2="335.2" stroke="#231f20" stroke-width="0.8"/>
<line x1="495" y1="333" x2="495" y2="335.2" stroke="#231f20" stroke-width="0.8"/>
<text x="465.6" y="340" font-size="5.9" text-anchor="end" transform="rotate(-45 465.6 340)" class="u">PBS</text>
<text x="481.1" y="340" font-size="5.9" text-anchor="end" transform="rotate(-45 481.1 340)" class="u">Anti-KEL</text>
<text x="496.6" y="340" font-size="5.9" text-anchor="end" transform="rotate(-45 496.6 340)" class="u">Anti-HEL</text>
<text x="444.2" y="299.2" font-size="8.4" text-anchor="middle" transform="rotate(-90 444.2 299.2)" textLength="54.5" lengthAdjust="spacingAndGlyphs">C3b/iC3b (MFI)</text>
<path d="M464.4 267.1V260.7H495.5V267.1" fill="none" stroke="#3a3a3a" stroke-width="0.9"/>
<text x="480" y="259.1" font-size="4.6" text-anchor="middle" fill="#3a3a3a">ns</text>
<path d="M467.2 269.7V267.4H478.2V269.7" fill="none" stroke="#3a3a3a" stroke-width="0.9"/>
<path d="M481.1 269.7V267.4H492.7V269.7" fill="none" stroke="#3a3a3a" stroke-width="0.9"/>
<text x="472.8" y="265.4" font-size="4.6" text-anchor="middle" fill="#3a3a3a">ns</text>
<text x="486.8" y="265.4" font-size="4.6" text-anchor="middle" fill="#3a3a3a">ns</text>
<text x="326.5" y="373" font-size="6.9" text-anchor="middle" textLength="34.7" lengthAdjust="spacingAndGlyphs">Total RBCs</text>
<path d="M330.71 405.73h0.55v0.55h-0.55zM319.71 408.21h0.55v0.55h-0.55zM328.21 401.24h0.55v0.55h-0.55zM331.91 399.53h0.55v0.55h-0.55zM327.55 405.86h0.55v0.55h-0.55zM331.6 399.07h0.55v0.55h-0.55zM332.98 398.51h0.55v0.55h-0.55zM328.75 404h0.55v0.55h-0.55zM308.45 417.41h0.55v0.55h-0.55zM323.07 408.48h0.55v0.55h-0.55zM323.09 408.14h0.55v0.55h-0.55zM312.02 418.27h0.55v0.55h-0.55zM311.1 418.26h0.55v0.55h-0.55zM331.75 401.43h0.55v0.55h-0.55zM331.43 398.29h0.55v0.55h-0.55zM330.54 406.45h0.55v0.55h-0.55zM318.73 406.85h0.55v0.55h-0.55zM326.31 405.34h0.55v0.55h-0.55zM318.74 411.29h0.55v0.55h-0.55zM330.04 405.71h0.55v0.55h-0.55zM314.98 412.33h0.55v0.55h-0.55zM327.45 403.69h0.55v0.55h-0.55zM335.53 403.89h0.55v0.55h-0.55zM334.41 399.24h0.55v0.55h-0.55zM330.26 402.81h0.55v0.55h-0.55zM329.59 401.17h0.55v0.55h-0.55zM328.6 406.19h0.55v0.55h-0.55zM323.5 407.5h0.55v0.55h-0.55zM334.5 401.77h0.55v0.55h-0.55zM308.96 415.73h0.55v0.55h-0.55zM320.38 409h0.55v0.55h-0.55zM325.3 402.99h0.55v0.55h-0.55zM324.87 408.86h0.55v0.55h-0.55zM328.05 403.55h0.55v0.55h-0.55zM315.72 411.34h0.55v0.55h-0.55zM306.16 410.27h0.55v0.55h-0.55zM317.56 412.25h0.55v0.55h-0.55zM331.96 401.73h0.55v0.55h-0.55zM312.98 416.73h0.55v0.55h-0.55zM314.38 413.59h0.55v0.55h-0.55zM315.87 411.15h0.55v0.55h-0.55zM326.96 406.4h0.55v0.55h-0.55zM329.52 403.77h0.55v0.55h-0.55zM313.77 417.49h0.55v0.55h-0.55zM330.04 403.15h0.55v0.55h-0.55zM326.63 403.86h0.55v0.55h-0.55zM318.18 411.67h0.55v0.55h-0.55zM314.63 414h0.55v0.55h-0.55zM324.04 404.18h0.55v0.55h-0.55zM327.1 407.27h0.55v0.55h-0.55zM318.38 413.6h0.55v0.55h-0.55zM312.63 415.42h0.55v0.55h-0.55zM326.49 404.23h0.55v0.55h-0.55zM326.28 405.45h0.55v0.55h-0.55zM330.69 403.01h0.55v0.55h-0.55zM314.27 414.45h0.55v0.55h-0.55zM330.06 405.5h0.55v0.55h-0.55zM313.98 412.14h0.55v0.55h-0.55zM309.46 417.32h0.55v0.55h-0.55zM311.12 413.6h0.55v0.55h-0.55zM328.93 400.22h0.55v0.55h-0.55zM322.09 407.17h0.55v0.55h-0.55zM326.65 407.19h0.55v0.55h-0.55zM322.71 404h0.55v0.55h-0.55zM324.85 405.37h0.55v0.55h-0.55zM317.59 410.29h0.55v0.55h-0.55zM329.07 405.53h0.55v0.55h-0.55zM309.95 415.01h0.55v0.55h-0.55zM319.06 410.84h0.55v0.55h-0.55zM312.97 418.28h0.55v0.55h-0.55zM311.37 413.57h0.55v0.55h-0.55zM328.98 395.54h0.55v0.55h-0.55zM322.96 402.46h0.55v0.55h-0.55zM331.89 404.05h0.55v0.55h-0.55zM323.93 406.08h0.55v0.55h-0.55zM325.3 409.99h0.55v0.55h-0.55zM330.74 406.1h0.55v0.55h-0.55zM326.56 408.29h0.55v0.55h-0.55zM326.01 409.35h0.55v0.55h-0.55zM324.21 408.93h0.55v0.55h-0.55zM323.63 409.4h0.55v0.55h-0.55zM318.67 408.99h0.55v0.55h-0.55zM330.32 404.17h0.55v0.55h-0.55zM321.09 407.09h0.55v0.55h-0.55zM324.87 404.52h0.55v0.55h-0.55zM320.57 410.35h0.55v0.55h-0.55zM326.79 401.25h0.55v0.55h-0.55zM329.31 406.02h0.55v0.55h-0.55zM306.04 415.43h0.55v0.55h-0.55zM330.93 401.71h0.55v0.55h-0.55zM330.7 401.08h0.55v0.55h-0.55zM314.44 408.77h0.55v0.55h-0.55zM329.46 406.9h0.55v0.55h-0.55zM330.08 402.11h0.55v0.55h-0.55zM323.99 408.04h0.55v0.55h-0.55zM314.65 412.72h0.55v0.55h-0.55zM327.96 405.05h0.55v0.55h-0.55zM331.31 399.32h0.55v0.55h-0.55zM320.14 411.15h0.55v0.55h-0.55zM316.43 409.11h0.55v0.55h-0.55zM328.72 400.35h0.55v0.55h-0.55zM318.24 407.62h0.55v0.55h-0.55zM309.73 417.44h0.55v0.55h-0.55zM315.87 413.11h0.55v0.55h-0.55zM318.3 414.31h0.55v0.55h-0.55zM328 411.45h0.55v0.55h-0.55zM325.81 408.37h0.55v0.55h-0.55zM327.14 405.71h0.55v0.55h-0.55zM318.61 410.95h0.55v0.55h-0.55zM317.38 411.48h0.55v0.55h-0.55z" fill="#9aa2e0"/>
<path d="M335.38 392.81h0.6v0.6h-0.6zM335.46 397.43h0.6v0.6h-0.6zM336.82 396.99h0.6v0.6h-0.6zM338.91 400.7h0.6v0.6h-0.6zM338.94 394.62h0.6v0.6h-0.6zM336.27 392.52h0.6v0.6h-0.6zM336.72 396.14h0.6v0.6h-0.6zM335.97 390.99h0.6v0.6h-0.6zM339.5 388.19h0.6v0.6h-0.6zM336.79 398.37h0.6v0.6h-0.6zM335.93 391.08h0.6v0.6h-0.6zM335.25 399.17h0.6v0.6h-0.6zM338.48 387.95h0.6v0.6h-0.6zM335.8 400.96h0.6v0.6h-0.6zM339.4 399.72h0.6v0.6h-0.6zM338.2 388.02h0.6v0.6h-0.6zM338.02 395.76h0.6v0.6h-0.6zM336.62 403.54h0.6v0.6h-0.6zM337.75 397.82h0.6v0.6h-0.6zM339.11 395.55h0.6v0.6h-0.6zM336.43 392.91h0.6v0.6h-0.6zM338.97 399.07h0.6v0.6h-0.6zM335.55 401.57h0.6v0.6h-0.6zM338.86 390.47h0.6v0.6h-0.6zM339.03 396.08h0.6v0.6h-0.6zM333.99 398.37h0.6v0.6h-0.6zM336.95 394.59h0.6v0.6h-0.6zM340.41 386.74h0.6v0.6h-0.6zM334.76 394.11h0.6v0.6h-0.6zM338.55 393.56h0.6v0.6h-0.6zM335.86 391.36h0.6v0.6h-0.6zM336.76 399.53h0.6v0.6h-0.6zM335.49 386.52h0.6v0.6h-0.6zM337.06 394.66h0.6v0.6h-0.6zM334.92 398.96h0.6v0.6h-0.6zM339.8 394.22h0.6v0.6h-0.6zM336.29 398.97h0.6v0.6h-0.6zM337.45 389.96h0.6v0.6h-0.6zM337.96 392.36h0.6v0.6h-0.6zM338.62 394.32h0.6v0.6h-0.6zM336.69 398.79h0.6v0.6h-0.6zM337.64 393.57h0.6v0.6h-0.6zM333.93 403.97h0.6v0.6h-0.6zM341.16 390.06h0.6v0.6h-0.6zM334.6 398.78h0.6v0.6h-0.6zM336.09 396.36h0.6v0.6h-0.6zM339.34 397.38h0.6v0.6h-0.6zM337.52 394.3h0.6v0.6h-0.6zM337.03 398.23h0.6v0.6h-0.6zM340.88 401.97h0.6v0.6h-0.6zM336.4 400.6h0.6v0.6h-0.6zM338.8 389.8h0.6v0.6h-0.6zM336.56 400.99h0.6v0.6h-0.6zM335.44 400.54h0.6v0.6h-0.6zM336.75 396.51h0.6v0.6h-0.6zM333.25 405.49h0.6v0.6h-0.6zM337.88 401.25h0.6v0.6h-0.6zM337.43 389.68h0.6v0.6h-0.6zM340.86 393.7h0.6v0.6h-0.6zM341.54 396.31h0.6v0.6h-0.6zM341.86 393.77h0.6v0.6h-0.6zM332.83 399.04h0.6v0.6h-0.6zM337.34 396.46h0.6v0.6h-0.6zM340.6 392.86h0.6v0.6h-0.6zM335.23 390.72h0.6v0.6h-0.6zM334.75 387.67h0.6v0.6h-0.6zM335.12 391.61h0.6v0.6h-0.6zM337.25 390.81h0.6v0.6h-0.6zM336.64 399.77h0.6v0.6h-0.6zM336.64 398.14h0.6v0.6h-0.6zM335.07 397.24h0.6v0.6h-0.6zM338.95 393.38h0.6v0.6h-0.6zM333.86 394.63h0.6v0.6h-0.6zM336.33 402.38h0.6v0.6h-0.6zM335.19 403.06h0.6v0.6h-0.6zM331.79 393.47h0.6v0.6h-0.6zM336.32 393.74h0.6v0.6h-0.6zM335.98 395.19h0.6v0.6h-0.6zM341.15 395.47h0.6v0.6h-0.6zM340.04 395.55h0.6v0.6h-0.6zM339.05 384.9h0.6v0.6h-0.6zM336.97 398.3h0.6v0.6h-0.6zM334.92 392.39h0.6v0.6h-0.6zM333.72 404.75h0.6v0.6h-0.6zM335.35 391.93h0.6v0.6h-0.6zM331.87 387.45h0.6v0.6h-0.6zM338.51 389.82h0.6v0.6h-0.6zM330.88 393.18h0.6v0.6h-0.6zM337.2 396.69h0.6v0.6h-0.6zM338.41 392.85h0.6v0.6h-0.6zM344.07 393.94h0.6v0.6h-0.6zM339.03 389.9h0.6v0.6h-0.6zM336.72 388.37h0.6v0.6h-0.6zM337.91 393.73h0.6v0.6h-0.6zM336.15 386.1h0.6v0.6h-0.6zM337.87 399.33h0.6v0.6h-0.6zM339.16 395.38h0.6v0.6h-0.6zM338.16 399.84h0.6v0.6h-0.6zM337.38 402.16h0.6v0.6h-0.6zM336.66 396.45h0.6v0.6h-0.6zM332.21 404.48h0.6v0.6h-0.6zM335.23 396.87h0.6v0.6h-0.6zM339.25 392.3h0.6v0.6h-0.6zM336.67 398.85h0.6v0.6h-0.6zM337.24 394.41h0.6v0.6h-0.6zM337 392.53h0.6v0.6h-0.6zM336.63 397.45h0.6v0.6h-0.6zM337.61 400.97h0.6v0.6h-0.6zM337.76 393.63h0.6v0.6h-0.6zM339.04 397.82h0.6v0.6h-0.6zM339.54 397.17h0.6v0.6h-0.6zM338.31 397.95h0.6v0.6h-0.6zM339.7 391.89h0.6v0.6h-0.6zM336.97 396.8h0.6v0.6h-0.6zM341.41 396.32h0.6v0.6h-0.6zM338.54 395.4h0.6v0.6h-0.6zM331.65 400.91h0.6v0.6h-0.6zM338.08 401.9h0.6v0.6h-0.6zM333.96 396.83h0.6v0.6h-0.6zM338.82 389.06h0.6v0.6h-0.6zM338.85 393.48h0.6v0.6h-0.6zM339.63 388.75h0.6v0.6h-0.6zM335.76 392.54h0.6v0.6h-0.6zM333.73 395.76h0.6v0.6h-0.6zM340.43 396.43h0.6v0.6h-0.6zM337.82 402.9h0.6v0.6h-0.6zM338.9 394.58h0.6v0.6h-0.6zM332.6 396.96h0.6v0.6h-0.6zM336.89 393.89h0.6v0.6h-0.6zM338.69 398.8h0.6v0.6h-0.6zM333.5 396.61h0.6v0.6h-0.6zM336.01 399.81h0.6v0.6h-0.6zM336.68 400.25h0.6v0.6h-0.6zM336.07 394.06h0.6v0.6h-0.6zM336.21 395.08h0.6v0.6h-0.6zM335.98 401.36h0.6v0.6h-0.6zM334.99 396.12h0.6v0.6h-0.6zM335.6 389.18h0.6v0.6h-0.6zM336.99 389.09h0.6v0.6h-0.6zM338.27 392.85h0.6v0.6h-0.6zM335.8 397.94h0.6v0.6h-0.6zM341.38 394.25h0.6v0.6h-0.6zM333.03 393.61h0.6v0.6h-0.6zM336.58 401.23h0.6v0.6h-0.6zM337.87 392.13h0.6v0.6h-0.6zM338.81 401.37h0.6v0.6h-0.6zM336.74 397.41h0.6v0.6h-0.6zM336.48 407.99h0.6v0.6h-0.6zM336.27 394.16h0.6v0.6h-0.6zM336.69 399.46h0.6v0.6h-0.6zM336.37 398.48h0.6v0.6h-0.6zM338.19 405.52h0.6v0.6h-0.6zM337.28 394.85h0.6v0.6h-0.6zM337.92 387.83h0.6v0.6h-0.6zM334.56 396.58h0.6v0.6h-0.6zM336.03 408.05h0.6v0.6h-0.6zM339.83 400.25h0.6v0.6h-0.6zM341.34 393.93h0.6v0.6h-0.6zM336.62 392.76h0.6v0.6h-0.6zM335.6 405.99h0.6v0.6h-0.6z" fill="#5a6ac8"/>
<g filter="url(#bl)">
<ellipse cx="338.1" cy="395.7" rx="3.99" ry="9.12" fill="#4456c0" transform="rotate(8 338.1 395.7)"/>
<ellipse cx="339.8" cy="392.5" rx="2.47" ry="4.37" fill="#3a4cb8"/>
</g>
<ellipse cx="336.3" cy="398.5" rx="2.47" ry="7.41" fill="#3d6fd0" transform="rotate(0 336.3 398.5)"/>
<ellipse cx="336.3" cy="398.5" rx="1.98" ry="5.93" fill="#40a8d0" transform="rotate(0 336.3 398.5)"/>
<ellipse cx="336.3" cy="398.5" rx="1.48" ry="4.45" fill="#5cc8a0" transform="rotate(0 336.3 398.5)"/>
<ellipse cx="336.3" cy="398.5" rx="1.04" ry="3.11" fill="#a8d848" transform="rotate(0 336.3 398.5)"/>
<ellipse cx="336.3" cy="398.5" rx="0.67" ry="2" fill="#e8d838" transform="rotate(0 336.3 398.5)"/>
<ellipse cx="336.3" cy="398.5" rx="0.32" ry="0.96" fill="#e84828" transform="rotate(0 336.3 398.5)"/>
<ellipse cx="336.3" cy="398.2" rx="2.85" ry="8.07" fill="none" stroke="#111" stroke-width="1.3"/>
<rect x="297.5" y="378.5" width="58" height="52" fill="none" stroke="#231f20" stroke-width="1"/>
<line x1="297.5" y1="377.5" x2="297.5" y2="431.1" stroke="#231f20" stroke-width="1.4"/>
<line x1="296.6" y1="430.5" x2="355.9" y2="430.5" stroke="#231f20" stroke-width="1.4"/>
<line x1="294.8" y1="430.5" x2="297.2" y2="430.5" stroke="#231f20" stroke-width="0.8"/>
<text class="t" x="291.8" y="432.5" font-size="5.9" text-anchor="end" letter-spacing="-0.15">10<tspan dy="-2.66" font-size="4.01">0</tspan></text>
<line x1="297.2" y1="430.5" x2="297.2" y2="432.5" stroke="#231f20" stroke-width="0.8"/>
<text class="t" x="298" y="442.2" font-size="5.9" text-anchor="middle" letter-spacing="-0.15">10<tspan dy="-2.66" font-size="4.01">0</tspan></text>
<line x1="294.8" y1="417.38" x2="297.2" y2="417.38" stroke="#231f20" stroke-width="0.8"/>
<text class="t" x="291.8" y="419.38" font-size="5.9" text-anchor="end" letter-spacing="-0.15">10<tspan dy="-2.66" font-size="4.01">1</tspan></text>
<line x1="311.75" y1="430.5" x2="311.75" y2="432.5" stroke="#231f20" stroke-width="0.8"/>
<text class="t" x="312.55" y="442.2" font-size="5.9" text-anchor="middle" letter-spacing="-0.15">10<tspan dy="-2.66" font-size="4.01">1</tspan></text>
<line x1="294.8" y1="404.25" x2="297.2" y2="404.25" stroke="#231f20" stroke-width="0.8"/>
<text class="t" x="291.8" y="406.25" font-size="5.9" text-anchor="end" letter-spacing="-0.15">10<tspan dy="-2.66" font-size="4.01">2</tspan></text>
<line x1="326.3" y1="430.5" x2="326.3" y2="432.5" stroke="#231f20" stroke-width="0.8"/>
<text class="t" x="327.1" y="442.2" font-size="5.9" text-anchor="middle" letter-spacing="-0.15">10<tspan dy="-2.66" font-size="4.01">2</tspan></text>
<line x1="294.8" y1="391.12" x2="297.2" y2="391.12" stroke="#231f20" stroke-width="0.8"/>
<text class="t" x="291.8" y="393.12" font-size="5.9" text-anchor="end" letter-spacing="-0.15">10<tspan dy="-2.66" font-size="4.01">3</tspan></text>
<line x1="340.85" y1="430.5" x2="340.85" y2="432.5" stroke="#231f20" stroke-width="0.8"/>
<text class="t" x="341.65" y="442.2" font-size="5.9" text-anchor="middle" letter-spacing="-0.15">10<tspan dy="-2.66" font-size="4.01">3</tspan></text>
<line x1="294.8" y1="378" x2="297.2" y2="378" stroke="#231f20" stroke-width="0.8"/>
<text class="t" x="291.8" y="380" font-size="5.9" text-anchor="end" letter-spacing="-0.15">10<tspan dy="-2.66" font-size="4.01">4</tspan></text>
<line x1="355.4" y1="430.5" x2="355.4" y2="432.5" stroke="#231f20" stroke-width="0.8"/>
<text class="t" x="356.2" y="442.2" font-size="5.9" text-anchor="middle" letter-spacing="-0.15">10<tspan dy="-2.66" font-size="4.01">4</tspan></text>
<text x="277.3" y="404.85" font-size="8.4" text-anchor="middle" transform="rotate(-90 277.3 404.85)" textLength="13.5" lengthAdjust="spacingAndGlyphs">SSC</text>
<text x="326.3" y="454.2" font-size="8.4" text-anchor="middle" textLength="12.9" lengthAdjust="spacingAndGlyphs">FSC</text>
<line x1="364.6" y1="404.6" x2="378.7" y2="404.6" stroke="#231f20" stroke-width="0.8"/>
<path d="M381.4 404.6L378.2 406L378.2 403.2z" fill="#231f20"/>
<path d="M418.18 387.56h0.55v0.55h-0.55zM428.8 391.67h0.55v0.55h-0.55zM429.57 404.95h0.55v0.55h-0.55zM418.11 407.05h0.55v0.55h-0.55zM430.75 391.52h0.55v0.55h-0.55zM427.68 399.04h0.55v0.55h-0.55zM428.43 410.8h0.55v0.55h-0.55zM430.2 395.13h0.55v0.55h-0.55zM427.7 403.79h0.55v0.55h-0.55zM434.91 390.78h0.55v0.55h-0.55zM426.96 388.79h0.55v0.55h-0.55zM430.81 389.69h0.55v0.55h-0.55zM426.09 401.35h0.55v0.55h-0.55zM428.49 383.79h0.55v0.55h-0.55zM435.35 404.45h0.55v0.55h-0.55zM429.42 390.32h0.55v0.55h-0.55zM425.3 398.5h0.55v0.55h-0.55zM428.26 406.86h0.55v0.55h-0.55zM431.79 386.22h0.55v0.55h-0.55zM432.3 401.39h0.55v0.55h-0.55zM419.13 404.12h0.55v0.55h-0.55zM432.75 406.64h0.55v0.55h-0.55zM432.63 382.83h0.55v0.55h-0.55zM425.07 391.46h0.55v0.55h-0.55zM426.83 397.96h0.55v0.55h-0.55zM433.07 404.4h0.55v0.55h-0.55zM421.69 405.89h0.55v0.55h-0.55zM425.47 380.71h0.55v0.55h-0.55zM425.71 384.21h0.55v0.55h-0.55zM431.13 403.73h0.55v0.55h-0.55zM426.07 384.38h0.55v0.55h-0.55zM428.2 390.54h0.55v0.55h-0.55zM422.51 407.97h0.55v0.55h-0.55zM422.11 383.17h0.55v0.55h-0.55zM424.52 401.02h0.55v0.55h-0.55zM419.02 386.66h0.55v0.55h-0.55zM429.81 385.29h0.55v0.55h-0.55zM427.76 401.52h0.55v0.55h-0.55zM427.33 406.66h0.55v0.55h-0.55zM423.97 390.42h0.55v0.55h-0.55zM432.78 401.5h0.55v0.55h-0.55zM431.43 396.81h0.55v0.55h-0.55zM421.56 398.29h0.55v0.55h-0.55zM429.61 396.54h0.55v0.55h-0.55zM424.91 393.36h0.55v0.55h-0.55zM430.76 380.14h0.55v0.55h-0.55zM424.84 397.92h0.55v0.55h-0.55zM430.74 404.22h0.55v0.55h-0.55zM425.36 391.37h0.55v0.55h-0.55zM419.86 408.86h0.55v0.55h-0.55zM430.1 399.27h0.55v0.55h-0.55zM422.46 385.95h0.55v0.55h-0.55zM433.5 397.1h0.55v0.55h-0.55zM428.85 403.46h0.55v0.55h-0.55zM420.63 396.42h0.55v0.55h-0.55zM423.17 391.43h0.55v0.55h-0.55zM428.94 399.18h0.55v0.55h-0.55zM433.56 403.27h0.55v0.55h-0.55zM429.08 382.93h0.55v0.55h-0.55zM430.75 399.02h0.55v0.55h-0.55zM432.18 395.1h0.55v0.55h-0.55zM425.1 396.78h0.55v0.55h-0.55zM423.77 394.94h0.55v0.55h-0.55zM424.6 390.18h0.55v0.55h-0.55zM421.19 400.2h0.55v0.55h-0.55zM419.27 386.4h0.55v0.55h-0.55zM421.76 404.88h0.55v0.55h-0.55zM420.66 386.87h0.55v0.55h-0.55zM428.37 385.49h0.55v0.55h-0.55zM424.56 405.71h0.55v0.55h-0.55zM428.86 397.11h0.55v0.55h-0.55zM435.35 392.61h0.55v0.55h-0.55zM422.9 379.23h0.55v0.55h-0.55zM426.64 403.09h0.55v0.55h-0.55zM432.39 406.01h0.55v0.55h-0.55zM419.4 399.7h0.55v0.55h-0.55zM426.29 394.35h0.55v0.55h-0.55zM421.46 394.19h0.55v0.55h-0.55zM432.99 388.44h0.55v0.55h-0.55zM428.52 397.12h0.55v0.55h-0.55zM428.02 395.9h0.55v0.55h-0.55zM418.45 384.8h0.55v0.55h-0.55zM420.54 390.67h0.55v0.55h-0.55zM432.7 396h0.55v0.55h-0.55zM429.34 383.62h0.55v0.55h-0.55zM428.68 411.17h0.55v0.55h-0.55zM420.65 396.78h0.55v0.55h-0.55zM431.97 408.73h0.55v0.55h-0.55zM431.47 400.62h0.55v0.55h-0.55zM425.68 391.18h0.55v0.55h-0.55zM432.36 406.15h0.55v0.55h-0.55zM423.67 389.97h0.55v0.55h-0.55zM433.84 406.89h0.55v0.55h-0.55zM422.02 380.34h0.55v0.55h-0.55zM427.18 404.96h0.55v0.55h-0.55zM432.11 405.04h0.55v0.55h-0.55zM424.24 389.48h0.55v0.55h-0.55zM427.95 393.83h0.55v0.55h-0.55zM430.47 408.5h0.55v0.55h-0.55zM424.82 396.54h0.55v0.55h-0.55zM423.86 386.6h0.55v0.55h-0.55zM425.4 400.3h0.55v0.55h-0.55zM426.57 394.36h0.55v0.55h-0.55zM422.67 382.89h0.55v0.55h-0.55zM425.96 399.17h0.55v0.55h-0.55zM432.26 397.27h0.55v0.55h-0.55zM424.38 392.95h0.55v0.55h-0.55zM423.28 408.86h0.55v0.55h-0.55zM433.07 395.07h0.55v0.55h-0.55zM429.99 400.84h0.55v0.55h-0.55zM433.11 389.63h0.55v0.55h-0.55zM427.92 406.15h0.55v0.55h-0.55zM419.03 395.98h0.55v0.55h-0.55zM427.85 400.88h0.55v0.55h-0.55zM429.44 402.64h0.55v0.55h-0.55zM432.26 410.67h0.55v0.55h-0.55zM423.7 394.91h0.55v0.55h-0.55zM428.38 389.08h0.55v0.55h-0.55zM417.91 383.73h0.55v0.55h-0.55zM433.27 390.35h0.55v0.55h-0.55zM428.68 398.81h0.55v0.55h-0.55zM420.89 399.57h0.55v0.55h-0.55zM423.51 399.26h0.55v0.55h-0.55zM426.31 394.49h0.55v0.55h-0.55zM427.68 387.74h0.55v0.55h-0.55zM423.96 388.83h0.55v0.55h-0.55zM428.67 403.78h0.55v0.55h-0.55zM425.69 396.22h0.55v0.55h-0.55zM426.04 409.21h0.55v0.55h-0.55zM427.15 399.69h0.55v0.55h-0.55zM431.93 409.84h0.55v0.55h-0.55zM420.51 384.58h0.55v0.55h-0.55zM428.21 397.69h0.55v0.55h-0.55zM426.27 400.15h0.55v0.55h-0.55zM428.23 408.74h0.55v0.55h-0.55zM435.21 407.55h0.55v0.55h-0.55zM421.9 398.79h0.55v0.55h-0.55zM424.07 380.12h0.55v0.55h-0.55zM426.82 380.83h0.55v0.55h-0.55zM426.85 386.66h0.55v0.55h-0.55zM424.66 405.06h0.55v0.55h-0.55zM427.28 389.06h0.55v0.55h-0.55zM427.92 403.9h0.55v0.55h-0.55zM432.21 388.77h0.55v0.55h-0.55zM433.15 395.33h0.55v0.55h-0.55zM423.4 408.77h0.55v0.55h-0.55zM430.23 403.83h0.55v0.55h-0.55zM427.38 379.2h0.55v0.55h-0.55zM429.3 402.67h0.55v0.55h-0.55zM433.56 390.52h0.55v0.55h-0.55zM421.9 394.11h0.55v0.55h-0.55zM426.45 404.15h0.55v0.55h-0.55zM423.25 386.86h0.55v0.55h-0.55zM429.62 391.3h0.55v0.55h-0.55zM432.64 379.59h0.55v0.55h-0.55zM427.97 405.54h0.55v0.55h-0.55zM435.12 407.23h0.55v0.55h-0.55zM432.35 397.53h0.55v0.55h-0.55zM426.78 387.62h0.55v0.55h-0.55zM430.46 388.95h0.55v0.55h-0.55zM418.78 392.46h0.55v0.55h-0.55zM421.31 394.1h0.55v0.55h-0.55zM431.7 391.13h0.55v0.55h-0.55zM424.19 392.29h0.55v0.55h-0.55zM422.3 400.35h0.55v0.55h-0.55zM433.8 396.56h0.55v0.55h-0.55zM424.6 396.14h0.55v0.55h-0.55zM426.95 395.6h0.55v0.55h-0.55zM424.4 393.85h0.55v0.55h-0.55zM424.58 405.6h0.55v0.55h-0.55zM425.89 388.13h0.55v0.55h-0.55zM420.32 400.9h0.55v0.55h-0.55zM419.44 402.03h0.55v0.55h-0.55zM420.97 408.55h0.55v0.55h-0.55zM435.02 405.91h0.55v0.55h-0.55zM423.93 401.22h0.55v0.55h-0.55zM427.81 396.3h0.55v0.55h-0.55zM432.24 397.02h0.55v0.55h-0.55zM428.43 408.55h0.55v0.55h-0.55zM426.44 394.19h0.55v0.55h-0.55zM428.2 392.84h0.55v0.55h-0.55zM426.05 386.12h0.55v0.55h-0.55zM423.18 404.07h0.55v0.55h-0.55zM430.35 406.81h0.55v0.55h-0.55zM434.94 394.37h0.55v0.55h-0.55zM433.45 409.67h0.55v0.55h-0.55zM425.07 385h0.55v0.55h-0.55zM417.83 400.74h0.55v0.55h-0.55zM428.16 391.17h0.55v0.55h-0.55zM428.6 393.85h0.55v0.55h-0.55zM433.47 383.61h0.55v0.55h-0.55zM424.08 408.52h0.55v0.55h-0.55zM423.18 388.84h0.55v0.55h-0.55zM428.36 411.34h0.55v0.55h-0.55zM421.44 395.38h0.55v0.55h-0.55zM430.76 399.79h0.55v0.55h-0.55zM429.8 404.7h0.55v0.55h-0.55zM429.46 380.39h0.55v0.55h-0.55zM418.44 391.29h0.55v0.55h-0.55zM420.69 407.46h0.55v0.55h-0.55zM420.26 393.74h0.55v0.55h-0.55zM420.16 379.71h0.55v0.55h-0.55zM432.32 398.55h0.55v0.55h-0.55zM422.47 397.16h0.55v0.55h-0.55zM420.38 399.12h0.55v0.55h-0.55zM426.56 403.52h0.55v0.55h-0.55zM430.53 397.34h0.55v0.55h-0.55zM432.46 378.77h0.55v0.55h-0.55zM429.22 401.53h0.55v0.55h-0.55zM428.52 395.3h0.55v0.55h-0.55zM423.42 390.88h0.55v0.55h-0.55zM432.7 411.21h0.55v0.55h-0.55zM423.7 391.46h0.55v0.55h-0.55zM423.52 395.38h0.55v0.55h-0.55zM426.46 401.51h0.55v0.55h-0.55zM420.27 392.06h0.55v0.55h-0.55zM426.09 400.75h0.55v0.55h-0.55zM430.2 396h0.55v0.55h-0.55zM426.85 399.91h0.55v0.55h-0.55zM431.48 398.15h0.55v0.55h-0.55zM420.16 401.62h0.55v0.55h-0.55zM429.35 381.54h0.55v0.55h-0.55zM429.06 396.17h0.55v0.55h-0.55zM425.55 397.8h0.55v0.55h-0.55zM426.61 406.01h0.55v0.55h-0.55zM429.29 395.78h0.55v0.55h-0.55zM425.53 396.87h0.55v0.55h-0.55zM426.96 396.71h0.55v0.55h-0.55zM432.73 405.12h0.55v0.55h-0.55zM421.53 408.01h0.55v0.55h-0.55z" fill="#8e98d8"/>
<path d="M446.58 422.29h0.55v0.55h-0.55zM461.8 424.08h0.55v0.55h-0.55zM469.05 417.76h0.55v0.55h-0.55zM457.19 417.84h0.55v0.55h-0.55zM438.85 416.33h0.55v0.55h-0.55zM453.39 415.39h0.55v0.55h-0.55zM450.34 424.47h0.55v0.55h-0.55zM457.43 422.03h0.55v0.55h-0.55zM455.33 418.69h0.55v0.55h-0.55zM438.09 420.44h0.55v0.55h-0.55zM451.11 420.09h0.55v0.55h-0.55zM454.47 417.99h0.55v0.55h-0.55zM460.51 413.74h0.55v0.55h-0.55zM463.17 417.2h0.55v0.55h-0.55zM455.6 426.2h0.55v0.55h-0.55zM457.46 423.49h0.55v0.55h-0.55zM464.77 422.18h0.55v0.55h-0.55zM456.91 419.95h0.55v0.55h-0.55zM454.59 419.79h0.55v0.55h-0.55zM461.36 420.19h0.55v0.55h-0.55zM458.35 426.69h0.55v0.55h-0.55zM463.02 417.94h0.55v0.55h-0.55zM451.16 422.75h0.55v0.55h-0.55zM442.7 421.88h0.55v0.55h-0.55zM450.15 417.88h0.55v0.55h-0.55zM459.08 414.78h0.55v0.55h-0.55zM473.21 419.58h0.55v0.55h-0.55zM449.1 428.57h0.55v0.55h-0.55zM441.98 417.26h0.55v0.55h-0.55zM451.29 415.19h0.55v0.55h-0.55zM448.95 422.07h0.55v0.55h-0.55zM453.7 419.26h0.55v0.55h-0.55zM461.32 427.89h0.55v0.55h-0.55zM464.89 422.94h0.55v0.55h-0.55zM455.92 415.09h0.55v0.55h-0.55zM447.91 418.54h0.55v0.55h-0.55zM439.15 424.98h0.55v0.55h-0.55zM460.41 419.42h0.55v0.55h-0.55zM443.29 425.48h0.55v0.55h-0.55zM458.09 424.22h0.55v0.55h-0.55zM450.83 428.2h0.55v0.55h-0.55zM446.11 414.01h0.55v0.55h-0.55zM439.02 416.11h0.55v0.55h-0.55zM441.22 420.93h0.55v0.55h-0.55zM456.45 420.67h0.55v0.55h-0.55zM444.4 417.32h0.55v0.55h-0.55zM467.75 417.94h0.55v0.55h-0.55zM451.93 416.85h0.55v0.55h-0.55zM457.03 423.43h0.55v0.55h-0.55zM459.53 421.38h0.55v0.55h-0.55zM458.74 418.52h0.55v0.55h-0.55zM457.9 415.06h0.55v0.55h-0.55zM453.06 423.33h0.55v0.55h-0.55zM442.66 422.95h0.55v0.55h-0.55zM455.08 414.01h0.55v0.55h-0.55zM442.38 420.9h0.55v0.55h-0.55zM454.43 424.96h0.55v0.55h-0.55zM473.25 417.34h0.55v0.55h-0.55zM447.08 425.17h0.55v0.55h-0.55zM438.07 418.36h0.55v0.55h-0.55zM449.75 418.88h0.55v0.55h-0.55zM446.76 428.89h0.55v0.55h-0.55zM450.36 419.63h0.55v0.55h-0.55zM458.67 420.44h0.55v0.55h-0.55zM468.62 414.08h0.55v0.55h-0.55zM450.24 417.19h0.55v0.55h-0.55zM451.34 423.45h0.55v0.55h-0.55zM452.73 414.78h0.55v0.55h-0.55zM457.82 420.47h0.55v0.55h-0.55zM471.6 421.87h0.55v0.55h-0.55zM444.37 421.09h0.55v0.55h-0.55zM462.02 419.83h0.55v0.55h-0.55zM451.81 418.26h0.55v0.55h-0.55zM448.28 415.36h0.55v0.55h-0.55zM463.36 421.25h0.55v0.55h-0.55zM438.79 424.27h0.55v0.55h-0.55zM452.33 420.49h0.55v0.55h-0.55zM453.56 424.78h0.55v0.55h-0.55zM457.3 418.9h0.55v0.55h-0.55zM454.15 425.84h0.55v0.55h-0.55zM455.15 420.6h0.55v0.55h-0.55zM457.34 424.75h0.55v0.55h-0.55zM449.59 414.71h0.55v0.55h-0.55zM452.31 426.36h0.55v0.55h-0.55zM465.35 424.55h0.55v0.55h-0.55zM462.11 416.68h0.55v0.55h-0.55zM451.32 422.37h0.55v0.55h-0.55zM459.73 422.43h0.55v0.55h-0.55zM443.93 414.99h0.55v0.55h-0.55zM442.1 427.98h0.55v0.55h-0.55zM451.63 423.45h0.55v0.55h-0.55zM452.14 418.98h0.55v0.55h-0.55zM450.46 418.02h0.55v0.55h-0.55zM453.3 423.31h0.55v0.55h-0.55zM440.68 419.89h0.55v0.55h-0.55zM449.87 417.76h0.55v0.55h-0.55zM458.7 426.81h0.55v0.55h-0.55zM440.05 420.37h0.55v0.55h-0.55zM462.59 423.47h0.55v0.55h-0.55zM437.51 421.9h0.55v0.55h-0.55zM448.81 417.71h0.55v0.55h-0.55zM459.54 415.11h0.55v0.55h-0.55zM454.72 423.47h0.55v0.55h-0.55zM446.53 415.24h0.55v0.55h-0.55zM472.46 415.19h0.55v0.55h-0.55zM464.74 416.63h0.55v0.55h-0.55zM454.24 417.44h0.55v0.55h-0.55zM453.87 420.36h0.55v0.55h-0.55zM442.34 418.96h0.55v0.55h-0.55zM461.1 416.16h0.55v0.55h-0.55zM444.56 421.22h0.55v0.55h-0.55zM448.67 416.08h0.55v0.55h-0.55zM449.86 421.14h0.55v0.55h-0.55zM455.28 413.72h0.55v0.55h-0.55zM439.41 413.95h0.55v0.55h-0.55zM462.84 420.25h0.55v0.55h-0.55zM443.57 418.23h0.55v0.55h-0.55zM464.33 414.34h0.55v0.55h-0.55zM448.05 422.76h0.55v0.55h-0.55zM458.71 422.27h0.55v0.55h-0.55zM443.51 419.38h0.55v0.55h-0.55zM446.14 416.76h0.55v0.55h-0.55zM462.81 418.45h0.55v0.55h-0.55zM449.89 422.44h0.55v0.55h-0.55zM468.54 415.62h0.55v0.55h-0.55zM458.57 418h0.55v0.55h-0.55zM437.34 416.82h0.55v0.55h-0.55zM454.89 418.25h0.55v0.55h-0.55zM447.73 419.31h0.55v0.55h-0.55zM449.26 418.1h0.55v0.55h-0.55zM442.31 421.97h0.55v0.55h-0.55zM444.74 422.82h0.55v0.55h-0.55zM456.49 423.92h0.55v0.55h-0.55zM454.53 415h0.55v0.55h-0.55zM457.73 415.56h0.55v0.55h-0.55zM461.28 424.73h0.55v0.55h-0.55zM448.1 417.9h0.55v0.55h-0.55zM445.85 419.4h0.55v0.55h-0.55zM472.77 424.77h0.55v0.55h-0.55zM454.39 415.53h0.55v0.55h-0.55zM455.5 419.8h0.55v0.55h-0.55zM439.43 418.24h0.55v0.55h-0.55zM439.4 417.15h0.55v0.55h-0.55zM447.07 414.55h0.55v0.55h-0.55zM450.18 425.33h0.55v0.55h-0.55zM454.49 417.7h0.55v0.55h-0.55zM450.46 419.76h0.55v0.55h-0.55zM448.16 416.67h0.55v0.55h-0.55zM451.96 420.49h0.55v0.55h-0.55zM446.67 420.6h0.55v0.55h-0.55zM444.57 418.99h0.55v0.55h-0.55zM444.42 417.57h0.55v0.55h-0.55zM445.57 425.75h0.55v0.55h-0.55zM469.7 419.97h0.55v0.55h-0.55zM453.51 416.61h0.55v0.55h-0.55zM441.74 422.77h0.55v0.55h-0.55zM463.06 421.38h0.55v0.55h-0.55zM456.85 416.13h0.55v0.55h-0.55zM462.71 420.62h0.55v0.55h-0.55zM446.22 424.14h0.55v0.55h-0.55zM444.3 415.05h0.55v0.55h-0.55zM453.2 414.86h0.55v0.55h-0.55zM442.26 422.2h0.55v0.55h-0.55zM453.65 417.34h0.55v0.55h-0.55zM457.93 420.1h0.55v0.55h-0.55zM459.44 423.12h0.55v0.55h-0.55zM459.69 414.63h0.55v0.55h-0.55zM460.25 419.63h0.55v0.55h-0.55zM456.4 419.69h0.55v0.55h-0.55zM459.25 418.81h0.55v0.55h-0.55zM447.53 422h0.55v0.55h-0.55zM448.69 414.22h0.55v0.55h-0.55zM450 417.96h0.55v0.55h-0.55zM448.47 418.52h0.55v0.55h-0.55zM445.35 416.02h0.55v0.55h-0.55zM454.61 419.96h0.55v0.55h-0.55zM445.6 416.73h0.55v0.55h-0.55zM466.7 414.32h0.55v0.55h-0.55zM443.12 423.34h0.55v0.55h-0.55zM438.7 425.17h0.55v0.55h-0.55zM450.78 425.23h0.55v0.55h-0.55zM443.17 416.1h0.55v0.55h-0.55zM458.45 417.46h0.55v0.55h-0.55zM444.43 423.09h0.55v0.55h-0.55zM450.52 415.13h0.55v0.55h-0.55zM450.94 421.08h0.55v0.55h-0.55zM448.57 429.02h0.55v0.55h-0.55zM456.18 418.6h0.55v0.55h-0.55zM452.53 423.1h0.55v0.55h-0.55zM446.03 417.54h0.55v0.55h-0.55zM450.96 417.56h0.55v0.55h-0.55zM444.4 418.3h0.55v0.55h-0.55zM459.78 414.71h0.55v0.55h-0.55zM450.82 417.44h0.55v0.55h-0.55zM451.45 426.94h0.55v0.55h-0.55zM464.7 426.37h0.55v0.55h-0.55zM441.35 415.15h0.55v0.55h-0.55zM456.88 414.06h0.55v0.55h-0.55zM440.54 423.31h0.55v0.55h-0.55zM452.36 421.24h0.55v0.55h-0.55zM446.48 415.08h0.55v0.55h-0.55zM438.89 418.48h0.55v0.55h-0.55zM453.57 414.76h0.55v0.55h-0.55zM456.94 419.52h0.55v0.55h-0.55zM456.01 421.01h0.55v0.55h-0.55zM457.05 423.54h0.55v0.55h-0.55zM448.93 419.44h0.55v0.55h-0.55zM459.68 415.76h0.55v0.55h-0.55zM454.58 426.2h0.55v0.55h-0.55zM449.29 420.17h0.55v0.55h-0.55zM441.25 420.11h0.55v0.55h-0.55zM455.46 419.46h0.55v0.55h-0.55zM456.92 417.99h0.55v0.55h-0.55zM450.18 424.37h0.55v0.55h-0.55zM460.44 420.84h0.55v0.55h-0.55zM468.58 419.37h0.55v0.55h-0.55zM451.52 422.64h0.55v0.55h-0.55zM473.61 418.16h0.55v0.55h-0.55zM449.84 418.58h0.55v0.55h-0.55zM447.18 414.37h0.55v0.55h-0.55zM458.25 423.88h0.55v0.55h-0.55zM457.52 421.18h0.55v0.55h-0.55zM448.29 422.37h0.55v0.55h-0.55zM454.73 416.65h0.55v0.55h-0.55zM454.14 415.07h0.55v0.55h-0.55zM449.32 416.1h0.55v0.55h-0.55zM459.05 416.48h0.55v0.55h-0.55zM453.99 422.39h0.55v0.55h-0.55zM451.42 415.95h0.55v0.55h-0.55zM445.99 420.3h0.55v0.55h-0.55zM451.76 417.46h0.55v0.55h-0.55zM447.87 415.7h0.55v0.55h-0.55zM453.58 422.28h0.55v0.55h-0.55zM452.21 416.59h0.55v0.55h-0.55zM448.67 421.72h0.55v0.55h-0.55zM458.08 416.69h0.55v0.55h-0.55zM452 419.36h0.55v0.55h-0.55zM462.32 421.95h0.55v0.55h-0.55zM470.18 422.89h0.55v0.55h-0.55zM446.58 414.22h0.55v0.55h-0.55zM464.08 422.57h0.55v0.55h-0.55zM446.9 420.72h0.55v0.55h-0.55zM459.07 425.38h0.55v0.55h-0.55zM464.06 418.85h0.55v0.55h-0.55zM453.8 421.68h0.55v0.55h-0.55zM450.58 424.45h0.55v0.55h-0.55zM447.2 420.74h0.55v0.55h-0.55zM452.64 420.72h0.55v0.55h-0.55zM465.49 420.79h0.55v0.55h-0.55zM458.87 420.76h0.55v0.55h-0.55zM453.92 425.73h0.55v0.55h-0.55zM448.12 419.24h0.55v0.55h-0.55zM459.77 421.82h0.55v0.55h-0.55zM453.02 418.64h0.55v0.55h-0.55zM440.29 420.4h0.55v0.55h-0.55zM447.37 424.21h0.55v0.55h-0.55zM454.66 422.79h0.55v0.55h-0.55z" fill="#8e98d8"/>
<path d="M457.19 420.36h0.6v0.6h-0.6zM450.5 416.17h0.6v0.6h-0.6zM444.98 419.52h0.6v0.6h-0.6zM449.4 417.19h0.6v0.6h-0.6zM451.8 419.34h0.6v0.6h-0.6zM443.43 421.9h0.6v0.6h-0.6zM444.44 424.36h0.6v0.6h-0.6zM455.11 418.24h0.6v0.6h-0.6zM458.17 419.53h0.6v0.6h-0.6zM455.52 419.76h0.6v0.6h-0.6zM457.17 422.26h0.6v0.6h-0.6zM449.01 417.87h0.6v0.6h-0.6zM454.1 418.92h0.6v0.6h-0.6zM443.39 424.79h0.6v0.6h-0.6zM443.84 414.01h0.6v0.6h-0.6zM447.5 420.96h0.6v0.6h-0.6zM460.02 418.86h0.6v0.6h-0.6zM451.11 419.93h0.6v0.6h-0.6zM451.21 419.69h0.6v0.6h-0.6zM448.06 420.63h0.6v0.6h-0.6zM454.3 413.08h0.6v0.6h-0.6zM452.25 419.9h0.6v0.6h-0.6zM454.99 417.33h0.6v0.6h-0.6zM447.29 416.98h0.6v0.6h-0.6zM454.93 417.24h0.6v0.6h-0.6zM449.59 422.48h0.6v0.6h-0.6zM449.5 417.12h0.6v0.6h-0.6zM452.33 420h0.6v0.6h-0.6zM456.93 417.17h0.6v0.6h-0.6zM446.31 419.15h0.6v0.6h-0.6zM455.32 415.59h0.6v0.6h-0.6zM450.72 420.28h0.6v0.6h-0.6zM453.64 419.69h0.6v0.6h-0.6zM451.66 417.38h0.6v0.6h-0.6zM448.92 422.51h0.6v0.6h-0.6zM448.15 422.7h0.6v0.6h-0.6zM447.34 427.1h0.6v0.6h-0.6zM445.62 423.69h0.6v0.6h-0.6zM449.05 419.17h0.6v0.6h-0.6zM452.43 417.76h0.6v0.6h-0.6zM461.78 419.72h0.6v0.6h-0.6zM447.32 421.17h0.6v0.6h-0.6zM455.6 416.46h0.6v0.6h-0.6zM454.88 419.66h0.6v0.6h-0.6zM456.04 421.34h0.6v0.6h-0.6zM452.67 418.4h0.6v0.6h-0.6zM456.41 420.3h0.6v0.6h-0.6zM446.63 418.04h0.6v0.6h-0.6zM450.73 418.79h0.6v0.6h-0.6zM462.01 418.48h0.6v0.6h-0.6zM454.65 423.82h0.6v0.6h-0.6zM454.75 420.61h0.6v0.6h-0.6zM457.99 419.99h0.6v0.6h-0.6zM453.46 421.28h0.6v0.6h-0.6zM454.38 417.69h0.6v0.6h-0.6zM447.95 419.18h0.6v0.6h-0.6zM458.4 418.88h0.6v0.6h-0.6zM457.38 420.56h0.6v0.6h-0.6zM451.44 412.56h0.6v0.6h-0.6zM453.61 418.75h0.6v0.6h-0.6zM446.18 420.83h0.6v0.6h-0.6zM452.6 420.46h0.6v0.6h-0.6zM450.24 420.01h0.6v0.6h-0.6zM450.77 422.27h0.6v0.6h-0.6zM453.21 415.79h0.6v0.6h-0.6zM453.58 419.65h0.6v0.6h-0.6zM451.87 415.93h0.6v0.6h-0.6zM457.02 417.55h0.6v0.6h-0.6zM459.15 417.74h0.6v0.6h-0.6zM452.83 419.36h0.6v0.6h-0.6zM453.32 426.41h0.6v0.6h-0.6zM450.67 424.91h0.6v0.6h-0.6zM455.24 417.65h0.6v0.6h-0.6zM457.82 421.68h0.6v0.6h-0.6zM456.59 415.97h0.6v0.6h-0.6zM454.75 418.42h0.6v0.6h-0.6zM452.12 419.13h0.6v0.6h-0.6zM452.87 423.65h0.6v0.6h-0.6zM454.24 414.63h0.6v0.6h-0.6zM457.78 419.71h0.6v0.6h-0.6zM453.24 414.68h0.6v0.6h-0.6zM454.33 418.17h0.6v0.6h-0.6zM456.6 420.67h0.6v0.6h-0.6zM456.07 418.5h0.6v0.6h-0.6zM445.25 422.02h0.6v0.6h-0.6zM454.41 418.61h0.6v0.6h-0.6zM450.43 417.15h0.6v0.6h-0.6zM445.52 416.38h0.6v0.6h-0.6zM452.42 423.7h0.6v0.6h-0.6zM454.55 423.69h0.6v0.6h-0.6z" fill="#6a76cc"/>
<path d="M452.56 419.42h0.5v0.5h-0.5zM448.63 400.43h0.5v0.5h-0.5zM471.49 414.83h0.5v0.5h-0.5zM460.69 415.21h0.5v0.5h-0.5zM455.09 401.61h0.5v0.5h-0.5zM449.72 419.98h0.5v0.5h-0.5zM469.42 424.54h0.5v0.5h-0.5zM470.78 398.71h0.5v0.5h-0.5zM463.8 418.08h0.5v0.5h-0.5zM460.06 417.03h0.5v0.5h-0.5zM443.5 416.69h0.5v0.5h-0.5zM465.43 398.17h0.5v0.5h-0.5zM469.87 401.86h0.5v0.5h-0.5zM451.78 414.43h0.5v0.5h-0.5zM459.49 414.39h0.5v0.5h-0.5zM452.18 424.29h0.5v0.5h-0.5zM452.47 424.09h0.5v0.5h-0.5zM450.26 416.67h0.5v0.5h-0.5z" fill="#a8b0e4"/>
<clipPath id="cl15"><rect x="417.9" y="413.3" width="17.8" height="16.5"/></clipPath>
<g clip-path="url(#cl15)">
<path d="M424.37 425.86h0.6v0.6h-0.6zM428.3 419.41h0.6v0.6h-0.6zM429.58 416.09h0.6v0.6h-0.6zM429.19 419.64h0.6v0.6h-0.6zM429.38 423.64h0.6v0.6h-0.6zM422.38 424h0.6v0.6h-0.6zM427.93 419.3h0.6v0.6h-0.6zM436.23 425.1h0.6v0.6h-0.6zM420.31 417.94h0.6v0.6h-0.6zM427.81 423.14h0.6v0.6h-0.6zM422.59 426.75h0.6v0.6h-0.6zM426.71 418.44h0.6v0.6h-0.6zM424.35 421.17h0.6v0.6h-0.6zM418.45 418.56h0.6v0.6h-0.6zM417.17 420.71h0.6v0.6h-0.6zM429.28 416.74h0.6v0.6h-0.6zM427.83 417.16h0.6v0.6h-0.6zM425.4 419.82h0.6v0.6h-0.6zM420.16 419.69h0.6v0.6h-0.6zM420.09 423.06h0.6v0.6h-0.6zM426.45 426.69h0.6v0.6h-0.6zM418.9 426.26h0.6v0.6h-0.6zM425.83 423.51h0.6v0.6h-0.6zM425.28 428.08h0.6v0.6h-0.6zM433.15 426.16h0.6v0.6h-0.6zM427.52 412.54h0.6v0.6h-0.6zM429 421.76h0.6v0.6h-0.6zM425.55 423.63h0.6v0.6h-0.6zM432.19 422.96h0.6v0.6h-0.6zM423.89 418.78h0.6v0.6h-0.6zM428.07 426.28h0.6v0.6h-0.6zM428.96 423.72h0.6v0.6h-0.6zM423.97 416.94h0.6v0.6h-0.6zM430.95 424.31h0.6v0.6h-0.6zM417.08 419.02h0.6v0.6h-0.6zM431.23 426.16h0.6v0.6h-0.6zM423.02 430.9h0.6v0.6h-0.6zM433.23 425.71h0.6v0.6h-0.6zM425.58 416.32h0.6v0.6h-0.6zM430.27 429h0.6v0.6h-0.6zM430.79 417.58h0.6v0.6h-0.6zM431.91 419.23h0.6v0.6h-0.6zM415.23 423.17h0.6v0.6h-0.6zM412.67 422.34h0.6v0.6h-0.6zM431.28 426.04h0.6v0.6h-0.6zM439.83 424.57h0.6v0.6h-0.6zM421.3 424.35h0.6v0.6h-0.6zM429.62 419.56h0.6v0.6h-0.6zM417.47 420.39h0.6v0.6h-0.6zM422.75 420.3h0.6v0.6h-0.6zM425.28 424.9h0.6v0.6h-0.6zM429.2 427.59h0.6v0.6h-0.6zM423.6 425.51h0.6v0.6h-0.6zM417.5 421.99h0.6v0.6h-0.6zM418.3 418.35h0.6v0.6h-0.6zM431.44 418.08h0.6v0.6h-0.6zM433.42 428.75h0.6v0.6h-0.6zM428.91 420.69h0.6v0.6h-0.6zM421.31 418.54h0.6v0.6h-0.6zM425.87 417.92h0.6v0.6h-0.6zM425.77 418.77h0.6v0.6h-0.6zM429.29 414.56h0.6v0.6h-0.6zM428.63 425.71h0.6v0.6h-0.6zM421.2 427.77h0.6v0.6h-0.6zM433.88 424.65h0.6v0.6h-0.6zM418.76 422.97h0.6v0.6h-0.6zM418.17 420.06h0.6v0.6h-0.6zM419.92 422.51h0.6v0.6h-0.6zM422.49 423.24h0.6v0.6h-0.6zM430.82 419.07h0.6v0.6h-0.6zM428.92 420.24h0.6v0.6h-0.6zM425.11 420.67h0.6v0.6h-0.6zM422.47 419.61h0.6v0.6h-0.6zM430.77 426.05h0.6v0.6h-0.6zM426.03 425.22h0.6v0.6h-0.6zM431.16 424.49h0.6v0.6h-0.6zM415.68 421.55h0.6v0.6h-0.6zM432.53 423.11h0.6v0.6h-0.6zM425.71 420.47h0.6v0.6h-0.6zM427.61 420.41h0.6v0.6h-0.6zM430.44 421.51h0.6v0.6h-0.6zM426.18 423.8h0.6v0.6h-0.6zM432.32 421.27h0.6v0.6h-0.6zM428.45 420.77h0.6v0.6h-0.6zM420.2 421.87h0.6v0.6h-0.6zM428.92 423.31h0.6v0.6h-0.6zM425.76 420.85h0.6v0.6h-0.6zM420.08 421.36h0.6v0.6h-0.6zM434.12 420.96h0.6v0.6h-0.6zM426.02 427.43h0.6v0.6h-0.6zM426.8 422.89h0.6v0.6h-0.6zM420.46 425.15h0.6v0.6h-0.6zM433.1 421.64h0.6v0.6h-0.6zM431.45 425.77h0.6v0.6h-0.6zM412.56 427.25h0.6v0.6h-0.6zM419.21 423.6h0.6v0.6h-0.6zM428.48 420.94h0.6v0.6h-0.6zM424.42 420.36h0.6v0.6h-0.6zM423.86 420.07h0.6v0.6h-0.6zM422.59 421.5h0.6v0.6h-0.6zM426.72 421.07h0.6v0.6h-0.6zM427.73 418.58h0.6v0.6h-0.6zM427.12 425.1h0.6v0.6h-0.6zM434.03 416.81h0.6v0.6h-0.6zM429.97 422.93h0.6v0.6h-0.6zM416.42 419.37h0.6v0.6h-0.6zM421.23 423.94h0.6v0.6h-0.6zM433.57 426.9h0.6v0.6h-0.6zM427.42 427.38h0.6v0.6h-0.6zM428.15 422.77h0.6v0.6h-0.6zM418.64 418.99h0.6v0.6h-0.6zM424.37 418.81h0.6v0.6h-0.6zM421.29 419.98h0.6v0.6h-0.6zM431.18 423.69h0.6v0.6h-0.6zM427.54 420.45h0.6v0.6h-0.6zM423.96 421.76h0.6v0.6h-0.6zM422.51 422.55h0.6v0.6h-0.6zM425.49 420.67h0.6v0.6h-0.6zM427 421.75h0.6v0.6h-0.6zM427.53 418.09h0.6v0.6h-0.6zM421.19 418.52h0.6v0.6h-0.6zM421.26 426.76h0.6v0.6h-0.6zM421.79 423.16h0.6v0.6h-0.6zM429.47 427.37h0.6v0.6h-0.6zM425 419.52h0.6v0.6h-0.6zM426.89 428.78h0.6v0.6h-0.6zM424.68 425.34h0.6v0.6h-0.6zM430.77 417.17h0.6v0.6h-0.6zM431.65 424.65h0.6v0.6h-0.6zM418.34 425.56h0.6v0.6h-0.6zM432.25 422.1h0.6v0.6h-0.6zM427.51 424.63h0.6v0.6h-0.6zM427.78 418.41h0.6v0.6h-0.6zM420.3 418.87h0.6v0.6h-0.6zM422.54 424.26h0.6v0.6h-0.6zM419.85 418.45h0.6v0.6h-0.6zM421.8 426.71h0.6v0.6h-0.6zM434.46 423.57h0.6v0.6h-0.6zM430.1 424.41h0.6v0.6h-0.6zM421.48 419.19h0.6v0.6h-0.6zM428.45 422.29h0.6v0.6h-0.6zM415.73 417.98h0.6v0.6h-0.6zM425.82 416.04h0.6v0.6h-0.6zM428.99 424.26h0.6v0.6h-0.6zM432.35 417.28h0.6v0.6h-0.6zM424.84 424.96h0.6v0.6h-0.6zM421.61 421.86h0.6v0.6h-0.6zM422.57 421.58h0.6v0.6h-0.6zM419.78 421.72h0.6v0.6h-0.6zM433.6 426.24h0.6v0.6h-0.6zM422.84 421.14h0.6v0.6h-0.6zM420.62 425.62h0.6v0.6h-0.6zM427.15 425.93h0.6v0.6h-0.6zM425.93 419.03h0.6v0.6h-0.6zM429.65 416.71h0.6v0.6h-0.6zM424.93 426.09h0.6v0.6h-0.6zM422.71 410.61h0.6v0.6h-0.6zM420.67 428.93h0.6v0.6h-0.6zM424.04 416.74h0.6v0.6h-0.6zM423.31 427.04h0.6v0.6h-0.6z" fill="#5a6ac8"/>
<g filter="url(#bl)">
<rect x="417.7" y="414.9" width="16.4" height="15.4" rx="4" fill="#4258c0"/>
<ellipse cx="426.42" cy="423.09" rx="7.6" ry="6.4" fill="#3a8ccc"/>
<ellipse cx="426.42" cy="423.19" rx="6.6" ry="5.5" fill="#48b4b0"/>
<ellipse cx="426.62" cy="423.29" rx="5.4" ry="4.5" fill="#78c45c"/>
<ellipse cx="426.82" cy="423.39" rx="3.4" ry="2.8" fill="#b4d444"/>
</g>
</g>
<line x1="436.5" y1="378" x2="436.5" y2="430.5" stroke="#707070" stroke-width="0.9"/>
<line x1="417.2" y1="412.5" x2="475.4" y2="412.5" stroke="#707070" stroke-width="0.9"/>
<rect x="417.5" y="378.5" width="58" height="52" fill="none" stroke="#231f20" stroke-width="1"/>
<line x1="417.5" y1="377.5" x2="417.5" y2="431.1" stroke="#231f20" stroke-width="1.4"/>
<line x1="416.6" y1="430.5" x2="475.9" y2="430.5" stroke="#231f20" stroke-width="1.4"/>
<line x1="414.8" y1="430.5" x2="417.2" y2="430.5" stroke="#231f20" stroke-width="0.8"/>
<text class="t" x="411.8" y="432.5" font-size="5.9" text-anchor="end" letter-spacing="-0.15">10<tspan dy="-2.66" font-size="4.01">0</tspan></text>
<line x1="417.2" y1="430.5" x2="417.2" y2="432.5" stroke="#231f20" stroke-width="0.8"/>
<text class="t" x="418" y="442.2" font-size="5.9" text-anchor="middle" letter-spacing="-0.15">10<tspan dy="-2.66" font-size="4.01">0</tspan></text>
<line x1="414.8" y1="417.38" x2="417.2" y2="417.38" stroke="#231f20" stroke-width="0.8"/>
<text class="t" x="411.8" y="419.38" font-size="5.9" text-anchor="end" letter-spacing="-0.15">10<tspan dy="-2.66" font-size="4.01">1</tspan></text>
<line x1="431.75" y1="430.5" x2="431.75" y2="432.5" stroke="#231f20" stroke-width="0.8"/>
<text class="t" x="432.55" y="442.2" font-size="5.9" text-anchor="middle" letter-spacing="-0.15">10<tspan dy="-2.66" font-size="4.01">1</tspan></text>
<line x1="414.8" y1="404.25" x2="417.2" y2="404.25" stroke="#231f20" stroke-width="0.8"/>
<text class="t" x="411.8" y="406.25" font-size="5.9" text-anchor="end" letter-spacing="-0.15">10<tspan dy="-2.66" font-size="4.01">2</tspan></text>
<line x1="446.3" y1="430.5" x2="446.3" y2="432.5" stroke="#231f20" stroke-width="0.8"/>
<text class="t" x="447.1" y="442.2" font-size="5.9" text-anchor="middle" letter-spacing="-0.15">10<tspan dy="-2.66" font-size="4.01">2</tspan></text>
<line x1="414.8" y1="391.12" x2="417.2" y2="391.12" stroke="#231f20" stroke-width="0.8"/>
<text class="t" x="411.8" y="393.12" font-size="5.9" text-anchor="end" letter-spacing="-0.15">10<tspan dy="-2.66" font-size="4.01">3</tspan></text>
<line x1="460.85" y1="430.5" x2="460.85" y2="432.5" stroke="#231f20" stroke-width="0.8"/>
<text class="t" x="461.65" y="442.2" font-size="5.9" text-anchor="middle" letter-spacing="-0.15">10<tspan dy="-2.66" font-size="4.01">3</tspan></text>
<line x1="414.8" y1="378" x2="417.2" y2="378" stroke="#231f20" stroke-width="0.8"/>
<text class="t" x="411.8" y="380" font-size="5.9" text-anchor="end" letter-spacing="-0.15">10<tspan dy="-2.66" font-size="4.01">4</tspan></text>
<line x1="475.4" y1="430.5" x2="475.4" y2="432.5" stroke="#231f20" stroke-width="0.8"/>
<text class="t" x="476.2" y="442.2" font-size="5.9" text-anchor="middle" letter-spacing="-0.15">10<tspan dy="-2.66" font-size="4.01">4</tspan></text>
<text x="397" y="404.25" font-size="7.4" text-anchor="middle" transform="rotate(-90 397 404.25)" textLength="55.4" lengthAdjust="spacingAndGlyphs">DiO (HODxKEL-)</text>
<text x="446.3" y="453.1" font-size="7.4" text-anchor="middle" textLength="54.9" lengthAdjust="spacingAndGlyphs">DiI (HODxKEL+)</text>
<polyline points="327.7,480.5 331.99,479.57 336.28,478.65 344.86,482.04 430.66,480.81" fill="none" stroke="#a8192f" stroke-width="1.3"/>
<circle cx="327.7" cy="480.5" r="1.6" fill="#a8192f"/>
<circle cx="331.99" cy="479.57" r="1.6" fill="#a8192f"/>
<circle cx="336.28" cy="478.65" r="1.6" fill="#a8192f"/>
<circle cx="344.86" cy="482.04" r="1.6" fill="#a8192f"/>
<circle cx="430.66" cy="480.81" r="1.6" fill="#a8192f"/>
<polyline points="327.7,480.5 331.99,481.12 336.28,479.26 344.86,480.81 430.66,478.34" fill="none" stroke="#5cb247" stroke-width="1.3"/>
<circle cx="327.7" cy="480.5" r="1.6" fill="#5cb247"/>
<circle cx="331.99" cy="481.12" r="1.6" fill="#5cb247"/>
<circle cx="336.28" cy="479.26" r="1.6" fill="#5cb247"/>
<circle cx="344.86" cy="480.81" r="1.6" fill="#5cb247"/>
<circle cx="430.66" cy="478.34" r="1.6" fill="#5cb247"/>
<polyline points="327.7,485.44 331.99,489.77 336.28,489.46 344.86,492.24 430.66,494.4" fill="none" stroke="#1f2f78" stroke-width="1.3"/>
<circle cx="327.7" cy="485.44" r="1.6" fill="#1f2f78"/>
<circle cx="331.99" cy="489.77" r="1.6" fill="#1f2f78"/>
<circle cx="336.28" cy="489.46" r="1.6" fill="#1f2f78"/>
<circle cx="344.86" cy="492.24" r="1.6" fill="#1f2f78"/>
<circle cx="430.66" cy="494.4" r="1.6" fill="#1f2f78"/>
<line x1="327.5" y1="471.9" x2="327.5" y2="542.9" stroke="#231f20" stroke-width="1.3"/>
<line x1="327.1" y1="542.5" x2="434.3" y2="542.5" stroke="#231f20" stroke-width="1.3"/>
<line x1="325.4" y1="542.3" x2="327.7" y2="542.3" stroke="#231f20" stroke-width="0.8"/>
<text x="324.1" y="544.2" font-size="5.4" text-anchor="end">0</text>
<line x1="325.4" y1="529.94" x2="327.7" y2="529.94" stroke="#231f20" stroke-width="0.8"/>
<text x="324.1" y="531.84" font-size="5.4" text-anchor="end">20</text>
<line x1="325.4" y1="517.58" x2="327.7" y2="517.58" stroke="#231f20" stroke-width="0.8"/>
<text x="324.1" y="519.48" font-size="5.4" text-anchor="end">40</text>
<line x1="325.4" y1="505.22" x2="327.7" y2="505.22" stroke="#231f20" stroke-width="0.8"/>
<text x="324.1" y="507.12" font-size="5.4" text-anchor="end">60</text>
<line x1="325.4" y1="492.86" x2="327.7" y2="492.86" stroke="#231f20" stroke-width="0.8"/>
<text x="324.1" y="494.76" font-size="5.4" text-anchor="end">80</text>
<line x1="325.4" y1="480.5" x2="327.7" y2="480.5" stroke="#231f20" stroke-width="0.8"/>
<text x="324.1" y="482.4" font-size="5.4" text-anchor="end">100</text>
<line x1="327.7" y1="542.3" x2="327.7" y2="544.7" stroke="#231f20" stroke-width="0.8"/>
<text x="327.7" y="553.9" font-size="5.4" text-anchor="middle">0</text>
<line x1="344.86" y1="542.3" x2="344.86" y2="544.7" stroke="#231f20" stroke-width="0.8"/>
<text x="344.86" y="553.9" font-size="5.4" text-anchor="middle">4</text>
<line x1="362.02" y1="542.3" x2="362.02" y2="544.7" stroke="#231f20" stroke-width="0.8"/>
<text x="362.02" y="553.9" font-size="5.4" text-anchor="middle">8</text>
<line x1="379.18" y1="542.3" x2="379.18" y2="544.7" stroke="#231f20" stroke-width="0.8"/>
<text x="379.18" y="553.9" font-size="5.4" text-anchor="middle">12</text>
<line x1="396.34" y1="542.3" x2="396.34" y2="544.7" stroke="#231f20" stroke-width="0.8"/>
<text x="396.34" y="553.9" font-size="5.4" text-anchor="middle">16</text>
<line x1="413.5" y1="542.3" x2="413.5" y2="544.7" stroke="#231f20" stroke-width="0.8"/>
<text x="413.5" y="553.9" font-size="5.4" text-anchor="middle">20</text>
<line x1="430.66" y1="542.3" x2="430.66" y2="544.7" stroke="#231f20" stroke-width="0.8"/>
<text x="430.66" y="553.9" font-size="5.4" text-anchor="middle">24</text>
<line x1="336.28" y1="542.3" x2="336.28" y2="543.6" stroke="#231f20" stroke-width="0.7"/>
<line x1="353.44" y1="542.3" x2="353.44" y2="543.6" stroke="#231f20" stroke-width="0.7"/>
<line x1="370.6" y1="542.3" x2="370.6" y2="543.6" stroke="#231f20" stroke-width="0.7"/>
<line x1="387.76" y1="542.3" x2="387.76" y2="543.6" stroke="#231f20" stroke-width="0.7"/>
<line x1="404.92" y1="542.3" x2="404.92" y2="543.6" stroke="#231f20" stroke-width="0.7"/>
<line x1="422.08" y1="542.3" x2="422.08" y2="543.6" stroke="#231f20" stroke-width="0.7"/>
<text x="379.2" y="564.6" font-size="8.6" text-anchor="middle" textLength="81.7" lengthAdjust="spacingAndGlyphs">Hours post-transfusion</text>
<circle cx="341.57" cy="476" r="0.8" fill="#333"/>
<circle cx="343.52" cy="476" r="0.8" fill="#333"/>
<circle cx="345.47" cy="476" r="0.8" fill="#333"/>
<circle cx="347.43" cy="476" r="0.8" fill="#333"/>
<circle cx="427.38" cy="473.8" r="0.8" fill="#333"/>
<circle cx="429.32" cy="473.8" r="0.8" fill="#333"/>
<circle cx="431.27" cy="473.8" r="0.8" fill="#333"/>
<circle cx="433.23" cy="473.8" r="0.8" fill="#333"/>
<path d="M434.6 476.9H437.4V481.1H434.6" fill="none" stroke="#2a2a2a" stroke-width="1.2"/>
<text x="439.6" y="480.5" font-size="4.6" fill="#3a3a3a">ns</text>
<line x1="447.3" y1="523.5" x2="454.4" y2="523.5" stroke="#5cb247" stroke-width="1.2"/>
<circle cx="450.9" cy="523.2" r="1.3" fill="#5cb247"/>
<text x="457.8" y="524.9" font-size="4.9">PBS</text>
<line x1="447.3" y1="531.5" x2="454.4" y2="531.5" stroke="#1f2f78" stroke-width="1.2"/>
<circle cx="450.9" cy="531.05" r="1.3" fill="#1f2f78"/>
<text x="457.8" y="532.75" font-size="4.9">Anti-KEL</text>
<line x1="447.3" y1="538.5" x2="454.4" y2="538.5" stroke="#a8192f" stroke-width="1.2"/>
<circle cx="450.9" cy="538.9" r="1.3" fill="#a8192f"/>
<text x="457.8" y="540.6" font-size="4.9">Anti-HEL</text>
</svg></body></html>
